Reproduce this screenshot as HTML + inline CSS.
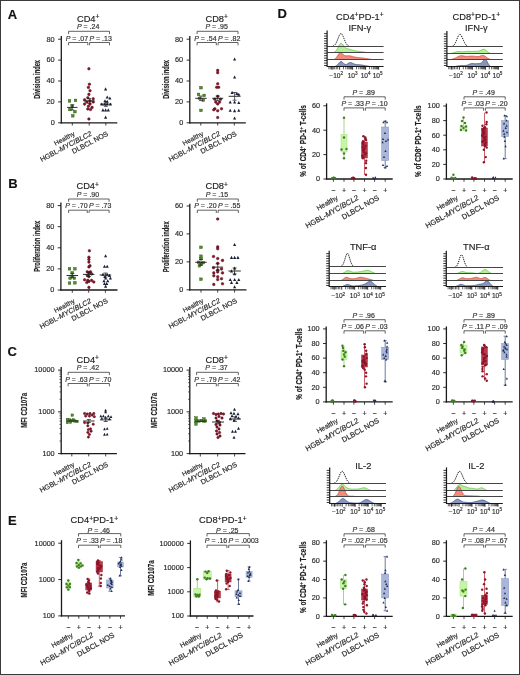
<!DOCTYPE html>
<html><head><meta charset="utf-8"><style>
html,body{margin:0;padding:0;background:#fff;}
svg{display:block;will-change:transform;}
text{font-family:"Liberation Sans", sans-serif;stroke:#333;stroke-width:0.18px;}
</style></head><body>
<svg width="520" height="675" viewBox="0 0 520 675">
<rect width="520" height="675" fill="#fff"/>
<rect x="0.5" y="0.5" width="519" height="674" fill="none" stroke="#3a3a3a" stroke-width="1"/>
<text x="7.8" y="18.5" font-size="13" font-weight="bold" fill="#111">A</text>
<text x="8.2" y="187.9" font-size="13" font-weight="bold" fill="#111">B</text>
<text x="7.6" y="356.4" font-size="13" font-weight="bold" fill="#111">C</text>
<text x="8" y="525.3" font-size="13" font-weight="bold" fill="#111">E</text>
<text x="277.5" y="18.3" font-size="13" font-weight="bold" fill="#111">D</text>
<line x1="61.3" y1="36" x2="61.3" y2="123.4" stroke="#1a1a1a" stroke-width="1.3"/>
<line x1="58.1" y1="122.8" x2="61.3" y2="122.8" stroke="#1a1a1a" stroke-width="0.9"/>
<text x="54.7" y="125.1" font-size="7.3" text-anchor="end" fill="#2a2a2a">0</text>
<line x1="58.1" y1="101.9" x2="61.3" y2="101.9" stroke="#1a1a1a" stroke-width="0.9"/>
<text x="54.7" y="104.2" font-size="7.3" text-anchor="end" fill="#2a2a2a">20</text>
<line x1="58.1" y1="81" x2="61.3" y2="81" stroke="#1a1a1a" stroke-width="0.9"/>
<text x="54.7" y="83.3" font-size="7.3" text-anchor="end" fill="#2a2a2a">40</text>
<line x1="58.1" y1="60.1" x2="61.3" y2="60.1" stroke="#1a1a1a" stroke-width="0.9"/>
<text x="54.7" y="62.4" font-size="7.3" text-anchor="end" fill="#2a2a2a">60</text>
<line x1="58.1" y1="39.2" x2="61.3" y2="39.2" stroke="#1a1a1a" stroke-width="0.9"/>
<text x="54.7" y="41.5" font-size="7.3" text-anchor="end" fill="#2a2a2a">80</text>
<line x1="60.65" y1="122.8" x2="117.3" y2="122.8" stroke="#1a1a1a" stroke-width="1.3"/>
<line x1="72.3" y1="122.8" x2="72.3" y2="125.6" stroke="#1a1a1a" stroke-width="0.8"/>
<line x1="89.2" y1="122.8" x2="89.2" y2="125.6" stroke="#1a1a1a" stroke-width="0.8"/>
<line x1="105.8" y1="122.8" x2="105.8" y2="125.6" stroke="#1a1a1a" stroke-width="0.8"/>
<text x="88.2" y="21.5" font-size="9.3" text-anchor="middle" fill="#1a1a1a">CD4<tspan font-size="6.7" dy="-2.3">+</tspan></text>
<text x="88.15" y="29" font-size="7" text-anchor="middle" fill="#333"><tspan font-style="italic">P</tspan> = .24</text>
<path d="M68.6,34.1V31.3H109.5V34.1" stroke="#3a3a3a" fill="none" stroke-width="0.8"/>
<text x="88.1" y="40.6" font-size="7" text-anchor="end" fill="#333"><tspan font-style="italic">P</tspan> = .07</text>
<text x="89.4" y="40.6" font-size="7" fill="#333"><tspan font-style="italic">P</tspan> = .13</text>
<path d="M68.6,45.3V42.5H87.8V45.3" stroke="#3a3a3a" fill="none" stroke-width="0.8"/>
<path d="M89.6,45.3V42.5H109.5V45.3" stroke="#3a3a3a" fill="none" stroke-width="0.8"/>
<text transform="translate(40.1,79.4) rotate(-90)" x="0" y="0" font-size="8.6" text-anchor="middle" textLength="38.9" lengthAdjust="spacingAndGlyphs" font-weight="bold" fill="#1a1a1a">Division index</text>
<rect x="68.2" y="99.6" width="2.6" height="2.6" fill="#4e8f2a" stroke="#2d5a16" stroke-width="0.45"/>
<rect x="74.2" y="99.1" width="2.6" height="2.6" fill="#4e8f2a" stroke="#2d5a16" stroke-width="0.45"/>
<rect x="70.9" y="105" width="2.6" height="2.6" fill="#4e8f2a" stroke="#2d5a16" stroke-width="0.45"/>
<rect x="68.7" y="108.2" width="2.6" height="2.6" fill="#4e8f2a" stroke="#2d5a16" stroke-width="0.45"/>
<rect x="73.6" y="110.4" width="2.6" height="2.6" fill="#4e8f2a" stroke="#2d5a16" stroke-width="0.45"/>
<rect x="71.5" y="114.5" width="2.6" height="2.6" fill="#4e8f2a" stroke="#2d5a16" stroke-width="0.45"/>
<circle cx="88.9" cy="68.8" r="1.3" fill="#8c1529" stroke="#4a0814" stroke-width="0.45"/>
<circle cx="89.4" cy="84.2" r="1.3" fill="#8c1529" stroke="#4a0814" stroke-width="0.45"/>
<circle cx="88.4" cy="87.4" r="1.3" fill="#8c1529" stroke="#4a0814" stroke-width="0.45"/>
<circle cx="90" cy="90.7" r="1.3" fill="#8c1529" stroke="#4a0814" stroke-width="0.45"/>
<circle cx="88.9" cy="94.4" r="1.3" fill="#8c1529" stroke="#4a0814" stroke-width="0.45"/>
<circle cx="87.8" cy="97.7" r="1.3" fill="#8c1529" stroke="#4a0814" stroke-width="0.45"/>
<circle cx="84.6" cy="99.8" r="1.3" fill="#8c1529" stroke="#4a0814" stroke-width="0.45"/>
<circle cx="93.2" cy="98.8" r="1.3" fill="#8c1529" stroke="#4a0814" stroke-width="0.45"/>
<circle cx="90" cy="100.9" r="1.3" fill="#8c1529" stroke="#4a0814" stroke-width="0.45"/>
<circle cx="86.8" cy="102" r="1.3" fill="#8c1529" stroke="#4a0814" stroke-width="0.45"/>
<circle cx="93.2" cy="102" r="1.3" fill="#8c1529" stroke="#4a0814" stroke-width="0.45"/>
<circle cx="84.6" cy="104.1" r="1.3" fill="#8c1529" stroke="#4a0814" stroke-width="0.45"/>
<circle cx="90" cy="104.1" r="1.3" fill="#8c1529" stroke="#4a0814" stroke-width="0.45"/>
<circle cx="88.4" cy="106.3" r="1.3" fill="#8c1529" stroke="#4a0814" stroke-width="0.45"/>
<circle cx="92.1" cy="107.4" r="1.3" fill="#8c1529" stroke="#4a0814" stroke-width="0.45"/>
<circle cx="87.8" cy="109" r="1.3" fill="#8c1529" stroke="#4a0814" stroke-width="0.45"/>
<circle cx="90.5" cy="109.5" r="1.3" fill="#8c1529" stroke="#4a0814" stroke-width="0.45"/>
<circle cx="88.9" cy="119" r="1.3" fill="#8c1529" stroke="#4a0814" stroke-width="0.45"/>
<path d="M105.6,87.31L107.15,90.39L104.05,90.39Z" fill="#161e36"/>
<path d="M107.2,95.41L108.75,98.49L105.65,98.49Z" fill="#161e36"/>
<path d="M109.9,96.51L111.45,99.59L108.35,99.59Z" fill="#161e36"/>
<path d="M105,99.21L106.55,102.3L103.45,102.3Z" fill="#161e36"/>
<path d="M107.2,99.71L108.75,102.8L105.65,102.8Z" fill="#161e36"/>
<path d="M101.8,102.41L103.35,105.49L100.25,105.49Z" fill="#161e36"/>
<path d="M104.5,102.41L106.05,105.49L102.95,105.49Z" fill="#161e36"/>
<path d="M107.2,102.41L108.75,105.49L105.65,105.49Z" fill="#161e36"/>
<path d="M110.4,102.41L111.95,105.49L108.85,105.49Z" fill="#161e36"/>
<path d="M102.9,108.31L104.45,111.39L101.35,111.39Z" fill="#161e36"/>
<path d="M105.6,108.31L107.15,111.39L104.05,111.39Z" fill="#161e36"/>
<path d="M108.3,108.31L109.85,111.39L106.75,111.39Z" fill="#161e36"/>
<path d="M105.6,115.61L107.15,118.69L104.05,118.69Z" fill="#161e36"/>
<line x1="67.05" y1="107.4" x2="77.55" y2="107.4" stroke="#1a1a1a" stroke-width="0.9"/>
<line x1="72.3" y1="104.7" x2="72.3" y2="110" stroke="#1a1a1a" stroke-width="0.7"/>
<line x1="70.3" y1="104.7" x2="74.3" y2="104.7" stroke="#1a1a1a" stroke-width="0.7"/>
<line x1="70.3" y1="110" x2="74.3" y2="110" stroke="#1a1a1a" stroke-width="0.7"/>
<line x1="83.7" y1="100.9" x2="94.7" y2="100.9" stroke="#1a1a1a" stroke-width="0.9"/>
<line x1="89.2" y1="98.5" x2="89.2" y2="103.3" stroke="#1a1a1a" stroke-width="0.7"/>
<line x1="87.2" y1="98.5" x2="91.2" y2="98.5" stroke="#1a1a1a" stroke-width="0.7"/>
<line x1="87.2" y1="103.3" x2="91.2" y2="103.3" stroke="#1a1a1a" stroke-width="0.7"/>
<line x1="100.05" y1="104.1" x2="111.55" y2="104.1" stroke="#1a1a1a" stroke-width="0.9"/>
<line x1="105.8" y1="101.8" x2="105.8" y2="106.4" stroke="#1a1a1a" stroke-width="0.7"/>
<line x1="103.8" y1="101.8" x2="107.8" y2="101.8" stroke="#1a1a1a" stroke-width="0.7"/>
<line x1="103.8" y1="106.4" x2="107.8" y2="106.4" stroke="#1a1a1a" stroke-width="0.7"/>
<text transform="translate(75.3,135.2) rotate(-28)" x="0" y="0" font-size="6.6" text-anchor="end" fill="#1a1a1a">Healthy</text>
<text transform="translate(92.2,135.2) rotate(-28)" x="0" y="0" font-size="7.1" text-anchor="end" fill="#1a1a1a">HGBL-<tspan font-style="italic">MYC</tspan>/<tspan font-style="italic">BLC2</tspan></text>
<text transform="translate(108.8,135.2) rotate(-28)" x="0" y="0" font-size="7.1" text-anchor="end" fill="#1a1a1a">DLBCL NOS</text>
<line x1="189.8" y1="36" x2="189.8" y2="123.4" stroke="#1a1a1a" stroke-width="1.3"/>
<line x1="186.6" y1="122.8" x2="189.8" y2="122.8" stroke="#1a1a1a" stroke-width="0.9"/>
<text x="183.2" y="125.1" font-size="7.3" text-anchor="end" fill="#2a2a2a">0</text>
<line x1="186.6" y1="101.9" x2="189.8" y2="101.9" stroke="#1a1a1a" stroke-width="0.9"/>
<text x="183.2" y="104.2" font-size="7.3" text-anchor="end" fill="#2a2a2a">20</text>
<line x1="186.6" y1="81" x2="189.8" y2="81" stroke="#1a1a1a" stroke-width="0.9"/>
<text x="183.2" y="83.3" font-size="7.3" text-anchor="end" fill="#2a2a2a">40</text>
<line x1="186.6" y1="60.1" x2="189.8" y2="60.1" stroke="#1a1a1a" stroke-width="0.9"/>
<text x="183.2" y="62.4" font-size="7.3" text-anchor="end" fill="#2a2a2a">60</text>
<line x1="186.6" y1="39.2" x2="189.8" y2="39.2" stroke="#1a1a1a" stroke-width="0.9"/>
<text x="183.2" y="41.5" font-size="7.3" text-anchor="end" fill="#2a2a2a">80</text>
<line x1="189.15" y1="122.8" x2="245.8" y2="122.8" stroke="#1a1a1a" stroke-width="1.3"/>
<line x1="200.8" y1="122.8" x2="200.8" y2="125.6" stroke="#1a1a1a" stroke-width="0.8"/>
<line x1="217.7" y1="122.8" x2="217.7" y2="125.6" stroke="#1a1a1a" stroke-width="0.8"/>
<line x1="234.3" y1="122.8" x2="234.3" y2="125.6" stroke="#1a1a1a" stroke-width="0.8"/>
<text x="216.7" y="21.5" font-size="9.3" text-anchor="middle" fill="#1a1a1a">CD8<tspan font-size="6.7" dy="-2.3">+</tspan></text>
<text x="216.65" y="29" font-size="7" text-anchor="middle" fill="#333"><tspan font-style="italic">P</tspan> = .95</text>
<path d="M197.1,34.1V31.3H238V34.1" stroke="#3a3a3a" fill="none" stroke-width="0.8"/>
<text x="216.6" y="40.6" font-size="7" text-anchor="end" fill="#333"><tspan font-style="italic">P</tspan> = .54</text>
<text x="217.9" y="40.6" font-size="7" fill="#333"><tspan font-style="italic">P</tspan> = .82</text>
<path d="M197.1,45.3V42.5H216.3V45.3" stroke="#3a3a3a" fill="none" stroke-width="0.8"/>
<path d="M218.1,45.3V42.5H238V45.3" stroke="#3a3a3a" fill="none" stroke-width="0.8"/>
<text transform="translate(168.6,79.4) rotate(-90)" x="0" y="0" font-size="8.6" text-anchor="middle" textLength="38.9" lengthAdjust="spacingAndGlyphs" font-weight="bold" fill="#1a1a1a">Division index</text>
<rect x="199.7" y="86.4" width="2.6" height="2.6" fill="#4e8f2a" stroke="#2d5a16" stroke-width="0.45"/>
<rect x="197.2" y="93.1" width="2.6" height="2.6" fill="#4e8f2a" stroke="#2d5a16" stroke-width="0.45"/>
<rect x="202.9" y="94.1" width="2.6" height="2.6" fill="#4e8f2a" stroke="#2d5a16" stroke-width="0.45"/>
<rect x="198.1" y="97" width="2.6" height="2.6" fill="#4e8f2a" stroke="#2d5a16" stroke-width="0.45"/>
<rect x="202" y="98.9" width="2.6" height="2.6" fill="#4e8f2a" stroke="#2d5a16" stroke-width="0.45"/>
<rect x="199.7" y="109.1" width="2.6" height="2.6" fill="#4e8f2a" stroke="#2d5a16" stroke-width="0.45"/>
<circle cx="217.7" cy="70.4" r="1.3" fill="#8c1529" stroke="#4a0814" stroke-width="0.45"/>
<circle cx="217.7" cy="72.7" r="1.3" fill="#8c1529" stroke="#4a0814" stroke-width="0.45"/>
<circle cx="217.7" cy="83.8" r="1.3" fill="#8c1529" stroke="#4a0814" stroke-width="0.45"/>
<circle cx="216.7" cy="87.3" r="1.3" fill="#8c1529" stroke="#4a0814" stroke-width="0.45"/>
<circle cx="218.7" cy="87.3" r="1.3" fill="#8c1529" stroke="#4a0814" stroke-width="0.45"/>
<circle cx="217.7" cy="96.3" r="1.3" fill="#8c1529" stroke="#4a0814" stroke-width="0.45"/>
<circle cx="214.8" cy="99.2" r="1.3" fill="#8c1529" stroke="#4a0814" stroke-width="0.45"/>
<circle cx="220.6" cy="99.2" r="1.3" fill="#8c1529" stroke="#4a0814" stroke-width="0.45"/>
<circle cx="215.8" cy="102.1" r="1.3" fill="#8c1529" stroke="#4a0814" stroke-width="0.45"/>
<circle cx="219.6" cy="102.1" r="1.3" fill="#8c1529" stroke="#4a0814" stroke-width="0.45"/>
<circle cx="217.7" cy="104" r="1.3" fill="#8c1529" stroke="#4a0814" stroke-width="0.45"/>
<circle cx="214.8" cy="108.8" r="1.3" fill="#8c1529" stroke="#4a0814" stroke-width="0.45"/>
<circle cx="221.5" cy="108.8" r="1.3" fill="#8c1529" stroke="#4a0814" stroke-width="0.45"/>
<circle cx="217.7" cy="110.8" r="1.3" fill="#8c1529" stroke="#4a0814" stroke-width="0.45"/>
<circle cx="213.8" cy="109.8" r="1.3" fill="#8c1529" stroke="#4a0814" stroke-width="0.45"/>
<circle cx="217.7" cy="117.5" r="1.3" fill="#8c1529" stroke="#4a0814" stroke-width="0.45"/>
<path d="M234.6,57.51L236.15,60.6L233.05,60.6Z" fill="#161e36"/>
<path d="M234.6,75.41L236.15,78.49L233.05,78.49Z" fill="#161e36"/>
<path d="M232.1,90.81L233.65,93.89L230.55,93.89Z" fill="#161e36"/>
<path d="M236.9,91.81L238.45,94.89L235.35,94.89Z" fill="#161e36"/>
<path d="M238.8,92.71L240.35,95.8L237.25,95.8Z" fill="#161e36"/>
<path d="M230.2,100.41L231.75,103.49L228.65,103.49Z" fill="#161e36"/>
<path d="M234.6,100.41L236.15,103.49L233.05,103.49Z" fill="#161e36"/>
<path d="M238.8,101.01L240.35,104.09L237.25,104.09Z" fill="#161e36"/>
<path d="M230.2,108.71L231.75,111.8L228.65,111.8Z" fill="#161e36"/>
<path d="M234.6,109.11L236.15,112.19L233.05,112.19Z" fill="#161e36"/>
<path d="M238.8,108.71L240.35,111.8L237.25,111.8Z" fill="#161e36"/>
<path d="M234.6,116.41L236.15,119.49L233.05,119.49Z" fill="#161e36"/>
<line x1="195.25" y1="98.3" x2="206.75" y2="98.3" stroke="#1a1a1a" stroke-width="0.9"/>
<line x1="201" y1="96" x2="201" y2="100.6" stroke="#1a1a1a" stroke-width="0.7"/>
<line x1="199" y1="96" x2="203" y2="96" stroke="#1a1a1a" stroke-width="0.7"/>
<line x1="199" y1="100.6" x2="203" y2="100.6" stroke="#1a1a1a" stroke-width="0.7"/>
<line x1="212.2" y1="98.3" x2="223.2" y2="98.3" stroke="#1a1a1a" stroke-width="0.9"/>
<line x1="217.7" y1="96" x2="217.7" y2="100.6" stroke="#1a1a1a" stroke-width="0.7"/>
<line x1="215.7" y1="96" x2="219.7" y2="96" stroke="#1a1a1a" stroke-width="0.7"/>
<line x1="215.7" y1="100.6" x2="219.7" y2="100.6" stroke="#1a1a1a" stroke-width="0.7"/>
<line x1="228.6" y1="96.3" x2="240.6" y2="96.3" stroke="#1a1a1a" stroke-width="0.9"/>
<line x1="234.6" y1="92.5" x2="234.6" y2="100.2" stroke="#1a1a1a" stroke-width="0.7"/>
<line x1="232.6" y1="92.5" x2="236.6" y2="92.5" stroke="#1a1a1a" stroke-width="0.7"/>
<line x1="232.6" y1="100.2" x2="236.6" y2="100.2" stroke="#1a1a1a" stroke-width="0.7"/>
<text transform="translate(203.8,135.2) rotate(-28)" x="0" y="0" font-size="6.6" text-anchor="end" fill="#1a1a1a">Healthy</text>
<text transform="translate(220.7,135.2) rotate(-28)" x="0" y="0" font-size="7.1" text-anchor="end" fill="#1a1a1a">HGBL-<tspan font-style="italic">MYC</tspan>/<tspan font-style="italic">BLC2</tspan></text>
<text transform="translate(237.3,135.2) rotate(-28)" x="0" y="0" font-size="7.1" text-anchor="end" fill="#1a1a1a">DLBCL NOS</text>
<line x1="60.9" y1="202.6" x2="60.9" y2="290.6" stroke="#1a1a1a" stroke-width="1.3"/>
<line x1="57.7" y1="290" x2="60.9" y2="290" stroke="#1a1a1a" stroke-width="0.9"/>
<text x="54.3" y="292.3" font-size="7.3" text-anchor="end" fill="#2a2a2a">0</text>
<line x1="57.7" y1="268.9" x2="60.9" y2="268.9" stroke="#1a1a1a" stroke-width="0.9"/>
<text x="54.3" y="271.2" font-size="7.3" text-anchor="end" fill="#2a2a2a">20</text>
<line x1="57.7" y1="247.8" x2="60.9" y2="247.8" stroke="#1a1a1a" stroke-width="0.9"/>
<text x="54.3" y="250.1" font-size="7.3" text-anchor="end" fill="#2a2a2a">40</text>
<line x1="57.7" y1="226.7" x2="60.9" y2="226.7" stroke="#1a1a1a" stroke-width="0.9"/>
<text x="54.3" y="229" font-size="7.3" text-anchor="end" fill="#2a2a2a">60</text>
<line x1="57.7" y1="205.6" x2="60.9" y2="205.6" stroke="#1a1a1a" stroke-width="0.9"/>
<text x="54.3" y="207.9" font-size="7.3" text-anchor="end" fill="#2a2a2a">80</text>
<line x1="60.25" y1="290" x2="117.5" y2="290" stroke="#1a1a1a" stroke-width="1.3"/>
<line x1="72.3" y1="290" x2="72.3" y2="292.8" stroke="#1a1a1a" stroke-width="0.8"/>
<line x1="88.7" y1="290" x2="88.7" y2="292.8" stroke="#1a1a1a" stroke-width="0.8"/>
<line x1="105.4" y1="290" x2="105.4" y2="292.8" stroke="#1a1a1a" stroke-width="0.8"/>
<text x="87.7" y="189.2" font-size="9.3" text-anchor="middle" fill="#1a1a1a">CD4<tspan font-size="6.7" dy="-2.3">+</tspan></text>
<text x="87.95" y="196.7" font-size="7" text-anchor="middle" fill="#333"><tspan font-style="italic">P</tspan> = .90</text>
<path d="M68.6,201.8V199H109.1V201.8" stroke="#3a3a3a" fill="none" stroke-width="0.8"/>
<text x="87.6" y="208.3" font-size="7" text-anchor="end" fill="#333"><tspan font-style="italic">P</tspan> = .70</text>
<text x="88.9" y="208.3" font-size="7" fill="#333"><tspan font-style="italic">P</tspan> = .73</text>
<path d="M68.6,213V210.2H87.3V213" stroke="#3a3a3a" fill="none" stroke-width="0.8"/>
<path d="M89.1,213V210.2H109.1V213" stroke="#3a3a3a" fill="none" stroke-width="0.8"/>
<text transform="translate(39.7,246.3) rotate(-90)" x="0" y="0" font-size="8.6" text-anchor="middle" textLength="51" lengthAdjust="spacingAndGlyphs" font-weight="bold" fill="#1a1a1a">Proliferation index</text>
<rect x="68.2" y="267.5" width="2.6" height="2.6" fill="#4e8f2a" stroke="#2d5a16" stroke-width="0.45"/>
<rect x="73.6" y="267.5" width="2.6" height="2.6" fill="#4e8f2a" stroke="#2d5a16" stroke-width="0.45"/>
<rect x="70.9" y="271.5" width="2.6" height="2.6" fill="#4e8f2a" stroke="#2d5a16" stroke-width="0.45"/>
<rect x="70.9" y="275.3" width="2.6" height="2.6" fill="#4e8f2a" stroke="#2d5a16" stroke-width="0.45"/>
<rect x="68.8" y="276.9" width="2.6" height="2.6" fill="#4e8f2a" stroke="#2d5a16" stroke-width="0.45"/>
<rect x="73.1" y="276.9" width="2.6" height="2.6" fill="#4e8f2a" stroke="#2d5a16" stroke-width="0.45"/>
<rect x="68.2" y="281.8" width="2.6" height="2.6" fill="#4e8f2a" stroke="#2d5a16" stroke-width="0.45"/>
<rect x="73.6" y="281.5" width="2.6" height="2.6" fill="#4e8f2a" stroke="#2d5a16" stroke-width="0.45"/>
<circle cx="89.4" cy="250.8" r="1.3" fill="#8c1529" stroke="#4a0814" stroke-width="0.45"/>
<circle cx="88.9" cy="257.2" r="1.3" fill="#8c1529" stroke="#4a0814" stroke-width="0.45"/>
<circle cx="88.9" cy="259.4" r="1.3" fill="#8c1529" stroke="#4a0814" stroke-width="0.45"/>
<circle cx="88.9" cy="262.1" r="1.3" fill="#8c1529" stroke="#4a0814" stroke-width="0.45"/>
<circle cx="88.9" cy="266.9" r="1.3" fill="#8c1529" stroke="#4a0814" stroke-width="0.45"/>
<circle cx="90" cy="265.8" r="1.3" fill="#8c1529" stroke="#4a0814" stroke-width="0.45"/>
<circle cx="87.3" cy="271.8" r="1.3" fill="#8c1529" stroke="#4a0814" stroke-width="0.45"/>
<circle cx="90.5" cy="271.8" r="1.3" fill="#8c1529" stroke="#4a0814" stroke-width="0.45"/>
<circle cx="88.9" cy="272.8" r="1.3" fill="#8c1529" stroke="#4a0814" stroke-width="0.45"/>
<circle cx="87.3" cy="275.5" r="1.3" fill="#8c1529" stroke="#4a0814" stroke-width="0.45"/>
<circle cx="91.6" cy="273.9" r="1.3" fill="#8c1529" stroke="#4a0814" stroke-width="0.45"/>
<circle cx="88.9" cy="276.6" r="1.3" fill="#8c1529" stroke="#4a0814" stroke-width="0.45"/>
<circle cx="84.6" cy="279.8" r="1.3" fill="#8c1529" stroke="#4a0814" stroke-width="0.45"/>
<circle cx="87.8" cy="280.4" r="1.3" fill="#8c1529" stroke="#4a0814" stroke-width="0.45"/>
<circle cx="91.6" cy="280.4" r="1.3" fill="#8c1529" stroke="#4a0814" stroke-width="0.45"/>
<circle cx="88.9" cy="281.4" r="1.3" fill="#8c1529" stroke="#4a0814" stroke-width="0.45"/>
<circle cx="86.8" cy="282.5" r="1.3" fill="#8c1529" stroke="#4a0814" stroke-width="0.45"/>
<circle cx="93.8" cy="282" r="1.3" fill="#8c1529" stroke="#4a0814" stroke-width="0.45"/>
<circle cx="88.9" cy="287.4" r="1.3" fill="#8c1529" stroke="#4a0814" stroke-width="0.45"/>
<path d="M105.6,254.2L107.15,257.3L104.05,257.3Z" fill="#161e36"/>
<path d="M104.5,264.7L106.05,267.79L102.95,267.79Z" fill="#161e36"/>
<path d="M107.2,264.7L108.75,267.79L105.65,267.79Z" fill="#161e36"/>
<path d="M102.9,272.7L104.45,275.79L101.35,275.79Z" fill="#161e36"/>
<path d="M107.2,272.7L108.75,275.79L105.65,275.79Z" fill="#161e36"/>
<path d="M109.4,273.81L110.95,276.89L107.85,276.89Z" fill="#161e36"/>
<path d="M105,274.91L106.55,278L103.45,278Z" fill="#161e36"/>
<path d="M110.4,276.5L111.95,279.59L108.85,279.59Z" fill="#161e36"/>
<path d="M105.6,276.5L107.15,279.59L104.05,279.59Z" fill="#161e36"/>
<path d="M104,279.2L105.55,282.29L102.45,282.29Z" fill="#161e36"/>
<path d="M107.7,279.2L109.25,282.29L106.15,282.29Z" fill="#161e36"/>
<path d="M104.5,281.91L106.05,285L102.95,285Z" fill="#161e36"/>
<path d="M106.7,281.91L108.25,285L105.15,285Z" fill="#161e36"/>
<path d="M105.6,284.61L107.15,287.69L104.05,287.69Z" fill="#161e36"/>
<line x1="66.55" y1="275.5" x2="78.05" y2="275.5" stroke="#1a1a1a" stroke-width="0.9"/>
<line x1="72.3" y1="273.4" x2="72.3" y2="277.7" stroke="#1a1a1a" stroke-width="0.7"/>
<line x1="70.3" y1="273.4" x2="74.3" y2="273.4" stroke="#1a1a1a" stroke-width="0.7"/>
<line x1="70.3" y1="277.7" x2="74.3" y2="277.7" stroke="#1a1a1a" stroke-width="0.7"/>
<line x1="82.95" y1="274.4" x2="94.45" y2="274.4" stroke="#1a1a1a" stroke-width="0.9"/>
<line x1="88.7" y1="272.3" x2="88.7" y2="276.5" stroke="#1a1a1a" stroke-width="0.7"/>
<line x1="86.7" y1="272.3" x2="90.7" y2="272.3" stroke="#1a1a1a" stroke-width="0.7"/>
<line x1="86.7" y1="276.5" x2="90.7" y2="276.5" stroke="#1a1a1a" stroke-width="0.7"/>
<line x1="99.65" y1="275" x2="111.15" y2="275" stroke="#1a1a1a" stroke-width="0.9"/>
<line x1="105.4" y1="273" x2="105.4" y2="277" stroke="#1a1a1a" stroke-width="0.7"/>
<line x1="103.4" y1="273" x2="107.4" y2="273" stroke="#1a1a1a" stroke-width="0.7"/>
<line x1="103.4" y1="277" x2="107.4" y2="277" stroke="#1a1a1a" stroke-width="0.7"/>
<text transform="translate(75.3,302.4) rotate(-28)" x="0" y="0" font-size="6.6" text-anchor="end" fill="#1a1a1a">Healthy</text>
<text transform="translate(91.7,302.4) rotate(-28)" x="0" y="0" font-size="7.1" text-anchor="end" fill="#1a1a1a">HGBL-<tspan font-style="italic">MYC</tspan>/<tspan font-style="italic">BLC2</tspan></text>
<text transform="translate(108.4,302.4) rotate(-28)" x="0" y="0" font-size="7.1" text-anchor="end" fill="#1a1a1a">DLBCL NOS</text>
<line x1="189.8" y1="203.7" x2="189.8" y2="290.4" stroke="#1a1a1a" stroke-width="1.3"/>
<line x1="186.6" y1="289.8" x2="189.8" y2="289.8" stroke="#1a1a1a" stroke-width="0.9"/>
<text x="183.2" y="292.1" font-size="7.3" text-anchor="end" fill="#2a2a2a">0</text>
<line x1="186.6" y1="261.87" x2="189.8" y2="261.87" stroke="#1a1a1a" stroke-width="0.9"/>
<text x="183.2" y="264.17" font-size="7.3" text-anchor="end" fill="#2a2a2a">20</text>
<line x1="186.6" y1="233.93" x2="189.8" y2="233.93" stroke="#1a1a1a" stroke-width="0.9"/>
<text x="183.2" y="236.23" font-size="7.3" text-anchor="end" fill="#2a2a2a">40</text>
<line x1="186.6" y1="206" x2="189.8" y2="206" stroke="#1a1a1a" stroke-width="0.9"/>
<text x="183.2" y="208.3" font-size="7.3" text-anchor="end" fill="#2a2a2a">60</text>
<line x1="189.15" y1="289.8" x2="246.5" y2="289.8" stroke="#1a1a1a" stroke-width="1.3"/>
<line x1="201" y1="289.8" x2="201" y2="292.6" stroke="#1a1a1a" stroke-width="0.8"/>
<line x1="217.7" y1="289.8" x2="217.7" y2="292.6" stroke="#1a1a1a" stroke-width="0.8"/>
<line x1="234.6" y1="289.8" x2="234.6" y2="292.6" stroke="#1a1a1a" stroke-width="0.8"/>
<text x="216.7" y="189.2" font-size="9.3" text-anchor="middle" fill="#1a1a1a">CD8<tspan font-size="6.7" dy="-2.3">+</tspan></text>
<text x="216.9" y="196.7" font-size="7" text-anchor="middle" fill="#333"><tspan font-style="italic">P</tspan> = .15</text>
<path d="M197.3,201.8V199H238.3V201.8" stroke="#3a3a3a" fill="none" stroke-width="0.8"/>
<text x="216.6" y="208.3" font-size="7" text-anchor="end" fill="#333"><tspan font-style="italic">P</tspan> = .20</text>
<text x="217.9" y="208.3" font-size="7" fill="#333"><tspan font-style="italic">P</tspan> = .55</text>
<path d="M197.3,213V210.2H216.3V213" stroke="#3a3a3a" fill="none" stroke-width="0.8"/>
<path d="M218.1,213V210.2H238.3V213" stroke="#3a3a3a" fill="none" stroke-width="0.8"/>
<text transform="translate(168.6,246.75) rotate(-90)" x="0" y="0" font-size="8.6" text-anchor="middle" textLength="51" lengthAdjust="spacingAndGlyphs" font-weight="bold" fill="#1a1a1a">Proliferation index</text>
<rect x="199.7" y="246" width="2.6" height="2.6" fill="#4e8f2a" stroke="#2d5a16" stroke-width="0.45"/>
<rect x="199.7" y="254.9" width="2.6" height="2.6" fill="#4e8f2a" stroke="#2d5a16" stroke-width="0.45"/>
<rect x="199.7" y="257.2" width="2.6" height="2.6" fill="#4e8f2a" stroke="#2d5a16" stroke-width="0.45"/>
<rect x="197.2" y="261" width="2.6" height="2.6" fill="#4e8f2a" stroke="#2d5a16" stroke-width="0.45"/>
<rect x="202" y="261.4" width="2.6" height="2.6" fill="#4e8f2a" stroke="#2d5a16" stroke-width="0.45"/>
<rect x="199.7" y="262.9" width="2.6" height="2.6" fill="#4e8f2a" stroke="#2d5a16" stroke-width="0.45"/>
<rect x="198.1" y="264.5" width="2.6" height="2.6" fill="#4e8f2a" stroke="#2d5a16" stroke-width="0.45"/>
<rect x="199.7" y="277.9" width="2.6" height="2.6" fill="#4e8f2a" stroke="#2d5a16" stroke-width="0.45"/>
<circle cx="217.7" cy="219" r="1.3" fill="#8c1529" stroke="#4a0814" stroke-width="0.45"/>
<circle cx="217.7" cy="246.9" r="1.3" fill="#8c1529" stroke="#4a0814" stroke-width="0.45"/>
<circle cx="217.7" cy="248.8" r="1.3" fill="#8c1529" stroke="#4a0814" stroke-width="0.45"/>
<circle cx="213.5" cy="256.5" r="1.3" fill="#8c1529" stroke="#4a0814" stroke-width="0.45"/>
<circle cx="217.7" cy="258.5" r="1.3" fill="#8c1529" stroke="#4a0814" stroke-width="0.45"/>
<circle cx="222.5" cy="260.4" r="1.3" fill="#8c1529" stroke="#4a0814" stroke-width="0.45"/>
<circle cx="217.7" cy="263.3" r="1.3" fill="#8c1529" stroke="#4a0814" stroke-width="0.45"/>
<circle cx="213.5" cy="267.7" r="1.3" fill="#8c1529" stroke="#4a0814" stroke-width="0.45"/>
<circle cx="221.5" cy="269" r="1.3" fill="#8c1529" stroke="#4a0814" stroke-width="0.45"/>
<circle cx="217.7" cy="270" r="1.3" fill="#8c1529" stroke="#4a0814" stroke-width="0.45"/>
<circle cx="217.7" cy="271.9" r="1.3" fill="#8c1529" stroke="#4a0814" stroke-width="0.45"/>
<circle cx="213.8" cy="272.9" r="1.3" fill="#8c1529" stroke="#4a0814" stroke-width="0.45"/>
<circle cx="222.5" cy="272.9" r="1.3" fill="#8c1529" stroke="#4a0814" stroke-width="0.45"/>
<circle cx="213.8" cy="275.8" r="1.3" fill="#8c1529" stroke="#4a0814" stroke-width="0.45"/>
<circle cx="217.7" cy="276.7" r="1.3" fill="#8c1529" stroke="#4a0814" stroke-width="0.45"/>
<circle cx="221.5" cy="278.7" r="1.3" fill="#8c1529" stroke="#4a0814" stroke-width="0.45"/>
<circle cx="217.7" cy="279.6" r="1.3" fill="#8c1529" stroke="#4a0814" stroke-width="0.45"/>
<circle cx="213.8" cy="284.4" r="1.3" fill="#8c1529" stroke="#4a0814" stroke-width="0.45"/>
<circle cx="222.5" cy="283.8" r="1.3" fill="#8c1529" stroke="#4a0814" stroke-width="0.45"/>
<path d="M234.6,242.9L236.15,246L233.05,246Z" fill="#161e36"/>
<path d="M231.5,255.81L233.05,258.89L229.95,258.89Z" fill="#161e36"/>
<path d="M234.6,255.81L236.15,258.89L233.05,258.89Z" fill="#161e36"/>
<path d="M237.9,255.81L239.45,258.89L236.35,258.89Z" fill="#161e36"/>
<path d="M234.6,266.41L236.15,269.5L233.05,269.5Z" fill="#161e36"/>
<path d="M231.5,269.31L233.05,272.39L229.95,272.39Z" fill="#161e36"/>
<path d="M234.6,272.11L236.15,275.19L233.05,275.19Z" fill="#161e36"/>
<path d="M230.2,277.91L231.75,281L228.65,281Z" fill="#161e36"/>
<path d="M234.6,277.91L236.15,281L233.05,281Z" fill="#161e36"/>
<path d="M238.8,277.91L240.35,281L237.25,281Z" fill="#161e36"/>
<path d="M231.5,280.81L233.05,283.89L229.95,283.89Z" fill="#161e36"/>
<path d="M236.9,280.81L238.45,283.89L235.35,283.89Z" fill="#161e36"/>
<path d="M234.6,285.2L236.15,288.29L233.05,288.29Z" fill="#161e36"/>
<line x1="195.25" y1="262.3" x2="206.75" y2="262.3" stroke="#1a1a1a" stroke-width="0.9"/>
<line x1="201" y1="259.4" x2="201" y2="265.2" stroke="#1a1a1a" stroke-width="0.7"/>
<line x1="199" y1="259.4" x2="203" y2="259.4" stroke="#1a1a1a" stroke-width="0.7"/>
<line x1="199" y1="265.2" x2="203" y2="265.2" stroke="#1a1a1a" stroke-width="0.7"/>
<line x1="212.2" y1="267.1" x2="223.2" y2="267.1" stroke="#1a1a1a" stroke-width="0.9"/>
<line x1="217.7" y1="263.8" x2="217.7" y2="270.4" stroke="#1a1a1a" stroke-width="0.7"/>
<line x1="215.7" y1="263.8" x2="219.7" y2="263.8" stroke="#1a1a1a" stroke-width="0.7"/>
<line x1="215.7" y1="270.4" x2="219.7" y2="270.4" stroke="#1a1a1a" stroke-width="0.7"/>
<line x1="228.35" y1="271" x2="240.85" y2="271" stroke="#1a1a1a" stroke-width="0.9"/>
<line x1="234.6" y1="268" x2="234.6" y2="274" stroke="#1a1a1a" stroke-width="0.7"/>
<line x1="232.6" y1="268" x2="236.6" y2="268" stroke="#1a1a1a" stroke-width="0.7"/>
<line x1="232.6" y1="274" x2="236.6" y2="274" stroke="#1a1a1a" stroke-width="0.7"/>
<text transform="translate(204,302.2) rotate(-28)" x="0" y="0" font-size="6.6" text-anchor="end" fill="#1a1a1a">Healthy</text>
<text transform="translate(220.7,302.2) rotate(-28)" x="0" y="0" font-size="7.1" text-anchor="end" fill="#1a1a1a">HGBL-<tspan font-style="italic">MYC</tspan>/<tspan font-style="italic">BLC2</tspan></text>
<text transform="translate(237.6,302.2) rotate(-28)" x="0" y="0" font-size="7.1" text-anchor="end" fill="#1a1a1a">DLBCL NOS</text>
<line x1="61.2" y1="367.1" x2="61.2" y2="454.2" stroke="#1a1a1a" stroke-width="1.3"/>
<line x1="58" y1="453.6" x2="61.2" y2="453.6" stroke="#1a1a1a" stroke-width="0.9"/>
<text x="54.6" y="455.9" font-size="7.3" text-anchor="end" fill="#2a2a2a">100</text>
<line x1="58" y1="411.85" x2="61.2" y2="411.85" stroke="#1a1a1a" stroke-width="0.9"/>
<text x="54.6" y="414.15" font-size="7.3" text-anchor="end" fill="#2a2a2a">1000</text>
<line x1="58" y1="370.1" x2="61.2" y2="370.1" stroke="#1a1a1a" stroke-width="0.9"/>
<text x="54.6" y="372.4" font-size="7.3" text-anchor="end" fill="#2a2a2a">10000</text>
<line x1="59.4" y1="441.03" x2="61.2" y2="441.03" stroke="#1a1a1a" stroke-width="0.6"/>
<line x1="59.4" y1="433.68" x2="61.2" y2="433.68" stroke="#1a1a1a" stroke-width="0.6"/>
<line x1="59.4" y1="428.46" x2="61.2" y2="428.46" stroke="#1a1a1a" stroke-width="0.6"/>
<line x1="59.4" y1="424.42" x2="61.2" y2="424.42" stroke="#1a1a1a" stroke-width="0.6"/>
<line x1="59.4" y1="421.11" x2="61.2" y2="421.11" stroke="#1a1a1a" stroke-width="0.6"/>
<line x1="59.4" y1="418.32" x2="61.2" y2="418.32" stroke="#1a1a1a" stroke-width="0.6"/>
<line x1="59.4" y1="415.9" x2="61.2" y2="415.9" stroke="#1a1a1a" stroke-width="0.6"/>
<line x1="59.4" y1="413.76" x2="61.2" y2="413.76" stroke="#1a1a1a" stroke-width="0.6"/>
<line x1="59.4" y1="399.28" x2="61.2" y2="399.28" stroke="#1a1a1a" stroke-width="0.6"/>
<line x1="59.4" y1="391.93" x2="61.2" y2="391.93" stroke="#1a1a1a" stroke-width="0.6"/>
<line x1="59.4" y1="386.71" x2="61.2" y2="386.71" stroke="#1a1a1a" stroke-width="0.6"/>
<line x1="59.4" y1="382.67" x2="61.2" y2="382.67" stroke="#1a1a1a" stroke-width="0.6"/>
<line x1="59.4" y1="379.36" x2="61.2" y2="379.36" stroke="#1a1a1a" stroke-width="0.6"/>
<line x1="59.4" y1="376.57" x2="61.2" y2="376.57" stroke="#1a1a1a" stroke-width="0.6"/>
<line x1="59.4" y1="374.15" x2="61.2" y2="374.15" stroke="#1a1a1a" stroke-width="0.6"/>
<line x1="59.4" y1="372.01" x2="61.2" y2="372.01" stroke="#1a1a1a" stroke-width="0.6"/>
<line x1="60.55" y1="453.6" x2="116.9" y2="453.6" stroke="#1a1a1a" stroke-width="1.3"/>
<line x1="71.8" y1="453.6" x2="71.8" y2="456.4" stroke="#1a1a1a" stroke-width="0.8"/>
<line x1="88.75" y1="453.6" x2="88.75" y2="456.4" stroke="#1a1a1a" stroke-width="0.8"/>
<line x1="105.7" y1="453.6" x2="105.7" y2="456.4" stroke="#1a1a1a" stroke-width="0.8"/>
<text x="87.75" y="362.5" font-size="9.3" text-anchor="middle" fill="#1a1a1a">CD4<tspan font-size="6.7" dy="-2.3">+</tspan></text>
<text x="87.85" y="370" font-size="7" text-anchor="middle" fill="#333"><tspan font-style="italic">P</tspan> = .42</text>
<path d="M68.1,375.1V372.3H109.4V375.1" stroke="#3a3a3a" fill="none" stroke-width="0.8"/>
<text x="87.65" y="381.6" font-size="7" text-anchor="end" fill="#333"><tspan font-style="italic">P</tspan> = .63</text>
<text x="88.95" y="381.6" font-size="7" fill="#333"><tspan font-style="italic">P</tspan> = .70</text>
<path d="M68.1,386.3V383.5H87.35V386.3" stroke="#3a3a3a" fill="none" stroke-width="0.8"/>
<path d="M89.15,386.3V383.5H109.4V386.3" stroke="#3a3a3a" fill="none" stroke-width="0.8"/>
<text transform="translate(27.4,410.35) rotate(-90)" x="0" y="0" font-size="8.6" text-anchor="middle" textLength="35" lengthAdjust="spacingAndGlyphs" font-weight="bold" fill="#1a1a1a">MFI CD107a</text>
<rect x="71.03" y="413.93" width="2.34" height="2.34" fill="#4e8f2a" stroke="#2d5a16" stroke-width="0.45"/>
<rect x="66.23" y="418.23" width="2.34" height="2.34" fill="#4e8f2a" stroke="#2d5a16" stroke-width="0.45"/>
<rect x="68.33" y="418.73" width="2.34" height="2.34" fill="#4e8f2a" stroke="#2d5a16" stroke-width="0.45"/>
<rect x="70.53" y="419.33" width="2.34" height="2.34" fill="#4e8f2a" stroke="#2d5a16" stroke-width="0.45"/>
<rect x="72.13" y="418.73" width="2.34" height="2.34" fill="#4e8f2a" stroke="#2d5a16" stroke-width="0.45"/>
<rect x="73.73" y="419.83" width="2.34" height="2.34" fill="#4e8f2a" stroke="#2d5a16" stroke-width="0.45"/>
<rect x="75.93" y="420.33" width="2.34" height="2.34" fill="#4e8f2a" stroke="#2d5a16" stroke-width="0.45"/>
<rect x="66.23" y="421.43" width="2.34" height="2.34" fill="#4e8f2a" stroke="#2d5a16" stroke-width="0.45"/>
<rect x="69.43" y="420.93" width="2.34" height="2.34" fill="#4e8f2a" stroke="#2d5a16" stroke-width="0.45"/>
<circle cx="84.6" cy="413.5" r="1.17" fill="#8c1529" stroke="#4a0814" stroke-width="0.45"/>
<circle cx="87.3" cy="414" r="1.17" fill="#8c1529" stroke="#4a0814" stroke-width="0.45"/>
<circle cx="90" cy="413.5" r="1.17" fill="#8c1529" stroke="#4a0814" stroke-width="0.45"/>
<circle cx="93.8" cy="413.5" r="1.17" fill="#8c1529" stroke="#4a0814" stroke-width="0.45"/>
<circle cx="92.1" cy="415.1" r="1.17" fill="#8c1529" stroke="#4a0814" stroke-width="0.45"/>
<circle cx="85.7" cy="416.1" r="1.17" fill="#8c1529" stroke="#4a0814" stroke-width="0.45"/>
<circle cx="89.4" cy="416.1" r="1.17" fill="#8c1529" stroke="#4a0814" stroke-width="0.45"/>
<circle cx="94.3" cy="416.7" r="1.17" fill="#8c1529" stroke="#4a0814" stroke-width="0.45"/>
<circle cx="84.6" cy="422.6" r="1.17" fill="#8c1529" stroke="#4a0814" stroke-width="0.45"/>
<circle cx="87.8" cy="423.1" r="1.17" fill="#8c1529" stroke="#4a0814" stroke-width="0.45"/>
<circle cx="93.2" cy="424.2" r="1.17" fill="#8c1529" stroke="#4a0814" stroke-width="0.45"/>
<circle cx="87.8" cy="425.8" r="1.17" fill="#8c1529" stroke="#4a0814" stroke-width="0.45"/>
<circle cx="90.5" cy="428.8" r="1.17" fill="#8c1529" stroke="#4a0814" stroke-width="0.45"/>
<circle cx="88.4" cy="429.6" r="1.17" fill="#8c1529" stroke="#4a0814" stroke-width="0.45"/>
<circle cx="91.1" cy="431.2" r="1.17" fill="#8c1529" stroke="#4a0814" stroke-width="0.45"/>
<circle cx="87.8" cy="432.3" r="1.17" fill="#8c1529" stroke="#4a0814" stroke-width="0.45"/>
<circle cx="89.4" cy="434.4" r="1.17" fill="#8c1529" stroke="#4a0814" stroke-width="0.45"/>
<circle cx="88.4" cy="437.1" r="1.17" fill="#8c1529" stroke="#4a0814" stroke-width="0.45"/>
<path d="M105.6,408.64L106.99,411.46L104.2,411.46Z" fill="#161e36"/>
<path d="M105.6,410.44L106.99,413.26L104.2,413.26Z" fill="#161e36"/>
<path d="M100.8,414.54L102.19,417.36L99.41,417.36Z" fill="#161e36"/>
<path d="M103.4,414.54L104.8,417.36L102.01,417.36Z" fill="#161e36"/>
<path d="M105.6,415.64L106.99,418.46L104.2,418.46Z" fill="#161e36"/>
<path d="M108.3,414.54L109.69,417.36L106.91,417.36Z" fill="#161e36"/>
<path d="M111,415.14L112.39,417.96L109.61,417.96Z" fill="#161e36"/>
<path d="M101.8,416.74L103.19,419.56L100.41,419.56Z" fill="#161e36"/>
<path d="M109.4,417.24L110.8,420.06L108.01,420.06Z" fill="#161e36"/>
<path d="M104.5,427.54L105.89,430.36L103.11,430.36Z" fill="#161e36"/>
<path d="M107.2,426.94L108.59,429.76L105.81,429.76Z" fill="#161e36"/>
<path d="M104.5,432.84L105.89,435.66L103.11,435.66Z" fill="#161e36"/>
<path d="M107.2,432.64L108.59,435.46L105.81,435.46Z" fill="#161e36"/>
<line x1="66.45" y1="421" x2="77.95" y2="421" stroke="#1a1a1a" stroke-width="0.9"/>
<line x1="83.05" y1="421" x2="94.55" y2="421" stroke="#1a1a1a" stroke-width="0.9"/>
<line x1="88.8" y1="419.5" x2="88.8" y2="422.5" stroke="#1a1a1a" stroke-width="0.7"/>
<line x1="86.8" y1="419.5" x2="90.8" y2="419.5" stroke="#1a1a1a" stroke-width="0.7"/>
<line x1="86.8" y1="422.5" x2="90.8" y2="422.5" stroke="#1a1a1a" stroke-width="0.7"/>
<line x1="99.95" y1="419.9" x2="111.45" y2="419.9" stroke="#1a1a1a" stroke-width="0.9"/>
<line x1="105.7" y1="418.3" x2="105.7" y2="421.5" stroke="#1a1a1a" stroke-width="0.7"/>
<line x1="103.7" y1="418.3" x2="107.7" y2="418.3" stroke="#1a1a1a" stroke-width="0.7"/>
<line x1="103.7" y1="421.5" x2="107.7" y2="421.5" stroke="#1a1a1a" stroke-width="0.7"/>
<text transform="translate(74.8,466) rotate(-28)" x="0" y="0" font-size="6.6" text-anchor="end" fill="#1a1a1a">Healthy</text>
<text transform="translate(91.75,466) rotate(-28)" x="0" y="0" font-size="7.1" text-anchor="end" fill="#1a1a1a">HGBL-<tspan font-style="italic">MYC</tspan>/<tspan font-style="italic">BLC2</tspan></text>
<text transform="translate(108.7,466) rotate(-28)" x="0" y="0" font-size="7.1" text-anchor="end" fill="#1a1a1a">DLBCL NOS</text>
<line x1="189.8" y1="367.1" x2="189.8" y2="454.3" stroke="#1a1a1a" stroke-width="1.3"/>
<line x1="186.6" y1="453.6" x2="189.8" y2="453.6" stroke="#1a1a1a" stroke-width="0.9"/>
<text x="183.2" y="455.9" font-size="7.3" text-anchor="end" fill="#2a2a2a">100</text>
<line x1="186.6" y1="411.85" x2="189.8" y2="411.85" stroke="#1a1a1a" stroke-width="0.9"/>
<text x="183.2" y="414.15" font-size="7.3" text-anchor="end" fill="#2a2a2a">1000</text>
<line x1="186.6" y1="370.1" x2="189.8" y2="370.1" stroke="#1a1a1a" stroke-width="0.9"/>
<text x="183.2" y="372.4" font-size="7.3" text-anchor="end" fill="#2a2a2a">10000</text>
<line x1="188" y1="441.03" x2="189.8" y2="441.03" stroke="#1a1a1a" stroke-width="0.6"/>
<line x1="188" y1="433.68" x2="189.8" y2="433.68" stroke="#1a1a1a" stroke-width="0.6"/>
<line x1="188" y1="428.46" x2="189.8" y2="428.46" stroke="#1a1a1a" stroke-width="0.6"/>
<line x1="188" y1="424.42" x2="189.8" y2="424.42" stroke="#1a1a1a" stroke-width="0.6"/>
<line x1="188" y1="421.11" x2="189.8" y2="421.11" stroke="#1a1a1a" stroke-width="0.6"/>
<line x1="188" y1="418.32" x2="189.8" y2="418.32" stroke="#1a1a1a" stroke-width="0.6"/>
<line x1="188" y1="415.9" x2="189.8" y2="415.9" stroke="#1a1a1a" stroke-width="0.6"/>
<line x1="188" y1="413.76" x2="189.8" y2="413.76" stroke="#1a1a1a" stroke-width="0.6"/>
<line x1="188" y1="399.28" x2="189.8" y2="399.28" stroke="#1a1a1a" stroke-width="0.6"/>
<line x1="188" y1="391.93" x2="189.8" y2="391.93" stroke="#1a1a1a" stroke-width="0.6"/>
<line x1="188" y1="386.71" x2="189.8" y2="386.71" stroke="#1a1a1a" stroke-width="0.6"/>
<line x1="188" y1="382.67" x2="189.8" y2="382.67" stroke="#1a1a1a" stroke-width="0.6"/>
<line x1="188" y1="379.36" x2="189.8" y2="379.36" stroke="#1a1a1a" stroke-width="0.6"/>
<line x1="188" y1="376.57" x2="189.8" y2="376.57" stroke="#1a1a1a" stroke-width="0.6"/>
<line x1="188" y1="374.15" x2="189.8" y2="374.15" stroke="#1a1a1a" stroke-width="0.6"/>
<line x1="188" y1="372.01" x2="189.8" y2="372.01" stroke="#1a1a1a" stroke-width="0.6"/>
<line x1="189.15" y1="453.7" x2="245.5" y2="453.7" stroke="#1a1a1a" stroke-width="1.3"/>
<line x1="200.3" y1="453.7" x2="200.3" y2="456.5" stroke="#1a1a1a" stroke-width="0.8"/>
<line x1="217.7" y1="453.7" x2="217.7" y2="456.5" stroke="#1a1a1a" stroke-width="0.8"/>
<line x1="234.6" y1="453.7" x2="234.6" y2="456.5" stroke="#1a1a1a" stroke-width="0.8"/>
<text x="216.7" y="362.5" font-size="9.3" text-anchor="middle" fill="#1a1a1a">CD8<tspan font-size="6.7" dy="-2.3">+</tspan></text>
<text x="216.55" y="370" font-size="7" text-anchor="middle" fill="#333"><tspan font-style="italic">P</tspan> = .37</text>
<path d="M196.6,375.1V372.3H238.3V375.1" stroke="#3a3a3a" fill="none" stroke-width="0.8"/>
<text x="216.6" y="381.6" font-size="7" text-anchor="end" fill="#333"><tspan font-style="italic">P</tspan> = .79</text>
<text x="217.9" y="381.6" font-size="7" fill="#333"><tspan font-style="italic">P</tspan> = .42</text>
<path d="M196.6,386.3V383.5H216.3V386.3" stroke="#3a3a3a" fill="none" stroke-width="0.8"/>
<path d="M218.1,386.3V383.5H238.3V386.3" stroke="#3a3a3a" fill="none" stroke-width="0.8"/>
<text transform="translate(157,410.4) rotate(-90)" x="0" y="0" font-size="8.6" text-anchor="middle" textLength="35" lengthAdjust="spacingAndGlyphs" font-weight="bold" fill="#1a1a1a">MFI CD107a</text>
<rect x="194.76" y="416.76" width="2.47" height="2.47" fill="#4e8f2a" stroke="#2d5a16" stroke-width="0.45"/>
<rect x="194.76" y="419.76" width="2.47" height="2.47" fill="#4e8f2a" stroke="#2d5a16" stroke-width="0.45"/>
<rect x="194.76" y="422.76" width="2.47" height="2.47" fill="#4e8f2a" stroke="#2d5a16" stroke-width="0.45"/>
<rect x="197.76" y="419.76" width="2.47" height="2.47" fill="#4e8f2a" stroke="#2d5a16" stroke-width="0.45"/>
<rect x="200.26" y="419.26" width="2.47" height="2.47" fill="#4e8f2a" stroke="#2d5a16" stroke-width="0.45"/>
<rect x="202.26" y="419.76" width="2.47" height="2.47" fill="#4e8f2a" stroke="#2d5a16" stroke-width="0.45"/>
<rect x="204.26" y="419.76" width="2.47" height="2.47" fill="#4e8f2a" stroke="#2d5a16" stroke-width="0.45"/>
<rect x="202.76" y="417.76" width="2.47" height="2.47" fill="#4e8f2a" stroke="#2d5a16" stroke-width="0.45"/>
<circle cx="213.5" cy="413.5" r="1.23" fill="#8c1529" stroke="#4a0814" stroke-width="0.45"/>
<circle cx="216" cy="414.5" r="1.23" fill="#8c1529" stroke="#4a0814" stroke-width="0.45"/>
<circle cx="218.3" cy="414" r="1.23" fill="#8c1529" stroke="#4a0814" stroke-width="0.45"/>
<circle cx="221" cy="413.5" r="1.23" fill="#8c1529" stroke="#4a0814" stroke-width="0.45"/>
<circle cx="223.5" cy="414" r="1.23" fill="#8c1529" stroke="#4a0814" stroke-width="0.45"/>
<circle cx="219" cy="416.5" r="1.23" fill="#8c1529" stroke="#4a0814" stroke-width="0.45"/>
<circle cx="216" cy="418" r="1.23" fill="#8c1529" stroke="#4a0814" stroke-width="0.45"/>
<circle cx="222" cy="418" r="1.23" fill="#8c1529" stroke="#4a0814" stroke-width="0.45"/>
<circle cx="217" cy="421" r="1.23" fill="#8c1529" stroke="#4a0814" stroke-width="0.45"/>
<circle cx="219.5" cy="422.5" r="1.23" fill="#8c1529" stroke="#4a0814" stroke-width="0.45"/>
<circle cx="216" cy="424.5" r="1.23" fill="#8c1529" stroke="#4a0814" stroke-width="0.45"/>
<circle cx="220" cy="425" r="1.23" fill="#8c1529" stroke="#4a0814" stroke-width="0.45"/>
<circle cx="217" cy="427" r="1.23" fill="#8c1529" stroke="#4a0814" stroke-width="0.45"/>
<circle cx="219" cy="429" r="1.23" fill="#8c1529" stroke="#4a0814" stroke-width="0.45"/>
<circle cx="216.5" cy="431" r="1.23" fill="#8c1529" stroke="#4a0814" stroke-width="0.45"/>
<circle cx="219.5" cy="432.5" r="1.23" fill="#8c1529" stroke="#4a0814" stroke-width="0.45"/>
<circle cx="217" cy="434" r="1.23" fill="#8c1529" stroke="#4a0814" stroke-width="0.45"/>
<circle cx="220" cy="436" r="1.23" fill="#8c1529" stroke="#4a0814" stroke-width="0.45"/>
<circle cx="218" cy="437.5" r="1.23" fill="#8c1529" stroke="#4a0814" stroke-width="0.45"/>
<path d="M234.5,407.87L235.97,410.83L233.03,410.83Z" fill="#161e36"/>
<path d="M231,411.37L232.47,414.33L229.53,414.33Z" fill="#161e36"/>
<path d="M234,411.87L235.47,414.83L232.53,414.83Z" fill="#161e36"/>
<path d="M238,412.37L239.47,415.33L236.53,415.33Z" fill="#161e36"/>
<path d="M232,414.37L233.47,417.33L230.53,417.33Z" fill="#161e36"/>
<path d="M236,414.87L237.47,417.83L234.53,417.83Z" fill="#161e36"/>
<path d="M238.5,416.37L239.97,419.33L237.03,419.33Z" fill="#161e36"/>
<path d="M230.5,417.37L231.97,420.33L229.03,420.33Z" fill="#161e36"/>
<path d="M234,418.87L235.47,421.83L232.53,421.83Z" fill="#161e36"/>
<path d="M232.5,429.87L233.97,432.83L231.03,432.83Z" fill="#161e36"/>
<path d="M235.5,429.87L236.97,432.83L234.03,432.83Z" fill="#161e36"/>
<path d="M238.5,426.87L239.97,429.83L237.03,429.83Z" fill="#161e36"/>
<path d="M234,435.87L235.47,438.83L232.53,438.83Z" fill="#161e36"/>
<line x1="194.75" y1="421.2" x2="206.25" y2="421.2" stroke="#1a1a1a" stroke-width="0.9"/>
<line x1="212" y1="422" x2="224" y2="422" stroke="#1a1a1a" stroke-width="0.9"/>
<line x1="218" y1="420.3" x2="218" y2="423.8" stroke="#1a1a1a" stroke-width="0.7"/>
<line x1="216" y1="420.3" x2="220" y2="420.3" stroke="#1a1a1a" stroke-width="0.7"/>
<line x1="216" y1="423.8" x2="220" y2="423.8" stroke="#1a1a1a" stroke-width="0.7"/>
<line x1="229" y1="419" x2="241" y2="419" stroke="#1a1a1a" stroke-width="0.9"/>
<line x1="235" y1="416.8" x2="235" y2="421.3" stroke="#1a1a1a" stroke-width="0.7"/>
<line x1="233" y1="416.8" x2="237" y2="416.8" stroke="#1a1a1a" stroke-width="0.7"/>
<line x1="233" y1="421.3" x2="237" y2="421.3" stroke="#1a1a1a" stroke-width="0.7"/>
<text transform="translate(203.3,466.1) rotate(-28)" x="0" y="0" font-size="6.6" text-anchor="end" fill="#1a1a1a">Healthy</text>
<text transform="translate(220.7,466.1) rotate(-28)" x="0" y="0" font-size="7.1" text-anchor="end" fill="#1a1a1a">HGBL-<tspan font-style="italic">MYC</tspan>/<tspan font-style="italic">BLC2</tspan></text>
<text transform="translate(237.6,466.1) rotate(-28)" x="0" y="0" font-size="7.1" text-anchor="end" fill="#1a1a1a">DLBCL NOS</text>
<line x1="61.5" y1="540.2" x2="61.5" y2="616.5" stroke="#1a1a1a" stroke-width="1.3"/>
<line x1="58.3" y1="615.9" x2="61.5" y2="615.9" stroke="#1a1a1a" stroke-width="0.9"/>
<text x="54.9" y="618.2" font-size="7.3" text-anchor="end" fill="#2a2a2a">100</text>
<line x1="58.3" y1="579.55" x2="61.5" y2="579.55" stroke="#1a1a1a" stroke-width="0.9"/>
<text x="54.9" y="581.85" font-size="7.3" text-anchor="end" fill="#2a2a2a">1000</text>
<line x1="58.3" y1="543.2" x2="61.5" y2="543.2" stroke="#1a1a1a" stroke-width="0.9"/>
<text x="54.9" y="545.5" font-size="7.3" text-anchor="end" fill="#2a2a2a">10000</text>
<line x1="60.85" y1="615.9" x2="125" y2="615.9" stroke="#1a1a1a" stroke-width="1.3"/>
<line x1="68.3" y1="615.9" x2="68.3" y2="618.7" stroke="#1a1a1a" stroke-width="0.8"/>
<line x1="78.8" y1="615.9" x2="78.8" y2="618.7" stroke="#1a1a1a" stroke-width="0.8"/>
<line x1="88.75" y1="615.9" x2="88.75" y2="618.7" stroke="#1a1a1a" stroke-width="0.8"/>
<line x1="99.3" y1="615.9" x2="99.3" y2="618.7" stroke="#1a1a1a" stroke-width="0.8"/>
<line x1="109.9" y1="615.9" x2="109.9" y2="618.7" stroke="#1a1a1a" stroke-width="0.8"/>
<line x1="120.5" y1="615.9" x2="120.5" y2="618.7" stroke="#1a1a1a" stroke-width="0.8"/>
<text x="94.4" y="522.9" font-size="9.3" text-anchor="middle" fill="#1a1a1a">CD4<tspan font-size="6.7" dy="-2.3">+</tspan><tspan dy="2.3">PD-1</tspan><tspan font-size="6.7" dy="-2.3">+</tspan></text>
<text x="98.75" y="532.5" font-size="7" text-anchor="middle" fill="#333"><tspan font-style="italic">P</tspan> = .46</text>
<path d="M78.5,536.4V533.6H120.8V536.4" stroke="#3a3a3a" fill="none" stroke-width="0.8"/>
<text x="98.7" y="543.4" font-size="7" text-anchor="end" fill="#333"><tspan font-style="italic">P</tspan> = .33</text>
<text x="100" y="543.4" font-size="7" fill="#333"><tspan font-style="italic">P</tspan> = .18</text>
<path d="M78.5,548V545.2H98.4V548" stroke="#3a3a3a" fill="none" stroke-width="0.8"/>
<path d="M100.2,548V545.2H120.8V548" stroke="#3a3a3a" fill="none" stroke-width="0.8"/>
<text x="68.3" y="629.5" font-size="7" text-anchor="middle" fill="#333">−</text>
<text x="78.8" y="629.5" font-size="7" text-anchor="middle" fill="#333">+</text>
<text x="88.75" y="629.5" font-size="7" text-anchor="middle" fill="#333">−</text>
<text x="99.3" y="629.5" font-size="7" text-anchor="middle" fill="#333">+</text>
<text x="109.9" y="629.5" font-size="7" text-anchor="middle" fill="#333">−</text>
<text x="120.5" y="629.5" font-size="7" text-anchor="middle" fill="#333">+</text>
<line x1="68.3" y1="590" x2="68.3" y2="580.2" stroke="#8fc776" stroke-width="0.8"/>
<line x1="66.7" y1="590" x2="69.9" y2="590" stroke="#8fc776" stroke-width="0.7"/>
<line x1="66.7" y1="580.2" x2="69.9" y2="580.2" stroke="#8fc776" stroke-width="0.7"/>
<rect x="65.8" y="582.5" width="5" height="5" fill="#c6f5a6" stroke="#a6e07e" stroke-width="0.5"/>
<circle cx="68.3" cy="580.5" r="1.2" fill="#3f7f22"/>
<circle cx="66.6" cy="584" r="1.2" fill="#3f7f22"/>
<circle cx="70" cy="584" r="1.2" fill="#3f7f22"/>
<circle cx="68.3" cy="585.6" r="1.2" fill="#3f7f22"/>
<circle cx="66.8" cy="587.4" r="1.2" fill="#3f7f22"/>
<circle cx="69.8" cy="587.2" r="1.2" fill="#3f7f22"/>
<circle cx="68.3" cy="589.6" r="1.2" fill="#3f7f22"/>
<line x1="78.8" y1="568.5" x2="78.8" y2="559.8" stroke="#8fc776" stroke-width="0.8"/>
<line x1="77.2" y1="568.5" x2="80.4" y2="568.5" stroke="#8fc776" stroke-width="0.7"/>
<line x1="77.2" y1="559.8" x2="80.4" y2="559.8" stroke="#8fc776" stroke-width="0.7"/>
<rect x="75.8" y="562" width="6" height="4.5" fill="#c6f5a6" stroke="#a6e07e" stroke-width="0.5"/>
<circle cx="78.3" cy="560" r="1.2" fill="#3f7f22"/>
<circle cx="76.6" cy="563" r="1.2" fill="#3f7f22"/>
<circle cx="80.6" cy="563.4" r="1.2" fill="#3f7f22"/>
<circle cx="78.8" cy="565" r="1.2" fill="#3f7f22"/>
<circle cx="77" cy="566.5" r="1.2" fill="#3f7f22"/>
<circle cx="81" cy="566.4" r="1.2" fill="#3f7f22"/>
<circle cx="79" cy="567.6" r="1.2" fill="#3f7f22"/>
<circle cx="82.6" cy="565.4" r="1.2" fill="#3f7f22"/>
<line x1="88.75" y1="593.7" x2="88.75" y2="578.9" stroke="#c23a44" stroke-width="0.8"/>
<line x1="87.15" y1="593.7" x2="90.35" y2="593.7" stroke="#c23a44" stroke-width="0.7"/>
<line x1="87.15" y1="578.9" x2="90.35" y2="578.9" stroke="#c23a44" stroke-width="0.7"/>
<rect x="85.75" y="583" width="6" height="7" fill="#b83a4c" stroke="#a83040" stroke-width="0.5"/>
<circle cx="87.6" cy="579" r="1.2" fill="#8c1529"/>
<circle cx="88.94" cy="580.5" r="1.2" fill="#8c1529"/>
<circle cx="88.18" cy="582" r="1.2" fill="#8c1529"/>
<circle cx="89.21" cy="583" r="1.2" fill="#8c1529"/>
<circle cx="89.3" cy="584" r="1.2" fill="#8c1529"/>
<circle cx="86.84" cy="584.5" r="1.2" fill="#8c1529"/>
<circle cx="86.61" cy="585" r="1.2" fill="#8c1529"/>
<circle cx="90.23" cy="586" r="1.2" fill="#8c1529"/>
<circle cx="87.69" cy="586.5" r="1.2" fill="#8c1529"/>
<circle cx="87.58" cy="587" r="1.2" fill="#8c1529"/>
<circle cx="90.93" cy="588" r="1.2" fill="#8c1529"/>
<circle cx="88.62" cy="588.5" r="1.2" fill="#8c1529"/>
<circle cx="90.23" cy="589" r="1.2" fill="#8c1529"/>
<circle cx="88.65" cy="590" r="1.2" fill="#8c1529"/>
<circle cx="89.36" cy="591" r="1.2" fill="#8c1529"/>
<circle cx="87.21" cy="592.5" r="1.2" fill="#8c1529"/>
<circle cx="89.34" cy="593.5" r="1.2" fill="#8c1529"/>
<line x1="99.3" y1="586.3" x2="99.3" y2="560.5" stroke="#c23a44" stroke-width="0.8"/>
<line x1="97.7" y1="586.3" x2="100.9" y2="586.3" stroke="#c23a44" stroke-width="0.7"/>
<line x1="97.7" y1="560.5" x2="100.9" y2="560.5" stroke="#c23a44" stroke-width="0.7"/>
<rect x="96.05" y="561.5" width="6.5" height="10.5" fill="#b83a4c" stroke="#a83040" stroke-width="0.5"/>
<circle cx="98.03" cy="560.5" r="1.2" fill="#8c1529"/>
<circle cx="97.4" cy="561.5" r="1.2" fill="#8c1529"/>
<circle cx="98.8" cy="562.5" r="1.2" fill="#8c1529"/>
<circle cx="97.64" cy="563" r="1.2" fill="#8c1529"/>
<circle cx="97.22" cy="564" r="1.2" fill="#8c1529"/>
<circle cx="98.83" cy="565" r="1.2" fill="#8c1529"/>
<circle cx="101.31" cy="566" r="1.2" fill="#8c1529"/>
<circle cx="100.74" cy="566.5" r="1.2" fill="#8c1529"/>
<circle cx="100.57" cy="567.5" r="1.2" fill="#8c1529"/>
<circle cx="97.97" cy="568" r="1.2" fill="#8c1529"/>
<circle cx="99.48" cy="569" r="1.2" fill="#8c1529"/>
<circle cx="98.23" cy="570" r="1.2" fill="#8c1529"/>
<circle cx="97.73" cy="571" r="1.2" fill="#8c1529"/>
<circle cx="97.41" cy="572" r="1.2" fill="#8c1529"/>
<circle cx="97.93" cy="573.5" r="1.2" fill="#8c1529"/>
<circle cx="101.35" cy="575" r="1.2" fill="#8c1529"/>
<circle cx="100.88" cy="578.5" r="1.2" fill="#8c1529"/>
<circle cx="100.77" cy="583" r="1.2" fill="#8c1529"/>
<circle cx="100.74" cy="586" r="1.2" fill="#8c1529"/>
<line x1="109.9" y1="591.2" x2="109.9" y2="578.3" stroke="#4a5a8a" stroke-width="0.8"/>
<line x1="108.3" y1="591.2" x2="111.5" y2="591.2" stroke="#4a5a8a" stroke-width="0.7"/>
<line x1="108.3" y1="578.3" x2="111.5" y2="578.3" stroke="#4a5a8a" stroke-width="0.7"/>
<rect x="106.65" y="580" width="6.5" height="8" fill="#a9b6da" stroke="#8594c2" stroke-width="0.5"/>
<path d="M110.44,577.21L111.54,579.49L109.34,579.49Z" fill="#1f2d4f"/>
<path d="M110.96,578.71L112.06,580.99L109.86,580.99Z" fill="#1f2d4f"/>
<path d="M111.2,579.71L112.3,581.99L110.1,581.99Z" fill="#1f2d4f"/>
<path d="M111.85,580.71L112.95,582.99L110.75,582.99Z" fill="#1f2d4f"/>
<path d="M110.96,581.71L112.06,583.99L109.86,583.99Z" fill="#1f2d4f"/>
<path d="M111.76,582.71L112.86,584.99L110.66,584.99Z" fill="#1f2d4f"/>
<path d="M107.83,583.71L108.93,585.99L106.73,585.99Z" fill="#1f2d4f"/>
<path d="M109.75,584.71L110.85,586.99L108.65,586.99Z" fill="#1f2d4f"/>
<path d="M111.85,585.71L112.95,587.99L110.75,587.99Z" fill="#1f2d4f"/>
<path d="M110.56,587.21L111.66,589.49L109.46,589.49Z" fill="#1f2d4f"/>
<path d="M111.66,589.71L112.76,591.99L110.56,591.99Z" fill="#1f2d4f"/>
<line x1="120.5" y1="575.8" x2="120.5" y2="557.4" stroke="#4a5a8a" stroke-width="0.8"/>
<line x1="118.9" y1="575.8" x2="122.1" y2="575.8" stroke="#4a5a8a" stroke-width="0.7"/>
<line x1="118.9" y1="557.4" x2="122.1" y2="557.4" stroke="#4a5a8a" stroke-width="0.7"/>
<rect x="117.75" y="562" width="5.5" height="5" fill="#a9b6da" stroke="#8594c2" stroke-width="0.5"/>
<path d="M121.56,556.21L122.66,558.49L120.46,558.49Z" fill="#1f2d4f"/>
<path d="M121.66,558.21L122.76,560.49L120.56,560.49Z" fill="#1f2d4f"/>
<path d="M120.45,560.21L121.55,562.49L119.35,562.49Z" fill="#1f2d4f"/>
<path d="M119.64,561.21L120.74,563.49L118.54,563.49Z" fill="#1f2d4f"/>
<path d="M118.7,562.21L119.8,564.49L117.6,564.49Z" fill="#1f2d4f"/>
<path d="M121.09,562.71L122.19,564.99L119.99,564.99Z" fill="#1f2d4f"/>
<path d="M120.39,563.71L121.49,565.99L119.29,565.99Z" fill="#1f2d4f"/>
<path d="M121.44,564.71L122.54,566.99L120.34,566.99Z" fill="#1f2d4f"/>
<path d="M120.04,565.71L121.14,567.99L118.94,567.99Z" fill="#1f2d4f"/>
<path d="M121.47,568.71L122.57,570.99L120.37,570.99Z" fill="#1f2d4f"/>
<path d="M119.68,574.21L120.78,576.49L118.58,576.49Z" fill="#1f2d4f"/>
<text transform="translate(73.4,636.5) rotate(-29.5)" x="0" y="0" font-size="6.9" text-anchor="end" fill="#1a1a1a">Healthy</text>
<text transform="translate(93.9,636.5) rotate(-29.5)" x="0" y="0" font-size="7.4" text-anchor="end" fill="#1a1a1a">HGBL-<tspan font-style="italic">MYC</tspan>/<tspan font-style="italic">BCL2</tspan></text>
<text transform="translate(115.1,636.5) rotate(-29.5)" x="0" y="0" font-size="7.4" text-anchor="end" fill="#1a1a1a">DLBCL NOS</text>
<text transform="translate(27.4,580) rotate(-90)" x="0" y="0" font-size="8.6" text-anchor="middle" textLength="35" lengthAdjust="spacingAndGlyphs" font-weight="bold" fill="#1a1a1a">MFI CD107a</text>
<line x1="190.4" y1="540.4" x2="190.4" y2="616.6" stroke="#1a1a1a" stroke-width="1.3"/>
<line x1="187.2" y1="616" x2="190.4" y2="616" stroke="#1a1a1a" stroke-width="0.9"/>
<text x="183.8" y="618.3" font-size="7.3" text-anchor="end" fill="#2a2a2a">100</text>
<line x1="187.2" y1="591.8" x2="190.4" y2="591.8" stroke="#1a1a1a" stroke-width="0.9"/>
<text x="183.8" y="594.1" font-size="7.3" text-anchor="end" fill="#2a2a2a">1000</text>
<line x1="187.2" y1="567.6" x2="190.4" y2="567.6" stroke="#1a1a1a" stroke-width="0.9"/>
<text x="183.8" y="569.9" font-size="7.3" text-anchor="end" fill="#2a2a2a">10000</text>
<line x1="187.2" y1="543.4" x2="190.4" y2="543.4" stroke="#1a1a1a" stroke-width="0.9"/>
<text x="183.8" y="545.7" font-size="7.3" text-anchor="end" fill="#2a2a2a">100000</text>
<line x1="189.75" y1="616" x2="253.5" y2="616" stroke="#1a1a1a" stroke-width="1.3"/>
<line x1="196.8" y1="616" x2="196.8" y2="618.8" stroke="#1a1a1a" stroke-width="0.8"/>
<line x1="207.3" y1="616" x2="207.3" y2="618.8" stroke="#1a1a1a" stroke-width="0.8"/>
<line x1="217.25" y1="616" x2="217.25" y2="618.8" stroke="#1a1a1a" stroke-width="0.8"/>
<line x1="227.8" y1="616" x2="227.8" y2="618.8" stroke="#1a1a1a" stroke-width="0.8"/>
<line x1="238.4" y1="616" x2="238.4" y2="618.8" stroke="#1a1a1a" stroke-width="0.8"/>
<line x1="249" y1="616" x2="249" y2="618.8" stroke="#1a1a1a" stroke-width="0.8"/>
<text x="222.9" y="522.9" font-size="9.3" text-anchor="middle" fill="#1a1a1a">CD8<tspan font-size="6.7" dy="-2.3">+</tspan><tspan dy="2.3">PD-1</tspan><tspan font-size="6.7" dy="-2.3">+</tspan></text>
<text x="227.25" y="532.5" font-size="7" text-anchor="middle" fill="#333"><tspan font-style="italic">P</tspan> = .25</text>
<path d="M207,536.4V533.6H249.3V536.4" stroke="#3a3a3a" fill="none" stroke-width="0.8"/>
<text x="227.2" y="543.4" font-size="7" text-anchor="end" fill="#333"><tspan font-style="italic">P</tspan> = .16</text>
<text x="228.5" y="543.4" font-size="7" fill="#333"><tspan font-style="italic">P</tspan> = .0003</text>
<path d="M207,548V545.2H226.9V548" stroke="#3a3a3a" fill="none" stroke-width="0.8"/>
<path d="M228.7,548V545.2H249.3V548" stroke="#3a3a3a" fill="none" stroke-width="0.8"/>
<text x="196.8" y="629.6" font-size="7" text-anchor="middle" fill="#333">−</text>
<text x="207.3" y="629.6" font-size="7" text-anchor="middle" fill="#333">+</text>
<text x="217.25" y="629.6" font-size="7" text-anchor="middle" fill="#333">−</text>
<text x="227.8" y="629.6" font-size="7" text-anchor="middle" fill="#333">+</text>
<text x="238.4" y="629.6" font-size="7" text-anchor="middle" fill="#333">−</text>
<text x="249" y="629.6" font-size="7" text-anchor="middle" fill="#333">+</text>
<line x1="197.3" y1="597" x2="197.3" y2="579.1" stroke="#8fc776" stroke-width="0.8"/>
<line x1="195.7" y1="597" x2="198.9" y2="597" stroke="#8fc776" stroke-width="0.7"/>
<line x1="195.7" y1="579.1" x2="198.9" y2="579.1" stroke="#8fc776" stroke-width="0.7"/>
<rect x="193.8" y="588.3" width="7" height="8.6" fill="#c6f5a6" stroke="#a6e07e" stroke-width="0.5"/>
<circle cx="197.3" cy="579.3" r="1.2" fill="#3f7f22"/>
<circle cx="195.5" cy="594.5" r="1.2" fill="#3f7f22"/>
<circle cx="197.5" cy="595" r="1.2" fill="#3f7f22"/>
<circle cx="199.5" cy="594.8" r="1.2" fill="#3f7f22"/>
<circle cx="196.3" cy="596.4" r="1.2" fill="#3f7f22"/>
<circle cx="198.8" cy="596.5" r="1.2" fill="#3f7f22"/>
<line x1="207.2" y1="579.7" x2="207.2" y2="571" stroke="#8fc776" stroke-width="0.8"/>
<rect x="203.2" y="571" width="8" height="8.7" fill="#c6f5a6" stroke="#a6e07e" stroke-width="0.5"/>
<circle cx="205.5" cy="571.6" r="1.2" fill="#3f7f22"/>
<circle cx="208.6" cy="571.2" r="1.2" fill="#3f7f22"/>
<circle cx="207.2" cy="573" r="1.2" fill="#3f7f22"/>
<circle cx="204.8" cy="577.6" r="1.2" fill="#3f7f22"/>
<circle cx="207.6" cy="578.2" r="1.2" fill="#3f7f22"/>
<circle cx="210" cy="578.5" r="1.2" fill="#3f7f22"/>
<circle cx="206.5" cy="579.3" r="1.2" fill="#3f7f22"/>
<line x1="217.6" y1="601.8" x2="217.6" y2="580.3" stroke="#c23a44" stroke-width="0.8"/>
<line x1="216" y1="601.8" x2="219.2" y2="601.8" stroke="#c23a44" stroke-width="0.7"/>
<line x1="216" y1="580.3" x2="219.2" y2="580.3" stroke="#c23a44" stroke-width="0.7"/>
<rect x="214.6" y="591" width="6" height="7" fill="#b83a4c" stroke="#a83040" stroke-width="0.5"/>
<circle cx="216.79" cy="580.5" r="1.2" fill="#8c1529"/>
<circle cx="215.99" cy="590.5" r="1.2" fill="#8c1529"/>
<circle cx="218.29" cy="591.5" r="1.2" fill="#8c1529"/>
<circle cx="215.63" cy="592.5" r="1.2" fill="#8c1529"/>
<circle cx="217.77" cy="593" r="1.2" fill="#8c1529"/>
<circle cx="216.98" cy="594" r="1.2" fill="#8c1529"/>
<circle cx="215.57" cy="595" r="1.2" fill="#8c1529"/>
<circle cx="217.63" cy="595.5" r="1.2" fill="#8c1529"/>
<circle cx="215.47" cy="596" r="1.2" fill="#8c1529"/>
<circle cx="217.29" cy="597" r="1.2" fill="#8c1529"/>
<circle cx="215.62" cy="598" r="1.2" fill="#8c1529"/>
<circle cx="215.72" cy="599" r="1.2" fill="#8c1529"/>
<circle cx="217.25" cy="600" r="1.2" fill="#8c1529"/>
<circle cx="219.1" cy="601.5" r="1.2" fill="#8c1529"/>
<line x1="228.1" y1="589.5" x2="228.1" y2="570.5" stroke="#c23a44" stroke-width="0.8"/>
<line x1="226.5" y1="589.5" x2="229.7" y2="589.5" stroke="#c23a44" stroke-width="0.7"/>
<line x1="226.5" y1="570.5" x2="229.7" y2="570.5" stroke="#c23a44" stroke-width="0.7"/>
<rect x="225.1" y="574" width="6" height="8" fill="#b83a4c" stroke="#a83040" stroke-width="0.5"/>
<circle cx="226.79" cy="570.7" r="1.2" fill="#8c1529"/>
<circle cx="230.32" cy="572.5" r="1.2" fill="#8c1529"/>
<circle cx="226.31" cy="574" r="1.2" fill="#8c1529"/>
<circle cx="229.08" cy="575" r="1.2" fill="#8c1529"/>
<circle cx="226.11" cy="576" r="1.2" fill="#8c1529"/>
<circle cx="226.89" cy="577" r="1.2" fill="#8c1529"/>
<circle cx="230.5" cy="578" r="1.2" fill="#8c1529"/>
<circle cx="226.71" cy="578.5" r="1.2" fill="#8c1529"/>
<circle cx="228.78" cy="579" r="1.2" fill="#8c1529"/>
<circle cx="227.9" cy="580" r="1.2" fill="#8c1529"/>
<circle cx="227.88" cy="581" r="1.2" fill="#8c1529"/>
<circle cx="228.08" cy="582" r="1.2" fill="#8c1529"/>
<circle cx="226.62" cy="583.5" r="1.2" fill="#8c1529"/>
<circle cx="229.69" cy="586" r="1.2" fill="#8c1529"/>
<circle cx="226.13" cy="589.3" r="1.2" fill="#8c1529"/>
<line x1="238.5" y1="604.3" x2="238.5" y2="579.1" stroke="#4a5a8a" stroke-width="0.8"/>
<line x1="236.9" y1="604.3" x2="240.1" y2="604.3" stroke="#4a5a8a" stroke-width="0.7"/>
<line x1="236.9" y1="579.1" x2="240.1" y2="579.1" stroke="#4a5a8a" stroke-width="0.7"/>
<rect x="235" y="590.8" width="7" height="6.1" fill="#a9b6da" stroke="#8594c2" stroke-width="0.5"/>
<path d="M238.35,578.01L239.45,580.29L237.25,580.29Z" fill="#1f2d4f"/>
<path d="M237.99,588.71L239.09,590.99L236.89,590.99Z" fill="#1f2d4f"/>
<path d="M237.05,590.21L238.15,592.49L235.95,592.49Z" fill="#1f2d4f"/>
<path d="M239.97,591.71L241.07,593.99L238.87,593.99Z" fill="#1f2d4f"/>
<path d="M236.53,592.71L237.63,594.99L235.43,594.99Z" fill="#1f2d4f"/>
<path d="M238.51,593.71L239.61,595.99L237.41,595.99Z" fill="#1f2d4f"/>
<path d="M240.09,594.71L241.19,596.99L238.99,596.99Z" fill="#1f2d4f"/>
<path d="M236.82,596.21L237.92,598.49L235.72,598.49Z" fill="#1f2d4f"/>
<path d="M238.72,598.71L239.82,600.99L237.62,600.99Z" fill="#1f2d4f"/>
<path d="M238.97,602.71L240.07,604.99L237.87,604.99Z" fill="#1f2d4f"/>
<line x1="249.1" y1="581" x2="249.1" y2="566.8" stroke="#4a5a8a" stroke-width="0.8"/>
<line x1="247.5" y1="581" x2="250.7" y2="581" stroke="#4a5a8a" stroke-width="0.7"/>
<line x1="247.5" y1="566.8" x2="250.7" y2="566.8" stroke="#4a5a8a" stroke-width="0.7"/>
<rect x="246.1" y="571.7" width="6" height="5.5" fill="#a9b6da" stroke="#8594c2" stroke-width="0.5"/>
<path d="M249.39,565.71L250.49,567.99L248.29,567.99Z" fill="#1f2d4f"/>
<path d="M248.82,567.71L249.92,569.99L247.72,569.99Z" fill="#1f2d4f"/>
<path d="M249.41,570.21L250.51,572.49L248.31,572.49Z" fill="#1f2d4f"/>
<path d="M247.92,571.21L249.02,573.49L246.82,573.49Z" fill="#1f2d4f"/>
<path d="M250.35,572.21L251.45,574.49L249.25,574.49Z" fill="#1f2d4f"/>
<path d="M250.39,573.21L251.49,575.49L249.29,575.49Z" fill="#1f2d4f"/>
<path d="M249.71,573.71L250.81,575.99L248.61,575.99Z" fill="#1f2d4f"/>
<path d="M247.74,574.71L248.84,576.99L246.64,576.99Z" fill="#1f2d4f"/>
<path d="M249.18,575.71L250.28,577.99L248.08,577.99Z" fill="#1f2d4f"/>
<path d="M248.41,579.71L249.51,581.99L247.31,581.99Z" fill="#1f2d4f"/>
<text transform="translate(201.9,636.6) rotate(-29.5)" x="0" y="0" font-size="6.9" text-anchor="end" fill="#1a1a1a">Healthy</text>
<text transform="translate(222.4,636.6) rotate(-29.5)" x="0" y="0" font-size="7.4" text-anchor="end" fill="#1a1a1a">HGBL-<tspan font-style="italic">MYC</tspan>/<tspan font-style="italic">BCL2</tspan></text>
<text transform="translate(243.6,636.6) rotate(-29.5)" x="0" y="0" font-size="7.4" text-anchor="end" fill="#1a1a1a">DLBCL NOS</text>
<text transform="translate(154.2,578) rotate(-90)" x="0" y="0" font-size="8.6" text-anchor="middle" textLength="35.7" lengthAdjust="spacingAndGlyphs" font-weight="bold" fill="#1a1a1a">MFI CD107a</text>
<text x="359.8" y="19.7" font-size="9.3" text-anchor="middle" fill="#1a1a1a">CD4<tspan font-size="6.7" dy="-2.3">+</tspan><tspan dy="2.3">PD-1</tspan><tspan font-size="6.7" dy="-2.3">+</tspan></text>
<text x="359.8" y="30.9" font-size="9.3" text-anchor="middle" fill="#1a1a1a">IFN-γ</text>
<text x="476.3" y="19.7" font-size="9.3" text-anchor="middle" fill="#1a1a1a">CD8<tspan font-size="6.7" dy="-2.3">+</tspan><tspan dy="2.3">PD-1</tspan><tspan font-size="6.7" dy="-2.3">+</tspan></text>
<text x="476.3" y="30.9" font-size="9.3" text-anchor="middle" fill="#1a1a1a">IFN-γ</text>
<line x1="324.1" y1="33.6" x2="327.1" y2="33.6" stroke="#111" stroke-width="0.85"/>
<line x1="324.1" y1="36.05" x2="327.1" y2="36.05" stroke="#111" stroke-width="0.85"/>
<line x1="324.1" y1="38.51" x2="327.1" y2="38.51" stroke="#111" stroke-width="0.85"/>
<line x1="324.1" y1="40.96" x2="327.1" y2="40.96" stroke="#111" stroke-width="0.85"/>
<line x1="324.1" y1="43.42" x2="327.1" y2="43.42" stroke="#111" stroke-width="0.85"/>
<line x1="324.1" y1="45.87" x2="327.1" y2="45.87" stroke="#111" stroke-width="0.85"/>
<line x1="324.1" y1="48.32" x2="327.1" y2="48.32" stroke="#111" stroke-width="0.85"/>
<line x1="324.1" y1="50.78" x2="327.1" y2="50.78" stroke="#111" stroke-width="0.85"/>
<line x1="324.1" y1="53.23" x2="327.1" y2="53.23" stroke="#111" stroke-width="0.85"/>
<line x1="324.1" y1="55.68" x2="327.1" y2="55.68" stroke="#111" stroke-width="0.85"/>
<line x1="324.1" y1="58.14" x2="327.1" y2="58.14" stroke="#111" stroke-width="0.85"/>
<line x1="324.1" y1="60.59" x2="327.1" y2="60.59" stroke="#111" stroke-width="0.85"/>
<line x1="324.1" y1="63.05" x2="327.1" y2="63.05" stroke="#111" stroke-width="0.85"/>
<line x1="324.1" y1="65.5" x2="327.1" y2="65.5" stroke="#111" stroke-width="0.85"/>
<path d="M332.86,46.17L333.65,45.85L334.44,45.31L335.24,44.45L336.03,43.21L336.82,41.57L337.61,39.62L338.41,37.55L339.2,35.64L339.99,34.21L340.79,33.53L341.58,33.74L342.37,34.79L343.16,36.48L343.96,38.5L344.75,40.55L345.54,42.37L346.34,43.83L347.13,44.89L347.92,45.59L348.71,46.02" stroke="#000" fill="none" stroke-width="0.95" stroke-dasharray="1.2,0.9"/>
<path d="M328.1,52.5L328.1,52.5L328.89,52.5L329.69,52.5L330.48,52.49L331.27,52.48L332.06,52.46L332.86,52.4L333.65,52.28L334.44,52.03L335.24,51.59L336.03,50.86L336.82,49.78L337.61,48.37L338.41,46.76L339.2,45.19L339.99,43.95L340.79,43.3L341.58,43.33L342.37,43.98L343.16,45L343.96,46.13L344.75,47.12L345.54,47.88L346.34,48.38L347.13,48.69L347.92,48.89L348.71,49.06L349.51,49.23L350.3,49.43L351.09,49.65L351.89,49.89L352.68,50.12L353.47,50.34L354.26,50.53L355.06,50.71L355.85,50.87L356.64,51L357.44,51.13L358.23,51.25L359.02,51.36L359.81,51.47L360.61,51.58L361.4,51.68L362.19,51.79L362.99,51.89L363.78,51.98L364.57,52.07L365.36,52.14L366.16,52.21L366.95,52.27L367.74,52.32L368.54,52.36L369.33,52.4L370.12,52.42L370.91,52.45L371.71,52.46L372.5,52.47L373.29,52.48L374.09,52.49L374.88,52.49L375.67,52.49L376.46,52.5L377.26,52.5L378.05,52.5L378.84,52.5L379.64,52.5L380.43,52.5L381.22,52.5L382.01,52.5L382.81,52.5L383.6,52.5L383.6,52.5Z" stroke="none" fill="#b3f09a" stroke-width="0.9"/>
<path d="M334.44,52.03L335.24,51.59L336.03,50.86L336.82,49.78L337.61,48.37L338.41,46.76L339.2,45.19L339.99,43.95L340.79,43.3L341.58,43.33L342.37,43.98L343.16,45L343.96,46.13L344.75,47.12L345.54,47.88L346.34,48.38L347.13,48.69L347.92,48.89L348.71,49.06L349.51,49.23L350.3,49.43L351.09,49.65L351.89,49.89L352.68,50.12L353.47,50.34L354.26,50.53L355.06,50.71L355.85,50.87L356.64,51L357.44,51.13L358.23,51.25L359.02,51.36L359.81,51.47L360.61,51.58L361.4,51.68L362.19,51.79L362.99,51.89L363.78,51.98L364.57,52.07L365.36,52.14L366.16,52.21" stroke="#5fbf45" fill="none" stroke-width="0.7"/>
<path d="M328.1,59.5L328.1,59.5L328.89,59.5L329.69,59.5L330.48,59.49L331.27,59.48L332.06,59.46L332.86,59.41L333.65,59.3L334.44,59.07L335.24,58.66L336.03,57.98L336.82,56.98L337.61,55.74L338.41,54.4L339.2,53.25L339.99,52.55L340.79,52.43L341.58,52.86L342.37,53.64L343.16,54.48L343.96,55.17L344.75,55.61L345.54,55.81L346.34,55.84L347.13,55.8L347.92,55.76L348.71,55.75L349.51,55.81L350.3,55.92L351.09,56.08L351.89,56.27L352.68,56.48L353.47,56.69L354.26,56.89L355.06,57.07L355.85,57.22L356.64,57.35L357.44,57.45L358.23,57.54L359.02,57.61L359.81,57.69L360.61,57.76L361.4,57.85L362.19,57.94L362.99,58.05L363.78,58.16L364.57,58.29L365.36,58.42L366.16,58.55L366.95,58.68L367.74,58.8L368.54,58.92L369.33,59.02L370.12,59.11L370.91,59.19L371.71,59.26L372.5,59.32L373.29,59.36L374.09,59.4L374.88,59.43L375.67,59.45L376.46,59.46L377.26,59.47L378.05,59.48L378.84,59.49L379.64,59.49L380.43,59.5L381.22,59.5L382.01,59.5L382.81,59.5L383.6,59.5L383.6,59.5Z" stroke="none" fill="#f08c7c" stroke-width="0.9"/>
<path d="M334.44,59.07L335.24,58.66L336.03,57.98L336.82,56.98L337.61,55.74L338.41,54.4L339.2,53.25L339.99,52.55L340.79,52.43L341.58,52.86L342.37,53.64L343.16,54.48L343.96,55.17L344.75,55.61L345.54,55.81L346.34,55.84L347.13,55.8L347.92,55.76L348.71,55.75L349.51,55.81L350.3,55.92L351.09,56.08L351.89,56.27L352.68,56.48L353.47,56.69L354.26,56.89L355.06,57.07L355.85,57.22L356.64,57.35L357.44,57.45L358.23,57.54L359.02,57.61L359.81,57.69L360.61,57.76L361.4,57.85L362.19,57.94L362.99,58.05L363.78,58.16L364.57,58.29L365.36,58.42L366.16,58.55L366.95,58.68L367.74,58.8L368.54,58.92L369.33,59.02L370.12,59.11L370.91,59.19" stroke="#c8463e" fill="none" stroke-width="0.7"/>
<path d="M328.1,66.5L328.1,66.5L328.89,66.5L329.69,66.5L330.48,66.5L331.27,66.5L332.06,66.49L332.86,66.48L333.65,66.45L334.44,66.38L335.24,66.22L336.03,65.91L336.82,65.4L337.61,64.65L338.41,63.7L339.2,62.71L339.99,61.9L340.79,61.48L341.58,61.57L342.37,62.11L343.16,62.92L343.96,63.73L344.75,64.32L345.54,64.56L346.34,64.45L347.13,64.07L347.92,63.55L348.71,63.05L349.51,62.68L350.3,62.53L351.09,62.61L351.89,62.88L352.68,63.26L353.47,63.66L354.26,64.01L355.06,64.28L355.85,64.45L356.64,64.55L357.44,64.61L358.23,64.66L359.02,64.71L359.81,64.77L360.61,64.86L361.4,64.97L362.19,65.09L362.99,65.23L363.78,65.37L364.57,65.51L365.36,65.65L366.16,65.79L366.95,65.91L367.74,66.02L368.54,66.11L369.33,66.2L370.12,66.27L370.91,66.32L371.71,66.37L372.5,66.4L373.29,66.43L374.09,66.45L374.88,66.47L375.67,66.48L376.46,66.48L377.26,66.49L378.05,66.49L378.84,66.5L379.64,66.5L380.43,66.5L381.22,66.5L382.01,66.5L382.81,66.5L383.6,66.5L383.6,66.5Z" stroke="none" fill="#8896be" stroke-width="0.9"/>
<path d="M335.24,66.22L336.03,65.91L336.82,65.4L337.61,64.65L338.41,63.7L339.2,62.71L339.99,61.9L340.79,61.48L341.58,61.57L342.37,62.11L343.16,62.92L343.96,63.73L344.75,64.32L345.54,64.56L346.34,64.45L347.13,64.07L347.92,63.55L348.71,63.05L349.51,62.68L350.3,62.53L351.09,62.61L351.89,62.88L352.68,63.26L353.47,63.66L354.26,64.01L355.06,64.28L355.85,64.45L356.64,64.55L357.44,64.61L358.23,64.66L359.02,64.71L359.81,64.77L360.61,64.86L361.4,64.97L362.19,65.09L362.99,65.23L363.78,65.37L364.57,65.51L365.36,65.65L366.16,65.79L366.95,65.91L367.74,66.02L368.54,66.11L369.33,66.2" stroke="#3c4e82" fill="none" stroke-width="0.7"/>
<line x1="327.1" y1="46.5" x2="383.6" y2="46.5" stroke="#454545" stroke-width="1.0"/>
<line x1="327.1" y1="52.5" x2="383.6" y2="52.5" stroke="#454545" stroke-width="1.0"/>
<line x1="327.1" y1="59.5" x2="383.6" y2="59.5" stroke="#454545" stroke-width="1.0"/>
<line x1="327.1" y1="66.5" x2="383.6" y2="66.5" stroke="#1a1a1a" stroke-width="1.1"/>
<line x1="327.1" y1="30.6" x2="327.1" y2="67" stroke="#1a1a1a" stroke-width="1.2"/>
<line x1="328.9" y1="66.5" x2="328.9" y2="69.3" stroke="#111" stroke-width="0.65"/>
<line x1="330.3" y1="66.5" x2="330.3" y2="69.3" stroke="#111" stroke-width="0.65"/>
<line x1="331.7" y1="66.5" x2="331.7" y2="69.3" stroke="#111" stroke-width="0.65"/>
<line x1="333.3" y1="66.5" x2="333.3" y2="69.3" stroke="#111" stroke-width="0.65"/>
<line x1="334.7" y1="66.5" x2="334.7" y2="69.3" stroke="#111" stroke-width="0.65"/>
<line x1="336.3" y1="66.5" x2="336.3" y2="69.3" stroke="#111" stroke-width="0.65"/>
<line x1="337.7" y1="66.5" x2="337.7" y2="69.3" stroke="#111" stroke-width="0.65"/>
<line x1="343.51" y1="66.5" x2="343.51" y2="69.3" stroke="#111" stroke-width="0.65"/>
<line x1="345.8" y1="66.5" x2="345.8" y2="69.3" stroke="#111" stroke-width="0.65"/>
<line x1="347.43" y1="66.5" x2="347.43" y2="69.3" stroke="#111" stroke-width="0.65"/>
<line x1="348.69" y1="66.5" x2="348.69" y2="69.3" stroke="#111" stroke-width="0.65"/>
<line x1="349.72" y1="66.5" x2="349.72" y2="69.3" stroke="#111" stroke-width="0.65"/>
<line x1="350.59" y1="66.5" x2="350.59" y2="69.3" stroke="#111" stroke-width="0.65"/>
<line x1="351.34" y1="66.5" x2="351.34" y2="69.3" stroke="#111" stroke-width="0.65"/>
<line x1="352.01" y1="66.5" x2="352.01" y2="69.3" stroke="#111" stroke-width="0.65"/>
<line x1="356.51" y1="66.5" x2="356.51" y2="69.3" stroke="#111" stroke-width="0.65"/>
<line x1="358.8" y1="66.5" x2="358.8" y2="69.3" stroke="#111" stroke-width="0.65"/>
<line x1="360.43" y1="66.5" x2="360.43" y2="69.3" stroke="#111" stroke-width="0.65"/>
<line x1="361.69" y1="66.5" x2="361.69" y2="69.3" stroke="#111" stroke-width="0.65"/>
<line x1="362.72" y1="66.5" x2="362.72" y2="69.3" stroke="#111" stroke-width="0.65"/>
<line x1="363.59" y1="66.5" x2="363.59" y2="69.3" stroke="#111" stroke-width="0.65"/>
<line x1="364.34" y1="66.5" x2="364.34" y2="69.3" stroke="#111" stroke-width="0.65"/>
<line x1="365.01" y1="66.5" x2="365.01" y2="69.3" stroke="#111" stroke-width="0.65"/>
<line x1="369.51" y1="66.5" x2="369.51" y2="69.3" stroke="#111" stroke-width="0.65"/>
<line x1="371.8" y1="66.5" x2="371.8" y2="69.3" stroke="#111" stroke-width="0.65"/>
<line x1="373.43" y1="66.5" x2="373.43" y2="69.3" stroke="#111" stroke-width="0.65"/>
<line x1="374.69" y1="66.5" x2="374.69" y2="69.3" stroke="#111" stroke-width="0.65"/>
<line x1="375.72" y1="66.5" x2="375.72" y2="69.3" stroke="#111" stroke-width="0.65"/>
<line x1="376.59" y1="66.5" x2="376.59" y2="69.3" stroke="#111" stroke-width="0.65"/>
<line x1="377.34" y1="66.5" x2="377.34" y2="69.3" stroke="#111" stroke-width="0.65"/>
<line x1="378.01" y1="66.5" x2="378.01" y2="69.3" stroke="#111" stroke-width="0.65"/>
<line x1="332.1" y1="66.5" x2="332.1" y2="69.7" stroke="#1a1a1a" stroke-width="0.85"/>
<line x1="339.6" y1="66.5" x2="339.6" y2="69.7" stroke="#1a1a1a" stroke-width="0.85"/>
<line x1="352.6" y1="66.5" x2="352.6" y2="69.7" stroke="#1a1a1a" stroke-width="0.85"/>
<line x1="365.6" y1="66.5" x2="365.6" y2="69.7" stroke="#1a1a1a" stroke-width="0.85"/>
<line x1="378.6" y1="66.5" x2="378.6" y2="69.7" stroke="#1a1a1a" stroke-width="0.85"/>
<text x="329.3" y="77.6" font-size="6.6" fill="#333">−10<tspan font-size="4.6" dy="-2.6">2</tspan></text>
<text x="347.7" y="77.6" font-size="6.6" fill="#333">10<tspan font-size="4.6" dy="-2.6">3</tspan></text>
<text x="360.7" y="77.6" font-size="6.6" fill="#333">10<tspan font-size="4.6" dy="-2.6">4</tspan></text>
<text x="372.7" y="77.6" font-size="6.6" fill="#333">10<tspan font-size="4.6" dy="-2.6">5</tspan></text>
<line x1="443.9" y1="34" x2="446.9" y2="34" stroke="#111" stroke-width="0.85"/>
<line x1="443.9" y1="36.42" x2="446.9" y2="36.42" stroke="#111" stroke-width="0.85"/>
<line x1="443.9" y1="38.85" x2="446.9" y2="38.85" stroke="#111" stroke-width="0.85"/>
<line x1="443.9" y1="41.27" x2="446.9" y2="41.27" stroke="#111" stroke-width="0.85"/>
<line x1="443.9" y1="43.69" x2="446.9" y2="43.69" stroke="#111" stroke-width="0.85"/>
<line x1="443.9" y1="46.12" x2="446.9" y2="46.12" stroke="#111" stroke-width="0.85"/>
<line x1="443.9" y1="48.54" x2="446.9" y2="48.54" stroke="#111" stroke-width="0.85"/>
<line x1="443.9" y1="50.96" x2="446.9" y2="50.96" stroke="#111" stroke-width="0.85"/>
<line x1="443.9" y1="53.38" x2="446.9" y2="53.38" stroke="#111" stroke-width="0.85"/>
<line x1="443.9" y1="55.81" x2="446.9" y2="55.81" stroke="#111" stroke-width="0.85"/>
<line x1="443.9" y1="58.23" x2="446.9" y2="58.23" stroke="#111" stroke-width="0.85"/>
<line x1="443.9" y1="60.65" x2="446.9" y2="60.65" stroke="#111" stroke-width="0.85"/>
<line x1="443.9" y1="63.08" x2="446.9" y2="63.08" stroke="#111" stroke-width="0.85"/>
<line x1="443.9" y1="65.5" x2="446.9" y2="65.5" stroke="#111" stroke-width="0.85"/>
<path d="M452.61,46.05L453.39,45.6L454.17,44.87L454.96,43.74L455.74,42.19L456.53,40.29L457.31,38.21L458.1,36.28L458.88,34.84L459.66,34.2L460.45,34.46L461.23,35.53L462.02,37.09L462.8,38.85L463.59,40.61L464.37,42.28L465.15,43.78L465.94,44.95L466.72,45.73L467.51,46.16" stroke="#000" fill="none" stroke-width="0.95" stroke-dasharray="1.2,0.9"/>
<path d="M447.9,53.5L447.9,53.47L448.68,53.45L449.47,53.41L450.25,53.34L451.04,53.25L451.82,53.12L452.61,52.95L453.39,52.73L454.17,52.49L454.96,52.23L455.74,51.99L456.53,51.77L457.31,51.61L458.1,51.51L458.88,51.49L459.66,51.51L460.45,51.58L461.23,51.65L462.02,51.7L462.8,51.72L463.59,51.7L464.37,51.64L465.15,51.55L465.94,51.46L466.72,51.38L467.51,51.32L468.29,51.3L469.08,51.31L469.86,51.34L470.64,51.38L471.43,51.42L472.21,51.44L473,51.43L473.78,51.4L474.57,51.35L475.35,51.3L476.13,51.27L476.92,51.24L477.7,51.21L478.49,51.14L479.27,50.99L480.06,50.73L480.84,50.36L481.62,49.94L482.41,49.54L483.19,49.28L483.98,49.25L484.76,49.49L485.55,49.97L486.33,50.62L487.11,51.32L487.9,51.97L488.68,52.51L489.47,52.9L490.25,53.17L491.04,53.33L491.82,53.42L492.6,53.46L493.39,53.49L494.17,53.49L494.96,53.5L495.74,53.5L496.53,53.5L497.31,53.5L498.09,53.5L498.88,53.5L499.66,53.5L500.45,53.5L501.23,53.5L502.02,53.5L502.8,53.5L502.8,53.5Z" stroke="none" fill="#b3f09a" stroke-width="0.9"/>
<path d="M451.04,53.25L451.82,53.12L452.61,52.95L453.39,52.73L454.17,52.49L454.96,52.23L455.74,51.99L456.53,51.77L457.31,51.61L458.1,51.51L458.88,51.49L459.66,51.51L460.45,51.58L461.23,51.65L462.02,51.7L462.8,51.72L463.59,51.7L464.37,51.64L465.15,51.55L465.94,51.46L466.72,51.38L467.51,51.32L468.29,51.3L469.08,51.31L469.86,51.34L470.64,51.38L471.43,51.42L472.21,51.44L473,51.43L473.78,51.4L474.57,51.35L475.35,51.3L476.13,51.27L476.92,51.24L477.7,51.21L478.49,51.14L479.27,50.99L480.06,50.73L480.84,50.36L481.62,49.94L482.41,49.54L483.19,49.28L483.98,49.25L484.76,49.49L485.55,49.97L486.33,50.62L487.11,51.32L487.9,51.97L488.68,52.51L489.47,52.9L490.25,53.17" stroke="#5fbf45" fill="none" stroke-width="0.7"/>
<path d="M447.9,59.5L447.9,59.48L448.68,59.46L449.47,59.42L450.25,59.37L451.04,59.29L451.82,59.18L452.61,59.01L453.39,58.79L454.17,58.52L454.96,58.18L455.74,57.8L456.53,57.38L457.31,56.95L458.1,56.55L458.88,56.21L459.66,55.94L460.45,55.78L461.23,55.71L462.02,55.74L462.8,55.84L463.59,55.97L464.37,56.12L465.15,56.25L465.94,56.34L466.72,56.38L467.51,56.38L468.29,56.34L469.08,56.27L469.86,56.21L470.64,56.15L471.43,56.12L472.21,56.12L473,56.15L473.78,56.21L474.57,56.3L475.35,56.39L476.13,56.48L476.92,56.55L477.7,56.56L478.49,56.49L479.27,56.34L480.06,56.11L480.84,55.84L481.62,55.59L482.41,55.44L483.19,55.45L483.98,55.65L484.76,56.03L485.55,56.56L486.33,57.16L487.11,57.75L487.9,58.27L488.68,58.7L489.47,59.01L490.25,59.22L491.04,59.35L491.82,59.42L492.6,59.46L493.39,59.48L494.17,59.49L494.96,59.5L495.74,59.5L496.53,59.5L497.31,59.5L498.09,59.5L498.88,59.5L499.66,59.5L500.45,59.5L501.23,59.5L502.02,59.5L502.8,59.5L502.8,59.5Z" stroke="none" fill="#f08c7c" stroke-width="0.9"/>
<path d="M451.82,59.18L452.61,59.01L453.39,58.79L454.17,58.52L454.96,58.18L455.74,57.8L456.53,57.38L457.31,56.95L458.1,56.55L458.88,56.21L459.66,55.94L460.45,55.78L461.23,55.71L462.02,55.74L462.8,55.84L463.59,55.97L464.37,56.12L465.15,56.25L465.94,56.34L466.72,56.38L467.51,56.38L468.29,56.34L469.08,56.27L469.86,56.21L470.64,56.15L471.43,56.12L472.21,56.12L473,56.15L473.78,56.21L474.57,56.3L475.35,56.39L476.13,56.48L476.92,56.55L477.7,56.56L478.49,56.49L479.27,56.34L480.06,56.11L480.84,55.84L481.62,55.59L482.41,55.44L483.19,55.45L483.98,55.65L484.76,56.03L485.55,56.56L486.33,57.16L487.11,57.75L487.9,58.27L488.68,58.7L489.47,59.01L490.25,59.22" stroke="#c8463e" fill="none" stroke-width="0.7"/>
<path d="M447.9,66.5L447.9,66.5L448.68,66.5L449.47,66.49L450.25,66.49L451.04,66.48L451.82,66.46L452.61,66.44L453.39,66.4L454.17,66.35L454.96,66.29L455.74,66.21L456.53,66.11L457.31,66L458.1,65.88L458.88,65.76L459.66,65.66L460.45,65.57L461.23,65.51L462.02,65.48L462.8,65.48L463.59,65.5L464.37,65.51L465.15,65.49L465.94,65.42L466.72,65.26L467.51,65.03L468.29,64.72L469.08,64.36L469.86,64.02L470.64,63.74L471.43,63.57L472.21,63.51L473,63.54L473.78,63.62L474.57,63.7L475.35,63.73L476.13,63.71L476.92,63.64L477.7,63.56L478.49,63.5L479.27,63.46L480.06,63.39L480.84,63.2L481.62,62.74L482.41,61.97L483.19,60.96L483.98,59.97L484.76,59.37L485.55,59.45L486.33,60.27L487.11,61.61L487.9,63.1L488.68,64.42L489.47,65.37L490.25,65.96L491.04,66.27L491.82,66.41L492.6,66.47L493.39,66.49L494.17,66.5L494.96,66.5L495.74,66.5L496.53,66.5L497.31,66.5L498.09,66.5L498.88,66.5L499.66,66.5L500.45,66.5L501.23,66.5L502.02,66.5L502.8,66.5L502.8,66.5Z" stroke="none" fill="#8896be" stroke-width="0.9"/>
<path d="M455.74,66.21L456.53,66.11L457.31,66L458.1,65.88L458.88,65.76L459.66,65.66L460.45,65.57L461.23,65.51L462.02,65.48L462.8,65.48L463.59,65.5L464.37,65.51L465.15,65.49L465.94,65.42L466.72,65.26L467.51,65.03L468.29,64.72L469.08,64.36L469.86,64.02L470.64,63.74L471.43,63.57L472.21,63.51L473,63.54L473.78,63.62L474.57,63.7L475.35,63.73L476.13,63.71L476.92,63.64L477.7,63.56L478.49,63.5L479.27,63.46L480.06,63.39L480.84,63.2L481.62,62.74L482.41,61.97L483.19,60.96L483.98,59.97L484.76,59.37L485.55,59.45L486.33,60.27L487.11,61.61L487.9,63.1L488.68,64.42L489.47,65.37L490.25,65.96" stroke="#3c4e82" fill="none" stroke-width="0.7"/>
<line x1="446.9" y1="46.5" x2="502.8" y2="46.5" stroke="#454545" stroke-width="1.0"/>
<line x1="446.9" y1="53.5" x2="502.8" y2="53.5" stroke="#454545" stroke-width="1.0"/>
<line x1="446.9" y1="59.5" x2="502.8" y2="59.5" stroke="#454545" stroke-width="1.0"/>
<line x1="446.9" y1="66.5" x2="502.8" y2="66.5" stroke="#1a1a1a" stroke-width="1.1"/>
<line x1="446.9" y1="31" x2="446.9" y2="67" stroke="#1a1a1a" stroke-width="1.2"/>
<line x1="448.7" y1="66.5" x2="448.7" y2="69.3" stroke="#111" stroke-width="0.65"/>
<line x1="450.1" y1="66.5" x2="450.1" y2="69.3" stroke="#111" stroke-width="0.65"/>
<line x1="451.5" y1="66.5" x2="451.5" y2="69.3" stroke="#111" stroke-width="0.65"/>
<line x1="453.1" y1="66.5" x2="453.1" y2="69.3" stroke="#111" stroke-width="0.65"/>
<line x1="454.5" y1="66.5" x2="454.5" y2="69.3" stroke="#111" stroke-width="0.65"/>
<line x1="456.1" y1="66.5" x2="456.1" y2="69.3" stroke="#111" stroke-width="0.65"/>
<line x1="457.5" y1="66.5" x2="457.5" y2="69.3" stroke="#111" stroke-width="0.65"/>
<line x1="463.31" y1="66.5" x2="463.31" y2="69.3" stroke="#111" stroke-width="0.65"/>
<line x1="465.6" y1="66.5" x2="465.6" y2="69.3" stroke="#111" stroke-width="0.65"/>
<line x1="467.23" y1="66.5" x2="467.23" y2="69.3" stroke="#111" stroke-width="0.65"/>
<line x1="468.49" y1="66.5" x2="468.49" y2="69.3" stroke="#111" stroke-width="0.65"/>
<line x1="469.52" y1="66.5" x2="469.52" y2="69.3" stroke="#111" stroke-width="0.65"/>
<line x1="470.39" y1="66.5" x2="470.39" y2="69.3" stroke="#111" stroke-width="0.65"/>
<line x1="471.14" y1="66.5" x2="471.14" y2="69.3" stroke="#111" stroke-width="0.65"/>
<line x1="471.81" y1="66.5" x2="471.81" y2="69.3" stroke="#111" stroke-width="0.65"/>
<line x1="476.31" y1="66.5" x2="476.31" y2="69.3" stroke="#111" stroke-width="0.65"/>
<line x1="478.6" y1="66.5" x2="478.6" y2="69.3" stroke="#111" stroke-width="0.65"/>
<line x1="480.23" y1="66.5" x2="480.23" y2="69.3" stroke="#111" stroke-width="0.65"/>
<line x1="481.49" y1="66.5" x2="481.49" y2="69.3" stroke="#111" stroke-width="0.65"/>
<line x1="482.52" y1="66.5" x2="482.52" y2="69.3" stroke="#111" stroke-width="0.65"/>
<line x1="483.39" y1="66.5" x2="483.39" y2="69.3" stroke="#111" stroke-width="0.65"/>
<line x1="484.14" y1="66.5" x2="484.14" y2="69.3" stroke="#111" stroke-width="0.65"/>
<line x1="484.81" y1="66.5" x2="484.81" y2="69.3" stroke="#111" stroke-width="0.65"/>
<line x1="489.31" y1="66.5" x2="489.31" y2="69.3" stroke="#111" stroke-width="0.65"/>
<line x1="491.6" y1="66.5" x2="491.6" y2="69.3" stroke="#111" stroke-width="0.65"/>
<line x1="493.23" y1="66.5" x2="493.23" y2="69.3" stroke="#111" stroke-width="0.65"/>
<line x1="494.49" y1="66.5" x2="494.49" y2="69.3" stroke="#111" stroke-width="0.65"/>
<line x1="495.52" y1="66.5" x2="495.52" y2="69.3" stroke="#111" stroke-width="0.65"/>
<line x1="496.39" y1="66.5" x2="496.39" y2="69.3" stroke="#111" stroke-width="0.65"/>
<line x1="497.14" y1="66.5" x2="497.14" y2="69.3" stroke="#111" stroke-width="0.65"/>
<line x1="497.81" y1="66.5" x2="497.81" y2="69.3" stroke="#111" stroke-width="0.65"/>
<line x1="451.9" y1="66.5" x2="451.9" y2="69.7" stroke="#1a1a1a" stroke-width="0.85"/>
<line x1="459.4" y1="66.5" x2="459.4" y2="69.7" stroke="#1a1a1a" stroke-width="0.85"/>
<line x1="472.4" y1="66.5" x2="472.4" y2="69.7" stroke="#1a1a1a" stroke-width="0.85"/>
<line x1="485.4" y1="66.5" x2="485.4" y2="69.7" stroke="#1a1a1a" stroke-width="0.85"/>
<line x1="498.4" y1="66.5" x2="498.4" y2="69.7" stroke="#1a1a1a" stroke-width="0.85"/>
<text x="449.1" y="77.6" font-size="6.6" fill="#333">−10<tspan font-size="4.6" dy="-2.6">2</tspan></text>
<text x="467.5" y="77.6" font-size="6.6" fill="#333">10<tspan font-size="4.6" dy="-2.6">3</tspan></text>
<text x="480.5" y="77.6" font-size="6.6" fill="#333">10<tspan font-size="4.6" dy="-2.6">4</tspan></text>
<text x="492.5" y="77.6" font-size="6.6" fill="#333">10<tspan font-size="4.6" dy="-2.6">5</tspan></text>
<line x1="326.6" y1="103.3" x2="326.6" y2="179.6" stroke="#1a1a1a" stroke-width="1.3"/>
<line x1="323.4" y1="179" x2="326.6" y2="179" stroke="#1a1a1a" stroke-width="0.9"/>
<text x="320" y="181.3" font-size="7.3" text-anchor="end" fill="#2a2a2a">0</text>
<line x1="323.4" y1="154.6" x2="326.6" y2="154.6" stroke="#1a1a1a" stroke-width="0.9"/>
<text x="320" y="156.9" font-size="7.3" text-anchor="end" fill="#2a2a2a">20</text>
<line x1="323.4" y1="130.2" x2="326.6" y2="130.2" stroke="#1a1a1a" stroke-width="0.9"/>
<text x="320" y="132.5" font-size="7.3" text-anchor="end" fill="#2a2a2a">40</text>
<line x1="323.4" y1="105.8" x2="326.6" y2="105.8" stroke="#1a1a1a" stroke-width="0.9"/>
<text x="320" y="108.1" font-size="7.3" text-anchor="end" fill="#2a2a2a">60</text>
<line x1="325.95" y1="179" x2="392.7" y2="179" stroke="#1a1a1a" stroke-width="1.3"/>
<line x1="333.4" y1="179" x2="333.4" y2="181.8" stroke="#1a1a1a" stroke-width="0.8"/>
<line x1="344" y1="179" x2="344" y2="181.8" stroke="#1a1a1a" stroke-width="0.8"/>
<line x1="353.9" y1="179" x2="353.9" y2="181.8" stroke="#1a1a1a" stroke-width="0.8"/>
<line x1="364.5" y1="179" x2="364.5" y2="181.8" stroke="#1a1a1a" stroke-width="0.8"/>
<line x1="374.6" y1="179" x2="374.6" y2="181.8" stroke="#1a1a1a" stroke-width="0.8"/>
<line x1="385.2" y1="179" x2="385.2" y2="181.8" stroke="#1a1a1a" stroke-width="0.8"/>
<text x="363.7" y="95.3" font-size="7" text-anchor="middle" fill="#333"><tspan font-style="italic">P</tspan> = .89</text>
<path d="M344,99.6V96.8H385.2V99.6" stroke="#3a3a3a" fill="none" stroke-width="0.8"/>
<text x="363.9" y="106.1" font-size="7" text-anchor="end" fill="#333"><tspan font-style="italic">P</tspan> = .33</text>
<text x="365.2" y="106.1" font-size="7" fill="#333"><tspan font-style="italic">P</tspan> = .10</text>
<path d="M344,110.7V107.9H363.6V110.7" stroke="#3a3a3a" fill="none" stroke-width="0.8"/>
<path d="M365.4,110.7V107.9H385.2V110.7" stroke="#3a3a3a" fill="none" stroke-width="0.8"/>
<text x="333.4" y="192.7" font-size="7" text-anchor="middle" fill="#333">−</text>
<text x="344" y="192.7" font-size="7" text-anchor="middle" fill="#333">+</text>
<text x="353.9" y="192.7" font-size="7" text-anchor="middle" fill="#333">−</text>
<text x="364.5" y="192.7" font-size="7" text-anchor="middle" fill="#333">+</text>
<text x="374.6" y="192.7" font-size="7" text-anchor="middle" fill="#333">−</text>
<text x="385.2" y="192.7" font-size="7" text-anchor="middle" fill="#333">+</text>
<circle cx="333.21" cy="178.02" r="1.2" fill="#3f7f22"/>
<circle cx="335.1" cy="178.15" r="1.2" fill="#3f7f22"/>
<circle cx="333.43" cy="177.98" r="1.2" fill="#3f7f22"/>
<circle cx="332.14" cy="178.08" r="1.2" fill="#3f7f22"/>
<circle cx="333.92" cy="177.69" r="1.2" fill="#3f7f22"/>
<line x1="344" y1="158.7" x2="344" y2="117.8" stroke="#8fc776" stroke-width="0.8"/>
<rect x="341" y="134.5" width="6" height="17.5" fill="#c6f5a6" stroke="#a6e07e" stroke-width="0.5"/>
<circle cx="344" cy="117.8" r="1.2" fill="#3f7f22"/>
<circle cx="344" cy="137.5" r="1.2" fill="#3f7f22"/>
<circle cx="341.5" cy="149.5" r="1.2" fill="#3f7f22"/>
<circle cx="346.5" cy="149" r="1.2" fill="#3f7f22"/>
<circle cx="344" cy="153.5" r="1.2" fill="#3f7f22"/>
<circle cx="344" cy="158.3" r="1.2" fill="#3f7f22"/>
<circle cx="353.8" cy="177.88" r="1.2" fill="#8c1529"/>
<circle cx="354.57" cy="178.6" r="1.2" fill="#8c1529"/>
<circle cx="351.94" cy="178.28" r="1.2" fill="#8c1529"/>
<circle cx="353" cy="177.67" r="1.2" fill="#8c1529"/>
<line x1="364.5" y1="175" x2="364.5" y2="136.3" stroke="#c23a44" stroke-width="0.8"/>
<rect x="361.5" y="142" width="6" height="16" fill="#b83a4c" stroke="#a83040" stroke-width="0.5"/>
<circle cx="363.39" cy="136.3" r="1.2" fill="#8c1529"/>
<circle cx="365.35" cy="137.52" r="1.2" fill="#8c1529"/>
<circle cx="365.35" cy="138.74" r="1.2" fill="#8c1529"/>
<circle cx="366.11" cy="139.96" r="1.2" fill="#8c1529"/>
<circle cx="363.05" cy="141.18" r="1.2" fill="#8c1529"/>
<circle cx="363.26" cy="142.4" r="1.2" fill="#8c1529"/>
<circle cx="362.88" cy="143.62" r="1.2" fill="#8c1529"/>
<circle cx="363.24" cy="144.84" r="1.2" fill="#8c1529"/>
<circle cx="365.58" cy="146.06" r="1.2" fill="#8c1529"/>
<circle cx="362.8" cy="147.28" r="1.2" fill="#8c1529"/>
<circle cx="364.64" cy="148.5" r="1.2" fill="#8c1529"/>
<circle cx="363.18" cy="149.72" r="1.2" fill="#8c1529"/>
<circle cx="363.56" cy="150.94" r="1.2" fill="#8c1529"/>
<circle cx="364.19" cy="152.16" r="1.2" fill="#8c1529"/>
<circle cx="366.05" cy="153.38" r="1.2" fill="#8c1529"/>
<circle cx="365" cy="154.6" r="1.2" fill="#8c1529"/>
<circle cx="362.27" cy="155.82" r="1.2" fill="#8c1529"/>
<circle cx="363.47" cy="157.04" r="1.2" fill="#8c1529"/>
<circle cx="362.87" cy="158.26" r="1.2" fill="#8c1529"/>
<circle cx="366.21" cy="160.7" r="1.2" fill="#8c1529"/>
<circle cx="365.92" cy="163.14" r="1.2" fill="#8c1529"/>
<circle cx="365.91" cy="168.02" r="1.2" fill="#8c1529"/>
<circle cx="366" cy="174.73" r="1.2" fill="#8c1529"/>
<path d="M373.03,176.53L374.13,178.81L371.93,178.81Z" fill="#1f2d4f"/>
<path d="M375.21,176.19L376.31,178.47L374.11,178.47Z" fill="#1f2d4f"/>
<path d="M373.68,177.15L374.78,179.43L372.58,179.43Z" fill="#1f2d4f"/>
<path d="M375.54,176.59L376.64,178.87L374.44,178.87Z" fill="#1f2d4f"/>
<line x1="385.2" y1="167.7" x2="385.2" y2="121" stroke="#4a5a8a" stroke-width="0.8"/>
<line x1="383.6" y1="167.7" x2="386.8" y2="167.7" stroke="#4a5a8a" stroke-width="0.7"/>
<line x1="383.6" y1="121" x2="386.8" y2="121" stroke="#4a5a8a" stroke-width="0.7"/>
<rect x="381.7" y="127" width="7" height="33.6" fill="#a9b6da" stroke="#8594c2" stroke-width="0.5"/>
<path d="M385.2,120.01L386.3,122.29L384.1,122.29Z" fill="#1f2d4f"/>
<path d="M383.4,121.01L384.5,123.29L382.3,123.29Z" fill="#1f2d4f"/>
<path d="M387,121.01L388.1,123.29L385.9,123.29Z" fill="#1f2d4f"/>
<path d="M385,131.71L386.1,133.99L383.9,133.99Z" fill="#1f2d4f"/>
<path d="M383,137.71L384.1,139.99L381.9,139.99Z" fill="#1f2d4f"/>
<path d="M386,139.71L387.1,141.99L384.9,141.99Z" fill="#1f2d4f"/>
<path d="M388,138.21L389.1,140.49L386.9,140.49Z" fill="#1f2d4f"/>
<path d="M382.6,140.91L383.7,143.19L381.5,143.19Z" fill="#1f2d4f"/>
<path d="M385.5,149.71L386.6,151.99L384.4,151.99Z" fill="#1f2d4f"/>
<path d="M384,155.71L385.1,157.99L382.9,157.99Z" fill="#1f2d4f"/>
<path d="M383,163.71L384.1,165.99L381.9,165.99Z" fill="#1f2d4f"/>
<path d="M387,164.71L388.1,166.99L385.9,166.99Z" fill="#1f2d4f"/>
<path d="M385.2,166.21L386.3,168.49L384.1,168.49Z" fill="#1f2d4f"/>
<text transform="translate(338.6,199.2) rotate(-29.5)" x="0" y="0" font-size="6.9" text-anchor="end" fill="#1a1a1a">Healthy</text>
<text transform="translate(359.1,199.2) rotate(-29.5)" x="0" y="0" font-size="7.4" text-anchor="end" fill="#1a1a1a">HGBL-<tspan font-style="italic">MYC</tspan>/<tspan font-style="italic">BCL2</tspan></text>
<text transform="translate(379.8,199.2) rotate(-29.5)" x="0" y="0" font-size="7.4" text-anchor="end" fill="#1a1a1a">DLBCL NOS</text>
<text transform="translate(306.1,140.9) rotate(-90) scale(0.716,1)" x="0" y="0" font-size="9.0" text-anchor="middle" font-weight="bold" fill="#1a1a1a">% of CD4<tspan font-size="6.1" dy="-3">+</tspan><tspan dy="3"> PD-1</tspan><tspan font-size="6.1" dy="-3">+</tspan><tspan dy="3"> T-cells</tspan></text>
<line x1="446.4" y1="103.5" x2="446.4" y2="179.6" stroke="#1a1a1a" stroke-width="1.3"/>
<line x1="443.2" y1="179" x2="446.4" y2="179" stroke="#1a1a1a" stroke-width="0.9"/>
<text x="439.8" y="181.3" font-size="7.3" text-anchor="end" fill="#2a2a2a">0</text>
<line x1="443.2" y1="164.4" x2="446.4" y2="164.4" stroke="#1a1a1a" stroke-width="0.9"/>
<text x="439.8" y="166.7" font-size="7.3" text-anchor="end" fill="#2a2a2a">20</text>
<line x1="443.2" y1="149.8" x2="446.4" y2="149.8" stroke="#1a1a1a" stroke-width="0.9"/>
<text x="439.8" y="152.1" font-size="7.3" text-anchor="end" fill="#2a2a2a">40</text>
<line x1="443.2" y1="135.2" x2="446.4" y2="135.2" stroke="#1a1a1a" stroke-width="0.9"/>
<text x="439.8" y="137.5" font-size="7.3" text-anchor="end" fill="#2a2a2a">60</text>
<line x1="443.2" y1="120.6" x2="446.4" y2="120.6" stroke="#1a1a1a" stroke-width="0.9"/>
<text x="439.8" y="122.9" font-size="7.3" text-anchor="end" fill="#2a2a2a">80</text>
<line x1="443.2" y1="106" x2="446.4" y2="106" stroke="#1a1a1a" stroke-width="0.9"/>
<text x="439.8" y="108.3" font-size="7.3" text-anchor="end" fill="#2a2a2a">100</text>
<line x1="445.75" y1="179" x2="512.7" y2="179" stroke="#1a1a1a" stroke-width="1.3"/>
<line x1="453.4" y1="179" x2="453.4" y2="181.8" stroke="#1a1a1a" stroke-width="0.8"/>
<line x1="464" y1="179" x2="464" y2="181.8" stroke="#1a1a1a" stroke-width="0.8"/>
<line x1="473.9" y1="179" x2="473.9" y2="181.8" stroke="#1a1a1a" stroke-width="0.8"/>
<line x1="484.5" y1="179" x2="484.5" y2="181.8" stroke="#1a1a1a" stroke-width="0.8"/>
<line x1="494.6" y1="179" x2="494.6" y2="181.8" stroke="#1a1a1a" stroke-width="0.8"/>
<line x1="505.2" y1="179" x2="505.2" y2="181.8" stroke="#1a1a1a" stroke-width="0.8"/>
<text x="483.7" y="95.3" font-size="7" text-anchor="middle" fill="#333"><tspan font-style="italic">P</tspan> = .49</text>
<path d="M464,99.6V96.8H505.2V99.6" stroke="#3a3a3a" fill="none" stroke-width="0.8"/>
<text x="483.9" y="106.1" font-size="7" text-anchor="end" fill="#333"><tspan font-style="italic">P</tspan> = .03</text>
<text x="485.2" y="106.1" font-size="7" fill="#333"><tspan font-style="italic">P</tspan> = .20</text>
<path d="M464,110.7V107.9H483.6V110.7" stroke="#3a3a3a" fill="none" stroke-width="0.8"/>
<path d="M485.4,110.7V107.9H505.2V110.7" stroke="#3a3a3a" fill="none" stroke-width="0.8"/>
<text x="453.4" y="192.7" font-size="7" text-anchor="middle" fill="#333">−</text>
<text x="464" y="192.7" font-size="7" text-anchor="middle" fill="#333">+</text>
<text x="473.9" y="192.7" font-size="7" text-anchor="middle" fill="#333">−</text>
<text x="484.5" y="192.7" font-size="7" text-anchor="middle" fill="#333">+</text>
<text x="494.6" y="192.7" font-size="7" text-anchor="middle" fill="#333">−</text>
<text x="505.2" y="192.7" font-size="7" text-anchor="middle" fill="#333">+</text>
<circle cx="453.4" cy="174.8" r="1.2" fill="#3f7f22"/>
<circle cx="451.6" cy="177.6" r="1.2" fill="#3f7f22"/>
<circle cx="455.2" cy="177.9" r="1.2" fill="#3f7f22"/>
<circle cx="453.4" cy="178.4" r="1.2" fill="#3f7f22"/>
<line x1="463.5" y1="130.8" x2="463.5" y2="117.2" stroke="#8fc776" stroke-width="0.8"/>
<rect x="460" y="126" width="7" height="4" fill="#c6f5a6" stroke="#a6e07e" stroke-width="0.5"/>
<circle cx="463.5" cy="117.5" r="1.2" fill="#3f7f22"/>
<circle cx="462" cy="121" r="1.2" fill="#3f7f22"/>
<circle cx="465" cy="123" r="1.2" fill="#3f7f22"/>
<circle cx="461.5" cy="126" r="1.2" fill="#3f7f22"/>
<circle cx="466" cy="126.5" r="1.2" fill="#3f7f22"/>
<circle cx="463.5" cy="128" r="1.2" fill="#3f7f22"/>
<circle cx="461" cy="130" r="1.2" fill="#3f7f22"/>
<circle cx="466" cy="130.5" r="1.2" fill="#3f7f22"/>
<circle cx="475.93" cy="178.6" r="1.2" fill="#8c1529"/>
<circle cx="472.19" cy="177.4" r="1.2" fill="#8c1529"/>
<circle cx="472.84" cy="178.63" r="1.2" fill="#8c1529"/>
<circle cx="474.71" cy="178.32" r="1.2" fill="#8c1529"/>
<circle cx="475.66" cy="178.48" r="1.2" fill="#8c1529"/>
<line x1="484.5" y1="162.2" x2="484.5" y2="112.6" stroke="#c23a44" stroke-width="0.8"/>
<rect x="481.5" y="128" width="6" height="18" fill="#b83a4c" stroke="#a83040" stroke-width="0.5"/>
<circle cx="486.54" cy="112.57" r="1.2" fill="#8c1529"/>
<circle cx="486.65" cy="122.06" r="1.2" fill="#8c1529"/>
<circle cx="486.38" cy="124.25" r="1.2" fill="#8c1529"/>
<circle cx="482.5" cy="125.71" r="1.2" fill="#8c1529"/>
<circle cx="484.94" cy="127.17" r="1.2" fill="#8c1529"/>
<circle cx="484.13" cy="127.9" r="1.2" fill="#8c1529"/>
<circle cx="484.64" cy="128.63" r="1.2" fill="#8c1529"/>
<circle cx="482.73" cy="129.36" r="1.2" fill="#8c1529"/>
<circle cx="483.02" cy="130.82" r="1.2" fill="#8c1529"/>
<circle cx="484.23" cy="131.55" r="1.2" fill="#8c1529"/>
<circle cx="483.16" cy="133.01" r="1.2" fill="#8c1529"/>
<circle cx="484.28" cy="133.74" r="1.2" fill="#8c1529"/>
<circle cx="482.22" cy="135.2" r="1.2" fill="#8c1529"/>
<circle cx="482.51" cy="135.93" r="1.2" fill="#8c1529"/>
<circle cx="485.51" cy="136.66" r="1.2" fill="#8c1529"/>
<circle cx="484.12" cy="137.39" r="1.2" fill="#8c1529"/>
<circle cx="484.56" cy="138.85" r="1.2" fill="#8c1529"/>
<circle cx="485.62" cy="139.58" r="1.2" fill="#8c1529"/>
<circle cx="483.82" cy="141.04" r="1.2" fill="#8c1529"/>
<circle cx="482.38" cy="141.77" r="1.2" fill="#8c1529"/>
<circle cx="485.86" cy="142.5" r="1.2" fill="#8c1529"/>
<circle cx="484.93" cy="143.96" r="1.2" fill="#8c1529"/>
<circle cx="485.26" cy="145.42" r="1.2" fill="#8c1529"/>
<circle cx="485.08" cy="146.15" r="1.2" fill="#8c1529"/>
<circle cx="486.76" cy="147.61" r="1.2" fill="#8c1529"/>
<circle cx="483.84" cy="149.8" r="1.2" fill="#8c1529"/>
<circle cx="485.75" cy="157.1" r="1.2" fill="#8c1529"/>
<circle cx="483.87" cy="162.21" r="1.2" fill="#8c1529"/>
<path d="M495.45,176.33L496.55,178.61L494.35,178.61Z" fill="#1f2d4f"/>
<path d="M493.33,176.11L494.43,178.39L492.23,178.39Z" fill="#1f2d4f"/>
<path d="M493.38,176.57L494.48,178.85L492.28,178.85Z" fill="#1f2d4f"/>
<path d="M492.97,176.45L494.07,178.73L491.87,178.73Z" fill="#1f2d4f"/>
<line x1="505.2" y1="158.6" x2="505.2" y2="115.5" stroke="#4a5a8a" stroke-width="0.8"/>
<line x1="503.6" y1="158.6" x2="506.8" y2="158.6" stroke="#4a5a8a" stroke-width="0.7"/>
<line x1="503.6" y1="115.5" x2="506.8" y2="115.5" stroke="#4a5a8a" stroke-width="0.7"/>
<rect x="501.7" y="120.6" width="7" height="16.1" fill="#a9b6da" stroke="#8594c2" stroke-width="0.5"/>
<path d="M504.71,114.2L505.81,116.48L503.61,116.48Z" fill="#1f2d4f"/>
<path d="M506.91,114.93L508.01,117.21L505.81,117.21Z" fill="#1f2d4f"/>
<path d="M506.57,119.31L507.67,121.59L505.47,121.59Z" fill="#1f2d4f"/>
<path d="M504.06,122.23L505.16,124.51L502.96,124.51Z" fill="#1f2d4f"/>
<path d="M506.69,124.42L507.79,126.7L505.59,126.7Z" fill="#1f2d4f"/>
<path d="M505.75,126.61L506.85,128.89L504.65,128.89Z" fill="#1f2d4f"/>
<path d="M503.37,129.53L504.47,131.81L502.27,131.81Z" fill="#1f2d4f"/>
<path d="M507.01,130.99L508.11,133.27L505.91,133.27Z" fill="#1f2d4f"/>
<path d="M504.22,132.45L505.32,134.73L503.12,134.73Z" fill="#1f2d4f"/>
<path d="M504.42,135.37L505.52,137.65L503.32,137.65Z" fill="#1f2d4f"/>
<path d="M504.9,139.75L506,142.03L503.8,142.03Z" fill="#1f2d4f"/>
<path d="M505.55,144.86L506.65,147.14L504.45,147.14Z" fill="#1f2d4f"/>
<path d="M503.7,157.27L504.8,159.55L502.6,159.55Z" fill="#1f2d4f"/>
<text transform="translate(458.6,199.2) rotate(-29.5)" x="0" y="0" font-size="6.9" text-anchor="end" fill="#1a1a1a">Healthy</text>
<text transform="translate(479.1,199.2) rotate(-29.5)" x="0" y="0" font-size="7.4" text-anchor="end" fill="#1a1a1a">HGBL-<tspan font-style="italic">MYC</tspan>/<tspan font-style="italic">BCL2</tspan></text>
<text transform="translate(499.8,199.2) rotate(-29.5)" x="0" y="0" font-size="7.4" text-anchor="end" fill="#1a1a1a">DLBCL NOS</text>
<text transform="translate(421.3,141.2) rotate(-90) scale(0.716,1)" x="0" y="0" font-size="9.0" text-anchor="middle" font-weight="bold" fill="#1a1a1a">% of CD8<tspan font-size="6.1" dy="-3">+</tspan><tspan dy="3"> PD-1</tspan><tspan font-size="6.1" dy="-3">+</tspan><tspan dy="3"> T-cells</tspan></text>
<text x="363.2" y="250" font-size="9.3" text-anchor="middle" fill="#1a1a1a">TNF-α</text>
<text x="476.3" y="250" font-size="9.3" text-anchor="middle" fill="#1a1a1a">TNF-α</text>
<line x1="326.2" y1="253.7" x2="329.2" y2="253.7" stroke="#111" stroke-width="0.85"/>
<line x1="326.2" y1="256.15" x2="329.2" y2="256.15" stroke="#111" stroke-width="0.85"/>
<line x1="326.2" y1="258.59" x2="329.2" y2="258.59" stroke="#111" stroke-width="0.85"/>
<line x1="326.2" y1="261.04" x2="329.2" y2="261.04" stroke="#111" stroke-width="0.85"/>
<line x1="326.2" y1="263.48" x2="329.2" y2="263.48" stroke="#111" stroke-width="0.85"/>
<line x1="326.2" y1="265.93" x2="329.2" y2="265.93" stroke="#111" stroke-width="0.85"/>
<line x1="326.2" y1="268.38" x2="329.2" y2="268.38" stroke="#111" stroke-width="0.85"/>
<line x1="326.2" y1="270.82" x2="329.2" y2="270.82" stroke="#111" stroke-width="0.85"/>
<line x1="326.2" y1="273.27" x2="329.2" y2="273.27" stroke="#111" stroke-width="0.85"/>
<line x1="326.2" y1="275.72" x2="329.2" y2="275.72" stroke="#111" stroke-width="0.85"/>
<line x1="326.2" y1="278.16" x2="329.2" y2="278.16" stroke="#111" stroke-width="0.85"/>
<line x1="326.2" y1="280.61" x2="329.2" y2="280.61" stroke="#111" stroke-width="0.85"/>
<line x1="326.2" y1="283.05" x2="329.2" y2="283.05" stroke="#111" stroke-width="0.85"/>
<line x1="326.2" y1="285.5" x2="329.2" y2="285.5" stroke="#111" stroke-width="0.85"/>
<path d="M341.36,266.08L342.16,265.52L342.95,264.46L343.75,262.75L344.55,260.38L345.35,257.64L346.14,255.13L346.94,253.56L347.74,253.44L348.53,254.81L349.33,257.22L350.13,259.97L350.93,262.42L351.72,264.24L352.52,265.39L353.32,266.02" stroke="#000" fill="none" stroke-width="0.95" stroke-dasharray="1.2,0.9"/>
<path d="M330.2,273.5L330.2,273.5L331,273.5L331.79,273.5L332.59,273.5L333.39,273.5L334.19,273.5L334.98,273.5L335.78,273.5L336.58,273.5L337.37,273.5L338.17,273.5L338.97,273.49L339.77,273.48L340.56,273.45L341.36,273.39L342.16,273.27L342.95,273.07L343.75,272.75L344.55,272.32L345.35,271.8L346.14,271.27L346.94,270.83L347.74,270.57L348.53,270.55L349.33,270.74L350.13,271.09L350.93,271.48L351.72,271.82L352.52,272.05L353.32,272.18L354.11,272.22L354.91,272.2L355.71,272.15L356.51,272.09L357.3,272.03L358.1,271.96L358.9,271.87L359.69,271.77L360.49,271.64L361.29,271.5L362.09,271.33L362.88,271.15L363.68,270.95L364.48,270.75L365.27,270.55L366.07,270.4L366.87,270.31L367.67,270.32L368.46,270.45L369.26,270.69L370.06,271.03L370.85,271.44L371.65,271.86L372.45,272.26L373.25,272.6L374.04,272.89L374.84,273.1L375.64,273.26L376.43,273.36L377.23,273.42L378.03,273.46L378.83,273.48L379.62,273.49L380.42,273.5L381.22,273.5L382.01,273.5L382.81,273.5L383.61,273.5L384.41,273.5L385.2,273.5L386,273.5L386,273.5Z" stroke="none" fill="#b3f09a" stroke-width="0.9"/>
<path d="M342.95,273.07L343.75,272.75L344.55,272.32L345.35,271.8L346.14,271.27L346.94,270.83L347.74,270.57L348.53,270.55L349.33,270.74L350.13,271.09L350.93,271.48L351.72,271.82L352.52,272.05L353.32,272.18L354.11,272.22L354.91,272.2L355.71,272.15L356.51,272.09L357.3,272.03L358.1,271.96L358.9,271.87L359.69,271.77L360.49,271.64L361.29,271.5L362.09,271.33L362.88,271.15L363.68,270.95L364.48,270.75L365.27,270.55L366.07,270.4L366.87,270.31L367.67,270.32L368.46,270.45L369.26,270.69L370.06,271.03L370.85,271.44L371.65,271.86L372.45,272.26L373.25,272.6L374.04,272.89L374.84,273.1" stroke="#5fbf45" fill="none" stroke-width="0.7"/>
<path d="M330.2,280.5L330.2,280.5L331,280.5L331.79,280.5L332.59,280.5L333.39,280.5L334.19,280.5L334.98,280.5L335.78,280.5L336.58,280.5L337.37,280.5L338.17,280.49L338.97,280.48L339.77,280.44L340.56,280.35L341.36,280.17L342.16,279.85L342.95,279.38L343.75,278.77L344.55,278.12L345.35,277.58L346.14,277.29L346.94,277.31L347.74,277.58L348.53,277.98L349.33,278.34L350.13,278.59L350.93,278.72L351.72,278.75L352.52,278.75L353.32,278.72L354.11,278.67L354.91,278.58L355.71,278.42L356.51,278.21L357.3,277.94L358.1,277.67L358.9,277.44L359.69,277.28L360.49,277.22L361.29,277.26L362.09,277.39L362.88,277.56L363.68,277.75L364.48,277.94L365.27,278.12L366.07,278.29L366.87,278.46L367.67,278.66L368.46,278.87L369.26,279.11L370.06,279.36L370.85,279.6L371.65,279.83L372.45,280.02L373.25,280.17L374.04,280.29L374.84,280.37L375.64,280.42L376.43,280.46L377.23,280.48L378.03,280.49L378.83,280.49L379.62,280.5L380.42,280.5L381.22,280.5L382.01,280.5L382.81,280.5L383.61,280.5L384.41,280.5L385.2,280.5L386,280.5L386,280.5Z" stroke="none" fill="#f08c7c" stroke-width="0.9"/>
<path d="M341.36,280.17L342.16,279.85L342.95,279.38L343.75,278.77L344.55,278.12L345.35,277.58L346.14,277.29L346.94,277.31L347.74,277.58L348.53,277.98L349.33,278.34L350.13,278.59L350.93,278.72L351.72,278.75L352.52,278.75L353.32,278.72L354.11,278.67L354.91,278.58L355.71,278.42L356.51,278.21L357.3,277.94L358.1,277.67L358.9,277.44L359.69,277.28L360.49,277.22L361.29,277.26L362.09,277.39L362.88,277.56L363.68,277.75L364.48,277.94L365.27,278.12L366.07,278.29L366.87,278.46L367.67,278.66L368.46,278.87L369.26,279.11L370.06,279.36L370.85,279.6L371.65,279.83L372.45,280.02L373.25,280.17" stroke="#c8463e" fill="none" stroke-width="0.7"/>
<path d="M330.2,286.5L330.2,286.5L331,286.5L331.79,286.5L332.59,286.5L333.39,286.5L334.19,286.5L334.98,286.5L335.78,286.5L336.58,286.5L337.37,286.5L338.17,286.5L338.97,286.49L339.77,286.48L340.56,286.46L341.36,286.4L342.16,286.3L342.95,286.12L343.75,285.85L344.55,285.5L345.35,285.11L346.14,284.76L346.94,284.53L347.74,284.48L348.53,284.62L349.33,284.89L350.13,285.23L350.93,285.55L351.72,285.79L352.52,285.92L353.32,285.96L354.11,285.94L354.91,285.88L355.71,285.8L356.51,285.72L357.3,285.66L358.1,285.59L358.9,285.53L359.69,285.45L360.49,285.34L361.29,285.19L362.09,284.99L362.88,284.75L363.68,284.47L364.48,284.14L365.27,283.76L366.07,283.31L366.87,282.79L367.67,282.25L368.46,281.73L369.26,281.35L370.06,281.18L370.85,281.31L371.65,281.72L372.45,282.38L373.25,283.18L374.04,283.99L374.84,284.74L375.64,285.34L376.43,285.79L377.23,286.1L378.03,286.29L378.83,286.39L379.62,286.45L380.42,286.48L381.22,286.49L382.01,286.5L382.81,286.5L383.61,286.5L384.41,286.5L385.2,286.5L386,286.5L386,286.5Z" stroke="none" fill="#8896be" stroke-width="0.9"/>
<path d="M342.95,286.12L343.75,285.85L344.55,285.5L345.35,285.11L346.14,284.76L346.94,284.53L347.74,284.48L348.53,284.62L349.33,284.89L350.13,285.23L350.93,285.55L351.72,285.79L352.52,285.92L353.32,285.96L354.11,285.94L354.91,285.88L355.71,285.8L356.51,285.72L357.3,285.66L358.1,285.59L358.9,285.53L359.69,285.45L360.49,285.34L361.29,285.19L362.09,284.99L362.88,284.75L363.68,284.47L364.48,284.14L365.27,283.76L366.07,283.31L366.87,282.79L367.67,282.25L368.46,281.73L369.26,281.35L370.06,281.18L370.85,281.31L371.65,281.72L372.45,282.38L373.25,283.18L374.04,283.99L374.84,284.74L375.64,285.34L376.43,285.79L377.23,286.1" stroke="#3c4e82" fill="none" stroke-width="0.7"/>
<line x1="329.2" y1="266.5" x2="386" y2="266.5" stroke="#454545" stroke-width="1.0"/>
<line x1="329.2" y1="273.5" x2="386" y2="273.5" stroke="#454545" stroke-width="1.0"/>
<line x1="329.2" y1="280.5" x2="386" y2="280.5" stroke="#454545" stroke-width="1.0"/>
<line x1="329.2" y1="286.5" x2="386" y2="286.5" stroke="#1a1a1a" stroke-width="1.1"/>
<line x1="329.2" y1="250.7" x2="329.2" y2="287" stroke="#1a1a1a" stroke-width="1.2"/>
<line x1="331" y1="286.5" x2="331" y2="289.3" stroke="#111" stroke-width="0.65"/>
<line x1="332.4" y1="286.5" x2="332.4" y2="289.3" stroke="#111" stroke-width="0.65"/>
<line x1="333.8" y1="286.5" x2="333.8" y2="289.3" stroke="#111" stroke-width="0.65"/>
<line x1="335.4" y1="286.5" x2="335.4" y2="289.3" stroke="#111" stroke-width="0.65"/>
<line x1="336.8" y1="286.5" x2="336.8" y2="289.3" stroke="#111" stroke-width="0.65"/>
<line x1="338.4" y1="286.5" x2="338.4" y2="289.3" stroke="#111" stroke-width="0.65"/>
<line x1="339.8" y1="286.5" x2="339.8" y2="289.3" stroke="#111" stroke-width="0.65"/>
<line x1="345.61" y1="286.5" x2="345.61" y2="289.3" stroke="#111" stroke-width="0.65"/>
<line x1="347.9" y1="286.5" x2="347.9" y2="289.3" stroke="#111" stroke-width="0.65"/>
<line x1="349.53" y1="286.5" x2="349.53" y2="289.3" stroke="#111" stroke-width="0.65"/>
<line x1="350.79" y1="286.5" x2="350.79" y2="289.3" stroke="#111" stroke-width="0.65"/>
<line x1="351.82" y1="286.5" x2="351.82" y2="289.3" stroke="#111" stroke-width="0.65"/>
<line x1="352.69" y1="286.5" x2="352.69" y2="289.3" stroke="#111" stroke-width="0.65"/>
<line x1="353.44" y1="286.5" x2="353.44" y2="289.3" stroke="#111" stroke-width="0.65"/>
<line x1="354.11" y1="286.5" x2="354.11" y2="289.3" stroke="#111" stroke-width="0.65"/>
<line x1="358.61" y1="286.5" x2="358.61" y2="289.3" stroke="#111" stroke-width="0.65"/>
<line x1="360.9" y1="286.5" x2="360.9" y2="289.3" stroke="#111" stroke-width="0.65"/>
<line x1="362.53" y1="286.5" x2="362.53" y2="289.3" stroke="#111" stroke-width="0.65"/>
<line x1="363.79" y1="286.5" x2="363.79" y2="289.3" stroke="#111" stroke-width="0.65"/>
<line x1="364.82" y1="286.5" x2="364.82" y2="289.3" stroke="#111" stroke-width="0.65"/>
<line x1="365.69" y1="286.5" x2="365.69" y2="289.3" stroke="#111" stroke-width="0.65"/>
<line x1="366.44" y1="286.5" x2="366.44" y2="289.3" stroke="#111" stroke-width="0.65"/>
<line x1="367.11" y1="286.5" x2="367.11" y2="289.3" stroke="#111" stroke-width="0.65"/>
<line x1="371.61" y1="286.5" x2="371.61" y2="289.3" stroke="#111" stroke-width="0.65"/>
<line x1="373.9" y1="286.5" x2="373.9" y2="289.3" stroke="#111" stroke-width="0.65"/>
<line x1="375.53" y1="286.5" x2="375.53" y2="289.3" stroke="#111" stroke-width="0.65"/>
<line x1="376.79" y1="286.5" x2="376.79" y2="289.3" stroke="#111" stroke-width="0.65"/>
<line x1="377.82" y1="286.5" x2="377.82" y2="289.3" stroke="#111" stroke-width="0.65"/>
<line x1="378.69" y1="286.5" x2="378.69" y2="289.3" stroke="#111" stroke-width="0.65"/>
<line x1="379.44" y1="286.5" x2="379.44" y2="289.3" stroke="#111" stroke-width="0.65"/>
<line x1="380.11" y1="286.5" x2="380.11" y2="289.3" stroke="#111" stroke-width="0.65"/>
<line x1="334.2" y1="286.5" x2="334.2" y2="289.7" stroke="#1a1a1a" stroke-width="0.85"/>
<line x1="341.7" y1="286.5" x2="341.7" y2="289.7" stroke="#1a1a1a" stroke-width="0.85"/>
<line x1="354.7" y1="286.5" x2="354.7" y2="289.7" stroke="#1a1a1a" stroke-width="0.85"/>
<line x1="367.7" y1="286.5" x2="367.7" y2="289.7" stroke="#1a1a1a" stroke-width="0.85"/>
<line x1="380.7" y1="286.5" x2="380.7" y2="289.7" stroke="#1a1a1a" stroke-width="0.85"/>
<text x="331.4" y="298.3" font-size="6.6" fill="#333">−10<tspan font-size="4.6" dy="-2.6">2</tspan></text>
<text x="349.8" y="298.3" font-size="6.6" fill="#333">10<tspan font-size="4.6" dy="-2.6">3</tspan></text>
<text x="362.8" y="298.3" font-size="6.6" fill="#333">10<tspan font-size="4.6" dy="-2.6">4</tspan></text>
<text x="374.8" y="298.3" font-size="6.6" fill="#333">10<tspan font-size="4.6" dy="-2.6">5</tspan></text>
<line x1="443.3" y1="253.7" x2="446.3" y2="253.7" stroke="#111" stroke-width="0.85"/>
<line x1="443.3" y1="256.15" x2="446.3" y2="256.15" stroke="#111" stroke-width="0.85"/>
<line x1="443.3" y1="258.59" x2="446.3" y2="258.59" stroke="#111" stroke-width="0.85"/>
<line x1="443.3" y1="261.04" x2="446.3" y2="261.04" stroke="#111" stroke-width="0.85"/>
<line x1="443.3" y1="263.48" x2="446.3" y2="263.48" stroke="#111" stroke-width="0.85"/>
<line x1="443.3" y1="265.93" x2="446.3" y2="265.93" stroke="#111" stroke-width="0.85"/>
<line x1="443.3" y1="268.38" x2="446.3" y2="268.38" stroke="#111" stroke-width="0.85"/>
<line x1="443.3" y1="270.82" x2="446.3" y2="270.82" stroke="#111" stroke-width="0.85"/>
<line x1="443.3" y1="273.27" x2="446.3" y2="273.27" stroke="#111" stroke-width="0.85"/>
<line x1="443.3" y1="275.72" x2="446.3" y2="275.72" stroke="#111" stroke-width="0.85"/>
<line x1="443.3" y1="278.16" x2="446.3" y2="278.16" stroke="#111" stroke-width="0.85"/>
<line x1="443.3" y1="280.61" x2="446.3" y2="280.61" stroke="#111" stroke-width="0.85"/>
<line x1="443.3" y1="283.05" x2="446.3" y2="283.05" stroke="#111" stroke-width="0.85"/>
<line x1="443.3" y1="285.5" x2="446.3" y2="285.5" stroke="#111" stroke-width="0.85"/>
<path d="M455.26,267.18L456.05,266.73L456.85,265.84L457.64,264.36L458.44,262.22L459.24,259.62L460.03,257.06L460.83,255.24L461.62,254.72L462.42,255.68L463.21,257.8L464.01,260.44L464.81,262.94L465.6,264.89L466.4,266.17L467.19,266.9" stroke="#000" fill="none" stroke-width="0.95" stroke-dasharray="1.2,0.9"/>
<path d="M447.3,273.5L447.3,273.5L448.1,273.5L448.89,273.5L449.69,273.5L450.48,273.5L451.28,273.5L452.07,273.5L452.87,273.5L453.67,273.49L454.46,273.48L455.26,273.46L456.05,273.41L456.85,273.3L457.64,273.13L458.44,272.87L459.24,272.54L460.03,272.16L460.83,271.81L461.62,271.56L462.42,271.47L463.21,271.56L464.01,271.78L464.81,272.05L465.6,272.31L466.4,272.5L467.19,272.62L467.99,272.66L468.78,272.68L469.58,272.68L470.38,272.69L471.17,272.73L471.97,272.79L472.76,272.87L473.56,272.96L474.35,273.05L475.15,273.14L475.95,273.21L476.74,273.26L477.54,273.25L478.33,273.17L479.13,273L479.92,272.69L480.72,272.23L481.52,271.64L482.31,270.97L483.11,270.31L483.9,269.79L484.7,269.52L485.49,269.56L486.29,269.9L487.09,270.47L487.88,271.14L488.68,271.81L489.47,272.38L490.27,272.82L491.06,273.12L491.86,273.3L492.66,273.4L493.45,273.46L494.25,273.48L495.04,273.49L495.84,273.5L496.63,273.5L497.43,273.5L498.23,273.5L499.02,273.5L499.82,273.5L500.61,273.5L501.41,273.5L502.2,273.5L503,273.5L503,273.5Z" stroke="none" fill="#b3f09a" stroke-width="0.9"/>
<path d="M457.64,273.13L458.44,272.87L459.24,272.54L460.03,272.16L460.83,271.81L461.62,271.56L462.42,271.47L463.21,271.56L464.01,271.78L464.81,272.05L465.6,272.31L466.4,272.5L467.19,272.62L467.99,272.66L468.78,272.68L469.58,272.68L470.38,272.69L471.17,272.73L471.97,272.79L472.76,272.87L473.56,272.96L474.35,273.05L475.15,273.14L475.95,273.21M477.54,273.25L478.33,273.17L479.13,273L479.92,272.69L480.72,272.23L481.52,271.64L482.31,270.97L483.11,270.31L483.9,269.79L484.7,269.52L485.49,269.56L486.29,269.9L487.09,270.47L487.88,271.14L488.68,271.81L489.47,272.38L490.27,272.82L491.06,273.12" stroke="#5fbf45" fill="none" stroke-width="0.7"/>
<path d="M447.3,280.5L447.3,280.5L448.1,280.5L448.89,280.5L449.69,280.5L450.48,280.5L451.28,280.5L452.07,280.5L452.87,280.49L453.67,280.48L454.46,280.46L455.26,280.4L456.05,280.31L456.85,280.13L457.64,279.87L458.44,279.51L459.24,279.07L460.03,278.6L460.83,278.18L461.62,277.88L462.42,277.76L463.21,277.83L464.01,278.02L464.81,278.26L465.6,278.47L466.4,278.6L467.19,278.64L467.99,278.62L468.78,278.57L469.58,278.53L470.38,278.47L471.17,278.4L471.97,278.28L472.76,278.09L473.56,277.85L474.35,277.6L475.15,277.4L475.95,277.3L476.74,277.36L477.54,277.56L478.33,277.87L479.13,278.21L479.92,278.48L480.72,278.61L481.52,278.54L482.31,278.29L483.11,277.92L483.9,277.59L484.7,277.42L485.49,277.51L486.29,277.85L487.09,278.37L487.88,278.95L488.68,279.48L489.47,279.89L490.27,280.17L491.06,280.34L491.86,280.43L492.66,280.47L493.45,280.49L494.25,280.5L495.04,280.5L495.84,280.5L496.63,280.5L497.43,280.5L498.23,280.5L499.02,280.5L499.82,280.5L500.61,280.5L501.41,280.5L502.2,280.5L503,280.5L503,280.5Z" stroke="none" fill="#f08c7c" stroke-width="0.9"/>
<path d="M456.85,280.13L457.64,279.87L458.44,279.51L459.24,279.07L460.03,278.6L460.83,278.18L461.62,277.88L462.42,277.76L463.21,277.83L464.01,278.02L464.81,278.26L465.6,278.47L466.4,278.6L467.19,278.64L467.99,278.62L468.78,278.57L469.58,278.53L470.38,278.47L471.17,278.4L471.97,278.28L472.76,278.09L473.56,277.85L474.35,277.6L475.15,277.4L475.95,277.3L476.74,277.36L477.54,277.56L478.33,277.87L479.13,278.21L479.92,278.48L480.72,278.61L481.52,278.54L482.31,278.29L483.11,277.92L483.9,277.59L484.7,277.42L485.49,277.51L486.29,277.85L487.09,278.37L487.88,278.95L488.68,279.48L489.47,279.89L490.27,280.17" stroke="#c8463e" fill="none" stroke-width="0.7"/>
<path d="M447.3,286.5L447.3,286.5L448.1,286.5L448.89,286.5L449.69,286.5L450.48,286.5L451.28,286.5L452.07,286.5L452.87,286.49L453.67,286.47L454.46,286.43L455.26,286.35L456.05,286.2L456.85,285.97L457.64,285.64L458.44,285.24L459.24,284.84L460.03,284.52L460.83,284.35L461.62,284.37L462.42,284.58L463.21,284.89L464.01,285.22L464.81,285.5L465.6,285.68L466.4,285.76L467.19,285.77L467.99,285.75L468.78,285.71L469.58,285.67L470.38,285.65L471.17,285.64L471.97,285.63L472.76,285.61L473.56,285.56L474.35,285.46L475.15,285.31L475.95,285.11L476.74,284.88L477.54,284.64L478.33,284.43L479.13,284.26L479.92,284.16L480.72,284.08L481.52,283.99L482.31,283.8L483.11,283.45L483.9,282.9L484.7,282.21L485.49,281.5L486.29,280.98L487.09,280.82L487.88,281.11L488.68,281.8L489.47,282.76L490.27,283.78L491.06,284.7L491.86,285.41L492.66,285.9L493.45,286.2L494.25,286.36L495.04,286.44L495.84,286.48L496.63,286.49L497.43,286.5L498.23,286.5L499.02,286.5L499.82,286.5L500.61,286.5L501.41,286.5L502.2,286.5L503,286.5L503,286.5Z" stroke="none" fill="#8896be" stroke-width="0.9"/>
<path d="M456.05,286.2L456.85,285.97L457.64,285.64L458.44,285.24L459.24,284.84L460.03,284.52L460.83,284.35L461.62,284.37L462.42,284.58L463.21,284.89L464.01,285.22L464.81,285.5L465.6,285.68L466.4,285.76L467.19,285.77L467.99,285.75L468.78,285.71L469.58,285.67L470.38,285.65L471.17,285.64L471.97,285.63L472.76,285.61L473.56,285.56L474.35,285.46L475.15,285.31L475.95,285.11L476.74,284.88L477.54,284.64L478.33,284.43L479.13,284.26L479.92,284.16L480.72,284.08L481.52,283.99L482.31,283.8L483.11,283.45L483.9,282.9L484.7,282.21L485.49,281.5L486.29,280.98L487.09,280.82L487.88,281.11L488.68,281.8L489.47,282.76L490.27,283.78L491.06,284.7L491.86,285.41L492.66,285.9L493.45,286.2" stroke="#3c4e82" fill="none" stroke-width="0.7"/>
<line x1="446.3" y1="267.5" x2="503" y2="267.5" stroke="#454545" stroke-width="1.0"/>
<line x1="446.3" y1="273.5" x2="503" y2="273.5" stroke="#454545" stroke-width="1.0"/>
<line x1="446.3" y1="280.5" x2="503" y2="280.5" stroke="#454545" stroke-width="1.0"/>
<line x1="446.3" y1="286.5" x2="503" y2="286.5" stroke="#1a1a1a" stroke-width="1.1"/>
<line x1="446.3" y1="250.7" x2="446.3" y2="287" stroke="#1a1a1a" stroke-width="1.2"/>
<line x1="448.1" y1="286.5" x2="448.1" y2="289.3" stroke="#111" stroke-width="0.65"/>
<line x1="449.5" y1="286.5" x2="449.5" y2="289.3" stroke="#111" stroke-width="0.65"/>
<line x1="450.9" y1="286.5" x2="450.9" y2="289.3" stroke="#111" stroke-width="0.65"/>
<line x1="452.5" y1="286.5" x2="452.5" y2="289.3" stroke="#111" stroke-width="0.65"/>
<line x1="453.9" y1="286.5" x2="453.9" y2="289.3" stroke="#111" stroke-width="0.65"/>
<line x1="455.5" y1="286.5" x2="455.5" y2="289.3" stroke="#111" stroke-width="0.65"/>
<line x1="456.9" y1="286.5" x2="456.9" y2="289.3" stroke="#111" stroke-width="0.65"/>
<line x1="462.71" y1="286.5" x2="462.71" y2="289.3" stroke="#111" stroke-width="0.65"/>
<line x1="465" y1="286.5" x2="465" y2="289.3" stroke="#111" stroke-width="0.65"/>
<line x1="466.63" y1="286.5" x2="466.63" y2="289.3" stroke="#111" stroke-width="0.65"/>
<line x1="467.89" y1="286.5" x2="467.89" y2="289.3" stroke="#111" stroke-width="0.65"/>
<line x1="468.92" y1="286.5" x2="468.92" y2="289.3" stroke="#111" stroke-width="0.65"/>
<line x1="469.79" y1="286.5" x2="469.79" y2="289.3" stroke="#111" stroke-width="0.65"/>
<line x1="470.54" y1="286.5" x2="470.54" y2="289.3" stroke="#111" stroke-width="0.65"/>
<line x1="471.21" y1="286.5" x2="471.21" y2="289.3" stroke="#111" stroke-width="0.65"/>
<line x1="475.71" y1="286.5" x2="475.71" y2="289.3" stroke="#111" stroke-width="0.65"/>
<line x1="478" y1="286.5" x2="478" y2="289.3" stroke="#111" stroke-width="0.65"/>
<line x1="479.63" y1="286.5" x2="479.63" y2="289.3" stroke="#111" stroke-width="0.65"/>
<line x1="480.89" y1="286.5" x2="480.89" y2="289.3" stroke="#111" stroke-width="0.65"/>
<line x1="481.92" y1="286.5" x2="481.92" y2="289.3" stroke="#111" stroke-width="0.65"/>
<line x1="482.79" y1="286.5" x2="482.79" y2="289.3" stroke="#111" stroke-width="0.65"/>
<line x1="483.54" y1="286.5" x2="483.54" y2="289.3" stroke="#111" stroke-width="0.65"/>
<line x1="484.21" y1="286.5" x2="484.21" y2="289.3" stroke="#111" stroke-width="0.65"/>
<line x1="488.71" y1="286.5" x2="488.71" y2="289.3" stroke="#111" stroke-width="0.65"/>
<line x1="491" y1="286.5" x2="491" y2="289.3" stroke="#111" stroke-width="0.65"/>
<line x1="492.63" y1="286.5" x2="492.63" y2="289.3" stroke="#111" stroke-width="0.65"/>
<line x1="493.89" y1="286.5" x2="493.89" y2="289.3" stroke="#111" stroke-width="0.65"/>
<line x1="494.92" y1="286.5" x2="494.92" y2="289.3" stroke="#111" stroke-width="0.65"/>
<line x1="495.79" y1="286.5" x2="495.79" y2="289.3" stroke="#111" stroke-width="0.65"/>
<line x1="496.54" y1="286.5" x2="496.54" y2="289.3" stroke="#111" stroke-width="0.65"/>
<line x1="497.21" y1="286.5" x2="497.21" y2="289.3" stroke="#111" stroke-width="0.65"/>
<line x1="451.3" y1="286.5" x2="451.3" y2="289.7" stroke="#1a1a1a" stroke-width="0.85"/>
<line x1="458.8" y1="286.5" x2="458.8" y2="289.7" stroke="#1a1a1a" stroke-width="0.85"/>
<line x1="471.8" y1="286.5" x2="471.8" y2="289.7" stroke="#1a1a1a" stroke-width="0.85"/>
<line x1="484.8" y1="286.5" x2="484.8" y2="289.7" stroke="#1a1a1a" stroke-width="0.85"/>
<line x1="497.8" y1="286.5" x2="497.8" y2="289.7" stroke="#1a1a1a" stroke-width="0.85"/>
<text x="448.5" y="298.3" font-size="6.6" fill="#333">−10<tspan font-size="4.6" dy="-2.6">2</tspan></text>
<text x="466.9" y="298.3" font-size="6.6" fill="#333">10<tspan font-size="4.6" dy="-2.6">3</tspan></text>
<text x="479.9" y="298.3" font-size="6.6" fill="#333">10<tspan font-size="4.6" dy="-2.6">4</tspan></text>
<text x="491.9" y="298.3" font-size="6.6" fill="#333">10<tspan font-size="4.6" dy="-2.6">5</tspan></text>
<line x1="326.2" y1="326.4" x2="326.2" y2="402.5" stroke="#1a1a1a" stroke-width="1.3"/>
<line x1="323" y1="401.9" x2="326.2" y2="401.9" stroke="#1a1a1a" stroke-width="0.9"/>
<text x="319.6" y="404.2" font-size="7.3" text-anchor="end" fill="#2a2a2a">0</text>
<line x1="323" y1="387.3" x2="326.2" y2="387.3" stroke="#1a1a1a" stroke-width="0.9"/>
<text x="319.6" y="389.6" font-size="7.3" text-anchor="end" fill="#2a2a2a">20</text>
<line x1="323" y1="372.7" x2="326.2" y2="372.7" stroke="#1a1a1a" stroke-width="0.9"/>
<text x="319.6" y="375" font-size="7.3" text-anchor="end" fill="#2a2a2a">40</text>
<line x1="323" y1="358.1" x2="326.2" y2="358.1" stroke="#1a1a1a" stroke-width="0.9"/>
<text x="319.6" y="360.4" font-size="7.3" text-anchor="end" fill="#2a2a2a">60</text>
<line x1="323" y1="343.5" x2="326.2" y2="343.5" stroke="#1a1a1a" stroke-width="0.9"/>
<text x="319.6" y="345.8" font-size="7.3" text-anchor="end" fill="#2a2a2a">80</text>
<line x1="323" y1="328.9" x2="326.2" y2="328.9" stroke="#1a1a1a" stroke-width="0.9"/>
<text x="319.6" y="331.2" font-size="7.3" text-anchor="end" fill="#2a2a2a">100</text>
<line x1="325.55" y1="401.9" x2="392.7" y2="401.9" stroke="#1a1a1a" stroke-width="1.3"/>
<line x1="333.4" y1="401.9" x2="333.4" y2="404.7" stroke="#1a1a1a" stroke-width="0.8"/>
<line x1="344" y1="401.9" x2="344" y2="404.7" stroke="#1a1a1a" stroke-width="0.8"/>
<line x1="353.9" y1="401.9" x2="353.9" y2="404.7" stroke="#1a1a1a" stroke-width="0.8"/>
<line x1="364.5" y1="401.9" x2="364.5" y2="404.7" stroke="#1a1a1a" stroke-width="0.8"/>
<line x1="374.6" y1="401.9" x2="374.6" y2="404.7" stroke="#1a1a1a" stroke-width="0.8"/>
<line x1="385.2" y1="401.9" x2="385.2" y2="404.7" stroke="#1a1a1a" stroke-width="0.8"/>
<text x="363.7" y="318.2" font-size="7" text-anchor="middle" fill="#333"><tspan font-style="italic">P</tspan> = .96</text>
<path d="M344,322.5V319.7H385.2V322.5" stroke="#3a3a3a" fill="none" stroke-width="0.8"/>
<text x="363.9" y="329" font-size="7" text-anchor="end" fill="#333"><tspan font-style="italic">P</tspan> = .06</text>
<text x="365.2" y="329" font-size="7" fill="#333"><tspan font-style="italic">P</tspan> = .03</text>
<path d="M344,333.6V330.8H363.6V333.6" stroke="#3a3a3a" fill="none" stroke-width="0.8"/>
<path d="M365.4,333.6V330.8H385.2V333.6" stroke="#3a3a3a" fill="none" stroke-width="0.8"/>
<text x="333.4" y="415.6" font-size="7" text-anchor="middle" fill="#333">−</text>
<text x="344" y="415.6" font-size="7" text-anchor="middle" fill="#333">+</text>
<text x="353.9" y="415.6" font-size="7" text-anchor="middle" fill="#333">−</text>
<text x="364.5" y="415.6" font-size="7" text-anchor="middle" fill="#333">+</text>
<text x="374.6" y="415.6" font-size="7" text-anchor="middle" fill="#333">−</text>
<text x="385.2" y="415.6" font-size="7" text-anchor="middle" fill="#333">+</text>
<circle cx="331.45" cy="401.54" r="1.2" fill="#3f7f22"/>
<circle cx="332.97" cy="400.74" r="1.2" fill="#3f7f22"/>
<circle cx="331.95" cy="401.54" r="1.2" fill="#3f7f22"/>
<circle cx="332.33" cy="400.64" r="1.2" fill="#3f7f22"/>
<circle cx="331.99" cy="400.66" r="1.2" fill="#3f7f22"/>
<line x1="344" y1="366.1" x2="344" y2="345.7" stroke="#8fc776" stroke-width="0.8"/>
<rect x="341" y="350.8" width="6" height="8.8" fill="#c6f5a6" stroke="#a6e07e" stroke-width="0.5"/>
<circle cx="342.48" cy="345.69" r="1.2" fill="#3f7f22"/>
<circle cx="342.97" cy="347.88" r="1.2" fill="#3f7f22"/>
<circle cx="343.29" cy="350.8" r="1.2" fill="#3f7f22"/>
<circle cx="345.44" cy="352.26" r="1.2" fill="#3f7f22"/>
<circle cx="343.99" cy="354.45" r="1.2" fill="#3f7f22"/>
<circle cx="344.79" cy="356.64" r="1.2" fill="#3f7f22"/>
<circle cx="342.56" cy="359.56" r="1.2" fill="#3f7f22"/>
<circle cx="344.03" cy="366.13" r="1.2" fill="#3f7f22"/>
<circle cx="354.18" cy="400.81" r="1.2" fill="#8c1529"/>
<circle cx="355.17" cy="401.31" r="1.2" fill="#8c1529"/>
<circle cx="354.51" cy="400.45" r="1.2" fill="#8c1529"/>
<circle cx="355.54" cy="401.44" r="1.2" fill="#8c1529"/>
<circle cx="354.51" cy="400.84" r="1.2" fill="#8c1529"/>
<line x1="364.5" y1="387.3" x2="364.5" y2="344.2" stroke="#c23a44" stroke-width="0.8"/>
<rect x="361.5" y="355" width="6" height="12" fill="#b83a4c" stroke="#a83040" stroke-width="0.5"/>
<circle cx="364.64" cy="344.23" r="1.2" fill="#8c1529"/>
<circle cx="364.91" cy="347.15" r="1.2" fill="#8c1529"/>
<circle cx="366.15" cy="350.8" r="1.2" fill="#8c1529"/>
<circle cx="366.41" cy="353.72" r="1.2" fill="#8c1529"/>
<circle cx="366.33" cy="354.45" r="1.2" fill="#8c1529"/>
<circle cx="363.85" cy="356.64" r="1.2" fill="#8c1529"/>
<circle cx="366.65" cy="358.1" r="1.2" fill="#8c1529"/>
<circle cx="364.14" cy="359.56" r="1.2" fill="#8c1529"/>
<circle cx="363.57" cy="360.29" r="1.2" fill="#8c1529"/>
<circle cx="362.55" cy="361.02" r="1.2" fill="#8c1529"/>
<circle cx="364.56" cy="361.75" r="1.2" fill="#8c1529"/>
<circle cx="362.84" cy="361.75" r="1.2" fill="#8c1529"/>
<circle cx="363.42" cy="362.48" r="1.2" fill="#8c1529"/>
<circle cx="365.03" cy="363.21" r="1.2" fill="#8c1529"/>
<circle cx="365.83" cy="363.94" r="1.2" fill="#8c1529"/>
<circle cx="365.71" cy="364.67" r="1.2" fill="#8c1529"/>
<circle cx="362.51" cy="365.4" r="1.2" fill="#8c1529"/>
<circle cx="362.39" cy="366.86" r="1.2" fill="#8c1529"/>
<circle cx="363.33" cy="368.32" r="1.2" fill="#8c1529"/>
<circle cx="364.75" cy="369.78" r="1.2" fill="#8c1529"/>
<circle cx="366.13" cy="372.7" r="1.2" fill="#8c1529"/>
<circle cx="365.94" cy="376.35" r="1.2" fill="#8c1529"/>
<circle cx="366.58" cy="383.65" r="1.2" fill="#8c1529"/>
<circle cx="364.93" cy="387.3" r="1.2" fill="#8c1529"/>
<path d="M374.79,399.36L375.89,401.64L373.69,401.64Z" fill="#1f2d4f"/>
<path d="M375.59,399.2L376.69,401.48L374.49,401.48Z" fill="#1f2d4f"/>
<path d="M373.74,399.06L374.84,401.34L372.64,401.34Z" fill="#1f2d4f"/>
<path d="M374.87,399.36L375.97,401.64L373.77,401.64Z" fill="#1f2d4f"/>
<line x1="385.2" y1="381.5" x2="385.2" y2="340.6" stroke="#4a5a8a" stroke-width="0.8"/>
<line x1="383.6" y1="381.5" x2="386.8" y2="381.5" stroke="#4a5a8a" stroke-width="0.7"/>
<line x1="383.6" y1="340.6" x2="386.8" y2="340.6" stroke="#4a5a8a" stroke-width="0.7"/>
<rect x="381.7" y="347.2" width="7" height="12.4" fill="#a9b6da" stroke="#8594c2" stroke-width="0.5"/>
<path d="M384.51,339.29L385.61,341.57L383.41,341.57Z" fill="#1f2d4f"/>
<path d="M387.13,341.48L388.23,343.76L386.03,343.76Z" fill="#1f2d4f"/>
<path d="M387.04,345.13L388.14,347.41L385.94,347.41Z" fill="#1f2d4f"/>
<path d="M386.87,348.05L387.97,350.33L385.77,350.33Z" fill="#1f2d4f"/>
<path d="M386.36,349.51L387.46,351.79L385.26,351.79Z" fill="#1f2d4f"/>
<path d="M386.7,350.97L387.8,353.25L385.6,353.25Z" fill="#1f2d4f"/>
<path d="M383.2,353.16L384.3,355.44L382.1,355.44Z" fill="#1f2d4f"/>
<path d="M385.71,354.62L386.81,356.9L384.61,356.9Z" fill="#1f2d4f"/>
<path d="M384.19,356.81L385.29,359.09L383.09,359.09Z" fill="#1f2d4f"/>
<path d="M386.12,358.27L387.22,360.55L385.02,360.55Z" fill="#1f2d4f"/>
<path d="M384.93,379.44L386.03,381.72L383.83,381.72Z" fill="#1f2d4f"/>
<path d="M385.44,380.17L386.54,382.45L384.34,382.45Z" fill="#1f2d4f"/>
<text transform="translate(338.6,422.1) rotate(-29.5)" x="0" y="0" font-size="6.9" text-anchor="end" fill="#1a1a1a">Healthy</text>
<text transform="translate(359.1,422.1) rotate(-29.5)" x="0" y="0" font-size="7.4" text-anchor="end" fill="#1a1a1a">HGBL-<tspan font-style="italic">MYC</tspan>/<tspan font-style="italic">BCL2</tspan></text>
<text transform="translate(379.8,422.1) rotate(-29.5)" x="0" y="0" font-size="7.4" text-anchor="end" fill="#1a1a1a">DLBCL NOS</text>
<text transform="translate(302.3,364) rotate(-90) scale(0.716,1)" x="0" y="0" font-size="9.0" text-anchor="middle" font-weight="bold" fill="#1a1a1a">% of CD4<tspan font-size="6.1" dy="-3">+</tspan><tspan dy="3"> PD-1</tspan><tspan font-size="6.1" dy="-3">+</tspan><tspan dy="3"> T-cells</tspan></text>
<line x1="446.4" y1="326.4" x2="446.4" y2="402.5" stroke="#1a1a1a" stroke-width="1.3"/>
<line x1="443.2" y1="401.9" x2="446.4" y2="401.9" stroke="#1a1a1a" stroke-width="0.9"/>
<text x="439.8" y="404.2" font-size="7.3" text-anchor="end" fill="#2a2a2a">0</text>
<line x1="443.2" y1="387.3" x2="446.4" y2="387.3" stroke="#1a1a1a" stroke-width="0.9"/>
<text x="439.8" y="389.6" font-size="7.3" text-anchor="end" fill="#2a2a2a">20</text>
<line x1="443.2" y1="372.7" x2="446.4" y2="372.7" stroke="#1a1a1a" stroke-width="0.9"/>
<text x="439.8" y="375" font-size="7.3" text-anchor="end" fill="#2a2a2a">40</text>
<line x1="443.2" y1="358.1" x2="446.4" y2="358.1" stroke="#1a1a1a" stroke-width="0.9"/>
<text x="439.8" y="360.4" font-size="7.3" text-anchor="end" fill="#2a2a2a">60</text>
<line x1="443.2" y1="343.5" x2="446.4" y2="343.5" stroke="#1a1a1a" stroke-width="0.9"/>
<text x="439.8" y="345.8" font-size="7.3" text-anchor="end" fill="#2a2a2a">80</text>
<line x1="443.2" y1="328.9" x2="446.4" y2="328.9" stroke="#1a1a1a" stroke-width="0.9"/>
<text x="439.8" y="331.2" font-size="7.3" text-anchor="end" fill="#2a2a2a">100</text>
<line x1="445.75" y1="401.9" x2="512.7" y2="401.9" stroke="#1a1a1a" stroke-width="1.3"/>
<line x1="453.4" y1="401.9" x2="453.4" y2="404.7" stroke="#1a1a1a" stroke-width="0.8"/>
<line x1="464" y1="401.9" x2="464" y2="404.7" stroke="#1a1a1a" stroke-width="0.8"/>
<line x1="473.9" y1="401.9" x2="473.9" y2="404.7" stroke="#1a1a1a" stroke-width="0.8"/>
<line x1="484.5" y1="401.9" x2="484.5" y2="404.7" stroke="#1a1a1a" stroke-width="0.8"/>
<line x1="494.6" y1="401.9" x2="494.6" y2="404.7" stroke="#1a1a1a" stroke-width="0.8"/>
<line x1="505.2" y1="401.9" x2="505.2" y2="404.7" stroke="#1a1a1a" stroke-width="0.8"/>
<text x="483.7" y="318.2" font-size="7" text-anchor="middle" fill="#333"><tspan font-style="italic">P</tspan> = .89</text>
<path d="M464,322.5V319.7H505.2V322.5" stroke="#3a3a3a" fill="none" stroke-width="0.8"/>
<text x="483.9" y="329" font-size="7" text-anchor="end" fill="#333"><tspan font-style="italic">P</tspan> = .11</text>
<text x="485.2" y="329" font-size="7" fill="#333"><tspan font-style="italic">P</tspan> = .09</text>
<path d="M464,333.6V330.8H483.6V333.6" stroke="#3a3a3a" fill="none" stroke-width="0.8"/>
<path d="M485.4,333.6V330.8H505.2V333.6" stroke="#3a3a3a" fill="none" stroke-width="0.8"/>
<text x="453.4" y="415.6" font-size="7" text-anchor="middle" fill="#333">−</text>
<text x="464" y="415.6" font-size="7" text-anchor="middle" fill="#333">+</text>
<text x="473.9" y="415.6" font-size="7" text-anchor="middle" fill="#333">−</text>
<text x="484.5" y="415.6" font-size="7" text-anchor="middle" fill="#333">+</text>
<text x="494.6" y="415.6" font-size="7" text-anchor="middle" fill="#333">−</text>
<text x="505.2" y="415.6" font-size="7" text-anchor="middle" fill="#333">+</text>
<circle cx="452.92" cy="401.38" r="1.2" fill="#3f7f22"/>
<circle cx="452.06" cy="400.42" r="1.2" fill="#3f7f22"/>
<circle cx="453.71" cy="400.73" r="1.2" fill="#3f7f22"/>
<circle cx="453.61" cy="401.16" r="1.2" fill="#3f7f22"/>
<circle cx="454.33" cy="400.89" r="1.2" fill="#3f7f22"/>
<line x1="463.5" y1="355.2" x2="463.5" y2="342" stroke="#8fc776" stroke-width="0.8"/>
<rect x="460" y="345" width="7" height="8" fill="#c6f5a6" stroke="#a6e07e" stroke-width="0.5"/>
<circle cx="464.11" cy="342.04" r="1.2" fill="#3f7f22"/>
<circle cx="461.41" cy="344.96" r="1.2" fill="#3f7f22"/>
<circle cx="462.51" cy="346.42" r="1.2" fill="#3f7f22"/>
<circle cx="462.28" cy="347.88" r="1.2" fill="#3f7f22"/>
<circle cx="464.54" cy="349.34" r="1.2" fill="#3f7f22"/>
<circle cx="464.28" cy="350.8" r="1.2" fill="#3f7f22"/>
<circle cx="465.23" cy="352.99" r="1.2" fill="#3f7f22"/>
<circle cx="461.68" cy="355.18" r="1.2" fill="#3f7f22"/>
<circle cx="472.25" cy="400.73" r="1.2" fill="#8c1529"/>
<circle cx="472.68" cy="401.05" r="1.2" fill="#8c1529"/>
<circle cx="474.79" cy="400.59" r="1.2" fill="#8c1529"/>
<circle cx="473.91" cy="401" r="1.2" fill="#8c1529"/>
<circle cx="472.18" cy="401.09" r="1.2" fill="#8c1529"/>
<line x1="484.5" y1="380.7" x2="484.5" y2="345" stroke="#c23a44" stroke-width="0.8"/>
<rect x="481.5" y="347" width="6" height="18" fill="#b83a4c" stroke="#a83040" stroke-width="0.5"/>
<circle cx="484.06" cy="344.96" r="1.2" fill="#8c1529"/>
<circle cx="484.7" cy="345.69" r="1.2" fill="#8c1529"/>
<circle cx="486.24" cy="347.15" r="1.2" fill="#8c1529"/>
<circle cx="482.95" cy="347.88" r="1.2" fill="#8c1529"/>
<circle cx="483.18" cy="348.61" r="1.2" fill="#8c1529"/>
<circle cx="482.24" cy="349.34" r="1.2" fill="#8c1529"/>
<circle cx="482.66" cy="350.8" r="1.2" fill="#8c1529"/>
<circle cx="482.14" cy="352.26" r="1.2" fill="#8c1529"/>
<circle cx="482.85" cy="353.72" r="1.2" fill="#8c1529"/>
<circle cx="484.57" cy="354.45" r="1.2" fill="#8c1529"/>
<circle cx="486.85" cy="355.91" r="1.2" fill="#8c1529"/>
<circle cx="485.43" cy="357.37" r="1.2" fill="#8c1529"/>
<circle cx="483.92" cy="358.1" r="1.2" fill="#8c1529"/>
<circle cx="484.04" cy="359.56" r="1.2" fill="#8c1529"/>
<circle cx="485.42" cy="361.02" r="1.2" fill="#8c1529"/>
<circle cx="483.67" cy="361.75" r="1.2" fill="#8c1529"/>
<circle cx="482.45" cy="363.21" r="1.2" fill="#8c1529"/>
<circle cx="486.14" cy="364.67" r="1.2" fill="#8c1529"/>
<circle cx="485.06" cy="365.4" r="1.2" fill="#8c1529"/>
<circle cx="482.64" cy="366.86" r="1.2" fill="#8c1529"/>
<circle cx="482.44" cy="369.05" r="1.2" fill="#8c1529"/>
<circle cx="482.55" cy="371.24" r="1.2" fill="#8c1529"/>
<circle cx="486.7" cy="374.16" r="1.2" fill="#8c1529"/>
<circle cx="482.62" cy="376.35" r="1.2" fill="#8c1529"/>
<circle cx="485.1" cy="378.54" r="1.2" fill="#8c1529"/>
<circle cx="486.75" cy="380.73" r="1.2" fill="#8c1529"/>
<path d="M493.69,399.73L494.79,402.01L492.59,402.01Z" fill="#1f2d4f"/>
<path d="M492.93,399.94L494.03,402.22L491.83,402.22Z" fill="#1f2d4f"/>
<path d="M492.89,400.39L493.99,402.67L491.79,402.67Z" fill="#1f2d4f"/>
<path d="M493.74,400.25L494.84,402.53L492.64,402.53Z" fill="#1f2d4f"/>
<line x1="505.2" y1="385.1" x2="505.2" y2="336.2" stroke="#4a5a8a" stroke-width="0.8"/>
<line x1="503.6" y1="385.1" x2="506.8" y2="385.1" stroke="#4a5a8a" stroke-width="0.7"/>
<line x1="503.6" y1="336.2" x2="506.8" y2="336.2" stroke="#4a5a8a" stroke-width="0.7"/>
<rect x="501.7" y="343.5" width="7" height="16.1" fill="#a9b6da" stroke="#8594c2" stroke-width="0.5"/>
<path d="M506.75,334.91L507.85,337.19L505.65,337.19Z" fill="#1f2d4f"/>
<path d="M504.8,340.75L505.9,343.03L503.7,343.03Z" fill="#1f2d4f"/>
<path d="M505.55,342.21L506.65,344.49L504.45,344.49Z" fill="#1f2d4f"/>
<path d="M506.64,343.67L507.74,345.95L505.54,345.95Z" fill="#1f2d4f"/>
<path d="M504.11,345.13L505.21,347.41L503.01,347.41Z" fill="#1f2d4f"/>
<path d="M505.26,346.59L506.36,348.87L504.16,348.87Z" fill="#1f2d4f"/>
<path d="M505.53,347.32L506.63,349.6L504.43,349.6Z" fill="#1f2d4f"/>
<path d="M506.99,348.05L508.09,350.33L505.89,350.33Z" fill="#1f2d4f"/>
<path d="M503.33,348.78L504.43,351.06L502.23,351.06Z" fill="#1f2d4f"/>
<path d="M503.48,349.51L504.58,351.79L502.38,351.79Z" fill="#1f2d4f"/>
<path d="M504.48,350.97L505.58,353.25L503.38,353.25Z" fill="#1f2d4f"/>
<path d="M506.5,353.16L507.6,355.44L505.4,355.44Z" fill="#1f2d4f"/>
<path d="M506.57,355.35L507.67,357.63L505.47,357.63Z" fill="#1f2d4f"/>
<path d="M503.74,367.76L504.84,370.04L502.64,370.04Z" fill="#1f2d4f"/>
<path d="M506.88,377.25L507.98,379.53L505.78,379.53Z" fill="#1f2d4f"/>
<path d="M505.31,383.82L506.41,386.1L504.21,386.1Z" fill="#1f2d4f"/>
<text transform="translate(458.6,422.1) rotate(-29.5)" x="0" y="0" font-size="6.9" text-anchor="end" fill="#1a1a1a">Healthy</text>
<text transform="translate(479.1,422.1) rotate(-29.5)" x="0" y="0" font-size="7.4" text-anchor="end" fill="#1a1a1a">HGBL-<tspan font-style="italic">MYC</tspan>/<tspan font-style="italic">BCL2</tspan></text>
<text transform="translate(499.8,422.1) rotate(-29.5)" x="0" y="0" font-size="7.4" text-anchor="end" fill="#1a1a1a">DLBCL NOS</text>
<text x="363.3" y="468.8" font-size="9.3" text-anchor="middle" fill="#1a1a1a">IL-2</text>
<text x="476.3" y="468.8" font-size="9.3" text-anchor="middle" fill="#1a1a1a">IL-2</text>
<line x1="326.7" y1="470.4" x2="329.7" y2="470.4" stroke="#111" stroke-width="0.85"/>
<line x1="326.7" y1="472.87" x2="329.7" y2="472.87" stroke="#111" stroke-width="0.85"/>
<line x1="326.7" y1="475.34" x2="329.7" y2="475.34" stroke="#111" stroke-width="0.85"/>
<line x1="326.7" y1="477.81" x2="329.7" y2="477.81" stroke="#111" stroke-width="0.85"/>
<line x1="326.7" y1="480.28" x2="329.7" y2="480.28" stroke="#111" stroke-width="0.85"/>
<line x1="326.7" y1="482.75" x2="329.7" y2="482.75" stroke="#111" stroke-width="0.85"/>
<line x1="326.7" y1="485.22" x2="329.7" y2="485.22" stroke="#111" stroke-width="0.85"/>
<line x1="326.7" y1="487.68" x2="329.7" y2="487.68" stroke="#111" stroke-width="0.85"/>
<line x1="326.7" y1="490.15" x2="329.7" y2="490.15" stroke="#111" stroke-width="0.85"/>
<line x1="326.7" y1="492.62" x2="329.7" y2="492.62" stroke="#111" stroke-width="0.85"/>
<line x1="326.7" y1="495.09" x2="329.7" y2="495.09" stroke="#111" stroke-width="0.85"/>
<line x1="326.7" y1="497.56" x2="329.7" y2="497.56" stroke="#111" stroke-width="0.85"/>
<line x1="326.7" y1="500.03" x2="329.7" y2="500.03" stroke="#111" stroke-width="0.85"/>
<line x1="326.7" y1="502.5" x2="329.7" y2="502.5" stroke="#111" stroke-width="0.85"/>
<path d="M333.86,483.24L334.65,482.99L335.44,482.54L336.23,481.82L337.02,480.75L337.81,479.32L338.6,477.56L339.39,475.63L340.18,473.77L340.97,472.28L341.76,471.43L342.55,471.38L343.34,472.15L344.13,473.58L344.92,475.41L345.71,477.35L346.5,479.13L347.29,480.61L348.08,481.71L348.87,482.47L349.66,482.95L350.45,483.22" stroke="#000" fill="none" stroke-width="0.95" stroke-dasharray="1.2,0.9"/>
<path d="M330.7,490.5L330.7,490.5L331.49,490.5L332.28,490.49L333.07,490.48L333.86,490.45L334.65,490.38L335.44,490.24L336.23,489.96L337.02,489.49L337.81,488.78L338.6,487.81L339.39,486.68L340.18,485.54L340.97,484.61L341.76,484.1L342.55,484.09L343.34,484.55L344.13,485.31L344.92,486.15L345.71,486.89L346.5,487.48L347.29,487.9L348.08,488.23L348.87,488.51L349.66,488.76L350.45,488.96L351.24,489.11L352.03,489.18L352.82,489.2L353.61,489.17L354.4,489.13L355.19,489.08L355.98,489.05L356.77,489.02L357.56,488.99L358.35,488.93L359.14,488.83L359.93,488.68L360.72,488.47L361.51,488.23L362.3,487.99L363.09,487.81L363.88,487.73L364.67,487.8L365.46,488.01L366.25,488.34L367.04,488.75L367.83,489.17L368.62,489.55L369.41,489.87L370.2,490.1L370.99,490.27L371.78,490.37L372.57,490.44L373.36,490.47L374.15,490.49L374.94,490.49L375.73,490.5L376.52,490.5L377.31,490.5L378.1,490.5L378.89,490.5L379.68,490.5L380.47,490.5L381.26,490.5L382.05,490.5L382.84,490.5L383.63,490.5L384.42,490.5L385.21,490.5L386,490.5L386,490.5Z" stroke="none" fill="#b3f09a" stroke-width="0.9"/>
<path d="M335.44,490.24L336.23,489.96L337.02,489.49L337.81,488.78L338.6,487.81L339.39,486.68L340.18,485.54L340.97,484.61L341.76,484.1L342.55,484.09L343.34,484.55L344.13,485.31L344.92,486.15L345.71,486.89L346.5,487.48L347.29,487.9L348.08,488.23L348.87,488.51L349.66,488.76L350.45,488.96L351.24,489.11L352.03,489.18L352.82,489.2L353.61,489.17L354.4,489.13L355.19,489.08L355.98,489.05L356.77,489.02L357.56,488.99L358.35,488.93L359.14,488.83L359.93,488.68L360.72,488.47L361.51,488.23L362.3,487.99L363.09,487.81L363.88,487.73L364.67,487.8L365.46,488.01L366.25,488.34L367.04,488.75L367.83,489.17L368.62,489.55L369.41,489.87L370.2,490.1" stroke="#5fbf45" fill="none" stroke-width="0.7"/>
<path d="M330.7,496.5L330.7,496.5L331.49,496.5L332.28,496.5L333.07,496.49L333.86,496.46L334.65,496.39L335.44,496.23L336.23,495.9L337.02,495.28L337.81,494.27L338.6,492.81L339.39,490.97L340.18,488.99L340.97,487.28L341.76,486.25L342.55,486.18L343.34,487.1L344.13,488.74L344.92,490.68L345.71,492.53L346.5,494.01L347.29,495.04L348.08,495.66L348.87,495.98L349.66,496.13L350.45,496.18L351.24,496.19L352.03,496.2L352.82,496.2L353.61,496.22L354.4,496.25L355.19,496.28L355.98,496.32L356.77,496.35L357.56,496.39L358.35,496.41L359.14,496.44L359.93,496.46L360.72,496.47L361.51,496.48L362.3,496.49L363.09,496.49L363.88,496.5L364.67,496.5L365.46,496.5L366.25,496.5L367.04,496.5L367.83,496.5L368.62,496.5L369.41,496.5L370.2,496.5L370.99,496.5L371.78,496.5L372.57,496.5L373.36,496.5L374.15,496.5L374.94,496.5L375.73,496.5L376.52,496.5L377.31,496.5L378.1,496.5L378.89,496.5L379.68,496.5L380.47,496.5L381.26,496.5L382.05,496.5L382.84,496.5L383.63,496.5L384.42,496.5L385.21,496.5L386,496.5L386,496.5Z" stroke="none" fill="#f08c7c" stroke-width="0.9"/>
<path d="M335.44,496.23L336.23,495.9L337.02,495.28L337.81,494.27L338.6,492.81L339.39,490.97L340.18,488.99L340.97,487.28L341.76,486.25L342.55,486.18L343.34,487.1L344.13,488.74L344.92,490.68L345.71,492.53L346.5,494.01L347.29,495.04L348.08,495.66L348.87,495.98L349.66,496.13L350.45,496.18L351.24,496.19L352.03,496.2L352.82,496.2L353.61,496.22L354.4,496.25" stroke="#c8463e" fill="none" stroke-width="0.7"/>
<path d="M330.7,503.5L330.7,503.5L331.49,503.5L332.28,503.49L333.07,503.48L333.86,503.45L334.65,503.39L335.44,503.28L336.23,503.09L337.02,502.78L337.81,502.34L338.6,501.74L339.39,501.02L340.18,500.24L340.97,499.5L341.76,498.92L342.55,498.6L343.34,498.59L344.13,498.91L344.92,499.47L345.71,500.17L346.5,500.88L347.29,501.52L348.08,502.03L348.87,502.38L349.66,502.61L350.45,502.74L351.24,502.81L352.03,502.85L352.82,502.89L353.61,502.93L354.4,502.99L355.19,503.04L355.98,503.09L356.77,503.12L357.56,503.12L358.35,503.06L359.14,502.94L359.93,502.73L360.72,502.42L361.51,502.02L362.3,501.53L363.09,501L363.88,500.47L364.67,500.01L365.46,499.67L366.25,499.51L367.04,499.55L367.83,499.78L368.62,500.17L369.41,500.67L370.2,501.21L370.99,501.74L371.78,502.22L372.57,502.61L373.36,502.91L374.15,503.13L374.94,503.28L375.73,503.38L376.52,503.43L377.31,503.47L378.1,503.48L378.89,503.49L379.68,503.5L380.47,503.5L381.26,503.5L382.05,503.5L382.84,503.5L383.63,503.5L384.42,503.5L385.21,503.5L386,503.5L386,503.5Z" stroke="none" fill="#8896be" stroke-width="0.9"/>
<path d="M336.23,503.09L337.02,502.78L337.81,502.34L338.6,501.74L339.39,501.02L340.18,500.24L340.97,499.5L341.76,498.92L342.55,498.6L343.34,498.59L344.13,498.91L344.92,499.47L345.71,500.17L346.5,500.88L347.29,501.52L348.08,502.03L348.87,502.38L349.66,502.61L350.45,502.74L351.24,502.81L352.03,502.85L352.82,502.89L353.61,502.93L354.4,502.99L355.19,503.04L355.98,503.09L356.77,503.12L357.56,503.12L358.35,503.06L359.14,502.94L359.93,502.73L360.72,502.42L361.51,502.02L362.3,501.53L363.09,501L363.88,500.47L364.67,500.01L365.46,499.67L366.25,499.51L367.04,499.55L367.83,499.78L368.62,500.17L369.41,500.67L370.2,501.21L370.99,501.74L371.78,502.22L372.57,502.61L373.36,502.91L374.15,503.13" stroke="#3c4e82" fill="none" stroke-width="0.7"/>
<line x1="329.7" y1="483.5" x2="386" y2="483.5" stroke="#454545" stroke-width="1.0"/>
<line x1="329.7" y1="490.5" x2="386" y2="490.5" stroke="#454545" stroke-width="1.0"/>
<line x1="329.7" y1="496.5" x2="386" y2="496.5" stroke="#454545" stroke-width="1.0"/>
<line x1="329.7" y1="503.5" x2="386" y2="503.5" stroke="#1a1a1a" stroke-width="1.1"/>
<line x1="329.7" y1="467.4" x2="329.7" y2="504" stroke="#1a1a1a" stroke-width="1.2"/>
<line x1="331.5" y1="503.5" x2="331.5" y2="506.3" stroke="#111" stroke-width="0.65"/>
<line x1="332.9" y1="503.5" x2="332.9" y2="506.3" stroke="#111" stroke-width="0.65"/>
<line x1="334.3" y1="503.5" x2="334.3" y2="506.3" stroke="#111" stroke-width="0.65"/>
<line x1="335.9" y1="503.5" x2="335.9" y2="506.3" stroke="#111" stroke-width="0.65"/>
<line x1="337.3" y1="503.5" x2="337.3" y2="506.3" stroke="#111" stroke-width="0.65"/>
<line x1="338.9" y1="503.5" x2="338.9" y2="506.3" stroke="#111" stroke-width="0.65"/>
<line x1="340.3" y1="503.5" x2="340.3" y2="506.3" stroke="#111" stroke-width="0.65"/>
<line x1="346.11" y1="503.5" x2="346.11" y2="506.3" stroke="#111" stroke-width="0.65"/>
<line x1="348.4" y1="503.5" x2="348.4" y2="506.3" stroke="#111" stroke-width="0.65"/>
<line x1="350.03" y1="503.5" x2="350.03" y2="506.3" stroke="#111" stroke-width="0.65"/>
<line x1="351.29" y1="503.5" x2="351.29" y2="506.3" stroke="#111" stroke-width="0.65"/>
<line x1="352.32" y1="503.5" x2="352.32" y2="506.3" stroke="#111" stroke-width="0.65"/>
<line x1="353.19" y1="503.5" x2="353.19" y2="506.3" stroke="#111" stroke-width="0.65"/>
<line x1="353.94" y1="503.5" x2="353.94" y2="506.3" stroke="#111" stroke-width="0.65"/>
<line x1="354.61" y1="503.5" x2="354.61" y2="506.3" stroke="#111" stroke-width="0.65"/>
<line x1="359.11" y1="503.5" x2="359.11" y2="506.3" stroke="#111" stroke-width="0.65"/>
<line x1="361.4" y1="503.5" x2="361.4" y2="506.3" stroke="#111" stroke-width="0.65"/>
<line x1="363.03" y1="503.5" x2="363.03" y2="506.3" stroke="#111" stroke-width="0.65"/>
<line x1="364.29" y1="503.5" x2="364.29" y2="506.3" stroke="#111" stroke-width="0.65"/>
<line x1="365.32" y1="503.5" x2="365.32" y2="506.3" stroke="#111" stroke-width="0.65"/>
<line x1="366.19" y1="503.5" x2="366.19" y2="506.3" stroke="#111" stroke-width="0.65"/>
<line x1="366.94" y1="503.5" x2="366.94" y2="506.3" stroke="#111" stroke-width="0.65"/>
<line x1="367.61" y1="503.5" x2="367.61" y2="506.3" stroke="#111" stroke-width="0.65"/>
<line x1="372.11" y1="503.5" x2="372.11" y2="506.3" stroke="#111" stroke-width="0.65"/>
<line x1="374.4" y1="503.5" x2="374.4" y2="506.3" stroke="#111" stroke-width="0.65"/>
<line x1="376.03" y1="503.5" x2="376.03" y2="506.3" stroke="#111" stroke-width="0.65"/>
<line x1="377.29" y1="503.5" x2="377.29" y2="506.3" stroke="#111" stroke-width="0.65"/>
<line x1="378.32" y1="503.5" x2="378.32" y2="506.3" stroke="#111" stroke-width="0.65"/>
<line x1="379.19" y1="503.5" x2="379.19" y2="506.3" stroke="#111" stroke-width="0.65"/>
<line x1="379.94" y1="503.5" x2="379.94" y2="506.3" stroke="#111" stroke-width="0.65"/>
<line x1="380.61" y1="503.5" x2="380.61" y2="506.3" stroke="#111" stroke-width="0.65"/>
<line x1="334.7" y1="503.5" x2="334.7" y2="506.7" stroke="#1a1a1a" stroke-width="0.85"/>
<line x1="342.2" y1="503.5" x2="342.2" y2="506.7" stroke="#1a1a1a" stroke-width="0.85"/>
<line x1="355.2" y1="503.5" x2="355.2" y2="506.7" stroke="#1a1a1a" stroke-width="0.85"/>
<line x1="368.2" y1="503.5" x2="368.2" y2="506.7" stroke="#1a1a1a" stroke-width="0.85"/>
<line x1="381.2" y1="503.5" x2="381.2" y2="506.7" stroke="#1a1a1a" stroke-width="0.85"/>
<text x="331.9" y="513.8" font-size="6.6" fill="#333">−10<tspan font-size="4.6" dy="-2.6">2</tspan></text>
<text x="350.3" y="513.8" font-size="6.6" fill="#333">10<tspan font-size="4.6" dy="-2.6">3</tspan></text>
<text x="363.3" y="513.8" font-size="6.6" fill="#333">10<tspan font-size="4.6" dy="-2.6">4</tspan></text>
<text x="375.3" y="513.8" font-size="6.6" fill="#333">10<tspan font-size="4.6" dy="-2.6">5</tspan></text>
<line x1="443.5" y1="470.4" x2="446.5" y2="470.4" stroke="#111" stroke-width="0.85"/>
<line x1="443.5" y1="472.87" x2="446.5" y2="472.87" stroke="#111" stroke-width="0.85"/>
<line x1="443.5" y1="475.34" x2="446.5" y2="475.34" stroke="#111" stroke-width="0.85"/>
<line x1="443.5" y1="477.81" x2="446.5" y2="477.81" stroke="#111" stroke-width="0.85"/>
<line x1="443.5" y1="480.28" x2="446.5" y2="480.28" stroke="#111" stroke-width="0.85"/>
<line x1="443.5" y1="482.75" x2="446.5" y2="482.75" stroke="#111" stroke-width="0.85"/>
<line x1="443.5" y1="485.22" x2="446.5" y2="485.22" stroke="#111" stroke-width="0.85"/>
<line x1="443.5" y1="487.68" x2="446.5" y2="487.68" stroke="#111" stroke-width="0.85"/>
<line x1="443.5" y1="490.15" x2="446.5" y2="490.15" stroke="#111" stroke-width="0.85"/>
<line x1="443.5" y1="492.62" x2="446.5" y2="492.62" stroke="#111" stroke-width="0.85"/>
<line x1="443.5" y1="495.09" x2="446.5" y2="495.09" stroke="#111" stroke-width="0.85"/>
<line x1="443.5" y1="497.56" x2="446.5" y2="497.56" stroke="#111" stroke-width="0.85"/>
<line x1="443.5" y1="500.03" x2="446.5" y2="500.03" stroke="#111" stroke-width="0.85"/>
<line x1="443.5" y1="502.5" x2="446.5" y2="502.5" stroke="#111" stroke-width="0.85"/>
<path d="M451.45,483.2L452.24,482.9L453.03,482.39L453.82,481.59L454.61,480.44L455.4,478.92L456.19,477.11L456.98,475.17L457.77,473.37L458.56,472.01L459.35,471.34L460.14,471.5L460.93,472.44L461.72,474L462.51,475.88L463.3,477.8L464.09,479.52L464.88,480.91L465.67,481.92L466.46,482.61L467.25,483.03" stroke="#000" fill="none" stroke-width="0.95" stroke-dasharray="1.2,0.9"/>
<path d="M447.5,490.5L447.5,490.5L448.29,490.5L449.08,490.5L449.87,490.5L450.66,490.49L451.45,490.47L452.24,490.41L453.03,490.3L453.82,490.06L454.61,489.64L455.4,488.99L456.19,488.08L456.98,486.99L457.77,485.89L458.56,484.98L459.35,484.46L460.14,484.41L460.93,484.73L461.72,485.24L462.51,485.73L463.3,486.09L464.09,486.31L464.88,486.48L465.67,486.7L466.46,487.01L467.25,487.36L468.04,487.7L468.83,487.96L469.62,488.11L470.41,488.18L471.2,488.2L471.99,488.24L472.78,488.31L473.57,488.44L474.36,488.61L475.15,488.8L475.94,488.96L476.73,489.05L477.52,489.01L478.31,488.83L479.1,488.53L479.89,488.18L480.68,487.9L481.47,487.78L482.26,487.88L483.05,488.2L483.84,488.67L484.63,489.18L485.42,489.63L486.21,489.99L487,490.22L487.79,490.37L488.58,490.44L489.37,490.48L490.16,490.49L490.95,490.5L491.74,490.5L492.53,490.5L493.32,490.5L494.11,490.5L494.9,490.5L495.69,490.5L496.48,490.5L497.27,490.5L498.06,490.5L498.85,490.5L499.64,490.5L500.43,490.5L501.22,490.5L502.01,490.5L502.8,490.5L502.8,490.5Z" stroke="none" fill="#b3f09a" stroke-width="0.9"/>
<path d="M453.82,490.06L454.61,489.64L455.4,488.99L456.19,488.08L456.98,486.99L457.77,485.89L458.56,484.98L459.35,484.46L460.14,484.41L460.93,484.73L461.72,485.24L462.51,485.73L463.3,486.09L464.09,486.31L464.88,486.48L465.67,486.7L466.46,487.01L467.25,487.36L468.04,487.7L468.83,487.96L469.62,488.11L470.41,488.18L471.2,488.2L471.99,488.24L472.78,488.31L473.57,488.44L474.36,488.61L475.15,488.8L475.94,488.96L476.73,489.05L477.52,489.01L478.31,488.83L479.1,488.53L479.89,488.18L480.68,487.9L481.47,487.78L482.26,487.88L483.05,488.2L483.84,488.67L484.63,489.18L485.42,489.63L486.21,489.99L487,490.22" stroke="#5fbf45" fill="none" stroke-width="0.7"/>
<path d="M447.5,496.5L447.5,496.5L448.29,496.5L449.08,496.49L449.87,496.49L450.66,496.46L451.45,496.4L452.24,496.25L453.03,495.93L453.82,495.33L454.61,494.33L455.4,492.86L456.19,491.01L456.98,489.07L457.77,487.45L458.56,486.58L459.35,486.72L460.14,487.8L460.93,489.48L461.72,491.32L462.51,492.93L463.3,494.13L464.09,494.9L464.88,495.32L465.67,495.53L466.46,495.62L467.25,495.67L468.04,495.7L468.83,495.74L469.62,495.77L470.41,495.81L471.2,495.84L471.99,495.87L472.78,495.89L473.57,495.91L474.36,495.93L475.15,495.96L475.94,495.99L476.73,496.03L477.52,496.07L478.31,496.12L479.1,496.18L479.89,496.23L480.68,496.29L481.47,496.34L482.26,496.38L483.05,496.41L483.84,496.44L484.63,496.46L485.42,496.47L486.21,496.48L487,496.49L487.79,496.49L488.58,496.5L489.37,496.5L490.16,496.5L490.95,496.5L491.74,496.5L492.53,496.5L493.32,496.5L494.11,496.5L494.9,496.5L495.69,496.5L496.48,496.5L497.27,496.5L498.06,496.5L498.85,496.5L499.64,496.5L500.43,496.5L501.22,496.5L502.01,496.5L502.8,496.5L502.8,496.5Z" stroke="none" fill="#f08c7c" stroke-width="0.9"/>
<path d="M453.03,495.93L453.82,495.33L454.61,494.33L455.4,492.86L456.19,491.01L456.98,489.07L457.77,487.45L458.56,486.58L459.35,486.72L460.14,487.8L460.93,489.48L461.72,491.32L462.51,492.93L463.3,494.13L464.09,494.9L464.88,495.32L465.67,495.53L466.46,495.62L467.25,495.67L468.04,495.7L468.83,495.74L469.62,495.77L470.41,495.81L471.2,495.84L471.99,495.87L472.78,495.89L473.57,495.91L474.36,495.93L475.15,495.96L475.94,495.99L476.73,496.03L477.52,496.07L478.31,496.12L479.1,496.18L479.89,496.23" stroke="#c8463e" fill="none" stroke-width="0.7"/>
<path d="M447.5,503.5L447.5,503.47L448.29,503.43L449.08,503.37L449.87,503.25L450.66,503.06L451.45,502.78L452.24,502.39L453.03,501.88L453.82,501.28L454.61,500.64L455.4,500.03L456.19,499.54L456.98,499.25L457.77,499.19L458.56,499.38L459.35,499.78L460.14,500.29L460.93,500.84L461.72,501.33L462.51,501.72L463.3,501.99L464.09,502.15L464.88,502.23L465.67,502.28L466.46,502.33L467.25,502.4L468.04,502.47L468.83,502.53L469.62,502.56L470.41,502.55L471.2,502.49L471.99,502.37L472.78,502.22L473.57,502.05L474.36,501.86L475.15,501.68L475.94,501.49L476.73,501.3L477.52,501.1L478.31,500.88L479.1,500.65L479.89,500.41L480.68,500.2L481.47,500.05L482.26,500L483.05,500.06L483.84,500.25L484.63,500.56L485.42,500.96L486.21,501.4L487,501.85L487.79,502.26L488.58,502.62L489.37,502.9L490.16,503.11L490.95,503.26L491.74,503.36L492.53,503.42L493.32,503.46L494.11,503.48L494.9,503.49L495.69,503.5L496.48,503.5L497.27,503.5L498.06,503.5L498.85,503.5L499.64,503.5L500.43,503.5L501.22,503.5L502.01,503.5L502.8,503.5L502.8,503.5Z" stroke="none" fill="#8896be" stroke-width="0.9"/>
<path d="M449.87,503.25L450.66,503.06L451.45,502.78L452.24,502.39L453.03,501.88L453.82,501.28L454.61,500.64L455.4,500.03L456.19,499.54L456.98,499.25L457.77,499.19L458.56,499.38L459.35,499.78L460.14,500.29L460.93,500.84L461.72,501.33L462.51,501.72L463.3,501.99L464.09,502.15L464.88,502.23L465.67,502.28L466.46,502.33L467.25,502.4L468.04,502.47L468.83,502.53L469.62,502.56L470.41,502.55L471.2,502.49L471.99,502.37L472.78,502.22L473.57,502.05L474.36,501.86L475.15,501.68L475.94,501.49L476.73,501.3L477.52,501.1L478.31,500.88L479.1,500.65L479.89,500.41L480.68,500.2L481.47,500.05L482.26,500L483.05,500.06L483.84,500.25L484.63,500.56L485.42,500.96L486.21,501.4L487,501.85L487.79,502.26L488.58,502.62L489.37,502.9L490.16,503.11" stroke="#3c4e82" fill="none" stroke-width="0.7"/>
<line x1="446.5" y1="483.5" x2="502.8" y2="483.5" stroke="#454545" stroke-width="1.0"/>
<line x1="446.5" y1="490.5" x2="502.8" y2="490.5" stroke="#454545" stroke-width="1.0"/>
<line x1="446.5" y1="496.5" x2="502.8" y2="496.5" stroke="#454545" stroke-width="1.0"/>
<line x1="446.5" y1="503.5" x2="502.8" y2="503.5" stroke="#1a1a1a" stroke-width="1.1"/>
<line x1="446.5" y1="467.4" x2="446.5" y2="504" stroke="#1a1a1a" stroke-width="1.2"/>
<line x1="448.3" y1="503.5" x2="448.3" y2="506.3" stroke="#111" stroke-width="0.65"/>
<line x1="449.7" y1="503.5" x2="449.7" y2="506.3" stroke="#111" stroke-width="0.65"/>
<line x1="451.1" y1="503.5" x2="451.1" y2="506.3" stroke="#111" stroke-width="0.65"/>
<line x1="452.7" y1="503.5" x2="452.7" y2="506.3" stroke="#111" stroke-width="0.65"/>
<line x1="454.1" y1="503.5" x2="454.1" y2="506.3" stroke="#111" stroke-width="0.65"/>
<line x1="455.7" y1="503.5" x2="455.7" y2="506.3" stroke="#111" stroke-width="0.65"/>
<line x1="457.1" y1="503.5" x2="457.1" y2="506.3" stroke="#111" stroke-width="0.65"/>
<line x1="462.91" y1="503.5" x2="462.91" y2="506.3" stroke="#111" stroke-width="0.65"/>
<line x1="465.2" y1="503.5" x2="465.2" y2="506.3" stroke="#111" stroke-width="0.65"/>
<line x1="466.83" y1="503.5" x2="466.83" y2="506.3" stroke="#111" stroke-width="0.65"/>
<line x1="468.09" y1="503.5" x2="468.09" y2="506.3" stroke="#111" stroke-width="0.65"/>
<line x1="469.12" y1="503.5" x2="469.12" y2="506.3" stroke="#111" stroke-width="0.65"/>
<line x1="469.99" y1="503.5" x2="469.99" y2="506.3" stroke="#111" stroke-width="0.65"/>
<line x1="470.74" y1="503.5" x2="470.74" y2="506.3" stroke="#111" stroke-width="0.65"/>
<line x1="471.41" y1="503.5" x2="471.41" y2="506.3" stroke="#111" stroke-width="0.65"/>
<line x1="475.91" y1="503.5" x2="475.91" y2="506.3" stroke="#111" stroke-width="0.65"/>
<line x1="478.2" y1="503.5" x2="478.2" y2="506.3" stroke="#111" stroke-width="0.65"/>
<line x1="479.83" y1="503.5" x2="479.83" y2="506.3" stroke="#111" stroke-width="0.65"/>
<line x1="481.09" y1="503.5" x2="481.09" y2="506.3" stroke="#111" stroke-width="0.65"/>
<line x1="482.12" y1="503.5" x2="482.12" y2="506.3" stroke="#111" stroke-width="0.65"/>
<line x1="482.99" y1="503.5" x2="482.99" y2="506.3" stroke="#111" stroke-width="0.65"/>
<line x1="483.74" y1="503.5" x2="483.74" y2="506.3" stroke="#111" stroke-width="0.65"/>
<line x1="484.41" y1="503.5" x2="484.41" y2="506.3" stroke="#111" stroke-width="0.65"/>
<line x1="488.91" y1="503.5" x2="488.91" y2="506.3" stroke="#111" stroke-width="0.65"/>
<line x1="491.2" y1="503.5" x2="491.2" y2="506.3" stroke="#111" stroke-width="0.65"/>
<line x1="492.83" y1="503.5" x2="492.83" y2="506.3" stroke="#111" stroke-width="0.65"/>
<line x1="494.09" y1="503.5" x2="494.09" y2="506.3" stroke="#111" stroke-width="0.65"/>
<line x1="495.12" y1="503.5" x2="495.12" y2="506.3" stroke="#111" stroke-width="0.65"/>
<line x1="495.99" y1="503.5" x2="495.99" y2="506.3" stroke="#111" stroke-width="0.65"/>
<line x1="496.74" y1="503.5" x2="496.74" y2="506.3" stroke="#111" stroke-width="0.65"/>
<line x1="497.41" y1="503.5" x2="497.41" y2="506.3" stroke="#111" stroke-width="0.65"/>
<line x1="451.5" y1="503.5" x2="451.5" y2="506.7" stroke="#1a1a1a" stroke-width="0.85"/>
<line x1="459" y1="503.5" x2="459" y2="506.7" stroke="#1a1a1a" stroke-width="0.85"/>
<line x1="472" y1="503.5" x2="472" y2="506.7" stroke="#1a1a1a" stroke-width="0.85"/>
<line x1="485" y1="503.5" x2="485" y2="506.7" stroke="#1a1a1a" stroke-width="0.85"/>
<line x1="498" y1="503.5" x2="498" y2="506.7" stroke="#1a1a1a" stroke-width="0.85"/>
<text x="448.7" y="513.8" font-size="6.6" fill="#333">−10<tspan font-size="4.6" dy="-2.6">2</tspan></text>
<text x="467.1" y="513.8" font-size="6.6" fill="#333">10<tspan font-size="4.6" dy="-2.6">3</tspan></text>
<text x="480.1" y="513.8" font-size="6.6" fill="#333">10<tspan font-size="4.6" dy="-2.6">4</tspan></text>
<text x="492.1" y="513.8" font-size="6.6" fill="#333">10<tspan font-size="4.6" dy="-2.6">5</tspan></text>
<line x1="326.4" y1="540.28" x2="326.4" y2="616.9" stroke="#1a1a1a" stroke-width="1.3"/>
<line x1="323.2" y1="616.3" x2="326.4" y2="616.3" stroke="#1a1a1a" stroke-width="0.9"/>
<text x="319.8" y="618.6" font-size="7.3" text-anchor="end" fill="#2a2a2a">0</text>
<line x1="323.2" y1="597.92" x2="326.4" y2="597.92" stroke="#1a1a1a" stroke-width="0.9"/>
<text x="319.8" y="600.22" font-size="7.3" text-anchor="end" fill="#2a2a2a">20</text>
<line x1="323.2" y1="579.54" x2="326.4" y2="579.54" stroke="#1a1a1a" stroke-width="0.9"/>
<text x="319.8" y="581.84" font-size="7.3" text-anchor="end" fill="#2a2a2a">40</text>
<line x1="323.2" y1="561.16" x2="326.4" y2="561.16" stroke="#1a1a1a" stroke-width="0.9"/>
<text x="319.8" y="563.46" font-size="7.3" text-anchor="end" fill="#2a2a2a">60</text>
<line x1="323.2" y1="542.78" x2="326.4" y2="542.78" stroke="#1a1a1a" stroke-width="0.9"/>
<text x="319.8" y="545.08" font-size="7.3" text-anchor="end" fill="#2a2a2a">80</text>
<line x1="325.75" y1="616.3" x2="392.7" y2="616.3" stroke="#1a1a1a" stroke-width="1.3"/>
<line x1="333.4" y1="616.3" x2="333.4" y2="619.1" stroke="#1a1a1a" stroke-width="0.8"/>
<line x1="344" y1="616.3" x2="344" y2="619.1" stroke="#1a1a1a" stroke-width="0.8"/>
<line x1="353.9" y1="616.3" x2="353.9" y2="619.1" stroke="#1a1a1a" stroke-width="0.8"/>
<line x1="364.5" y1="616.3" x2="364.5" y2="619.1" stroke="#1a1a1a" stroke-width="0.8"/>
<line x1="374.6" y1="616.3" x2="374.6" y2="619.1" stroke="#1a1a1a" stroke-width="0.8"/>
<line x1="385.2" y1="616.3" x2="385.2" y2="619.1" stroke="#1a1a1a" stroke-width="0.8"/>
<text x="363.7" y="532.3" font-size="7" text-anchor="middle" fill="#333"><tspan font-style="italic">P</tspan> = .68</text>
<path d="M344,536.6V533.8H385.2V536.6" stroke="#3a3a3a" fill="none" stroke-width="0.8"/>
<text x="363.9" y="543.1" font-size="7" text-anchor="end" fill="#333"><tspan font-style="italic">P</tspan> = .02</text>
<text x="365.2" y="543.1" font-size="7" fill="#333"><tspan font-style="italic">P</tspan> = .05</text>
<path d="M344,547.7V544.9H363.6V547.7" stroke="#3a3a3a" fill="none" stroke-width="0.8"/>
<path d="M365.4,547.7V544.9H385.2V547.7" stroke="#3a3a3a" fill="none" stroke-width="0.8"/>
<text x="333.4" y="630" font-size="7" text-anchor="middle" fill="#333">−</text>
<text x="344" y="630" font-size="7" text-anchor="middle" fill="#333">+</text>
<text x="353.9" y="630" font-size="7" text-anchor="middle" fill="#333">−</text>
<text x="364.5" y="630" font-size="7" text-anchor="middle" fill="#333">+</text>
<text x="374.6" y="630" font-size="7" text-anchor="middle" fill="#333">−</text>
<text x="385.2" y="630" font-size="7" text-anchor="middle" fill="#333">+</text>
<circle cx="332.37" cy="615.4" r="1.2" fill="#3f7f22"/>
<circle cx="332.05" cy="614.95" r="1.2" fill="#3f7f22"/>
<circle cx="332.33" cy="615.33" r="1.2" fill="#3f7f22"/>
<circle cx="335.11" cy="615.54" r="1.2" fill="#3f7f22"/>
<circle cx="335.27" cy="615.08" r="1.2" fill="#3f7f22"/>
<line x1="343.5" y1="604.4" x2="343.5" y2="574.9" stroke="#8fc776" stroke-width="0.8"/>
<rect x="340.5" y="579.5" width="6" height="9.2" fill="#c6f5a6" stroke="#a6e07e" stroke-width="0.5"/>
<circle cx="345.41" cy="574.94" r="1.2" fill="#3f7f22"/>
<circle cx="341.72" cy="579.54" r="1.2" fill="#3f7f22"/>
<circle cx="344.4" cy="581.38" r="1.2" fill="#3f7f22"/>
<circle cx="343.44" cy="583.22" r="1.2" fill="#3f7f22"/>
<circle cx="345.27" cy="585.97" r="1.2" fill="#3f7f22"/>
<circle cx="343.13" cy="588.73" r="1.2" fill="#3f7f22"/>
<circle cx="345.18" cy="604.35" r="1.2" fill="#3f7f22"/>
<circle cx="354.37" cy="614.85" r="1.2" fill="#8c1529"/>
<circle cx="353.73" cy="615.1" r="1.2" fill="#8c1529"/>
<circle cx="355.65" cy="615.37" r="1.2" fill="#8c1529"/>
<circle cx="354.84" cy="615.08" r="1.2" fill="#8c1529"/>
<circle cx="355.33" cy="616.05" r="1.2" fill="#8c1529"/>
<line x1="364.5" y1="613.5" x2="364.5" y2="579.5" stroke="#c23a44" stroke-width="0.8"/>
<rect x="361.5" y="589" width="6" height="11" fill="#b83a4c" stroke="#a83040" stroke-width="0.5"/>
<circle cx="366.49" cy="579.54" r="1.2" fill="#8c1529"/>
<circle cx="362.76" cy="580.46" r="1.2" fill="#8c1529"/>
<circle cx="364.77" cy="582.3" r="1.2" fill="#8c1529"/>
<circle cx="364.42" cy="584.13" r="1.2" fill="#8c1529"/>
<circle cx="366.7" cy="585.97" r="1.2" fill="#8c1529"/>
<circle cx="363.93" cy="587.81" r="1.2" fill="#8c1529"/>
<circle cx="364.24" cy="588.73" r="1.2" fill="#8c1529"/>
<circle cx="364.87" cy="589.65" r="1.2" fill="#8c1529"/>
<circle cx="363.93" cy="590.57" r="1.2" fill="#8c1529"/>
<circle cx="366.48" cy="591.49" r="1.2" fill="#8c1529"/>
<circle cx="366.32" cy="592.41" r="1.2" fill="#8c1529"/>
<circle cx="365.57" cy="593.32" r="1.2" fill="#8c1529"/>
<circle cx="362.37" cy="594.24" r="1.2" fill="#8c1529"/>
<circle cx="366.85" cy="595.16" r="1.2" fill="#8c1529"/>
<circle cx="364.73" cy="596.08" r="1.2" fill="#8c1529"/>
<circle cx="364.97" cy="597" r="1.2" fill="#8c1529"/>
<circle cx="364.7" cy="597.92" r="1.2" fill="#8c1529"/>
<circle cx="364.58" cy="598.84" r="1.2" fill="#8c1529"/>
<circle cx="366.57" cy="599.76" r="1.2" fill="#8c1529"/>
<circle cx="363.41" cy="601.6" r="1.2" fill="#8c1529"/>
<circle cx="362.78" cy="603.43" r="1.2" fill="#8c1529"/>
<circle cx="366.9" cy="605.27" r="1.2" fill="#8c1529"/>
<circle cx="363.35" cy="607.11" r="1.2" fill="#8c1529"/>
<circle cx="363.43" cy="609.87" r="1.2" fill="#8c1529"/>
<circle cx="364.2" cy="611.7" r="1.2" fill="#8c1529"/>
<circle cx="366.41" cy="613.54" r="1.2" fill="#8c1529"/>
<path d="M372.96,613.48L374.06,615.76L371.86,615.76Z" fill="#1f2d4f"/>
<path d="M373.2,613.77L374.3,616.05L372.1,616.05Z" fill="#1f2d4f"/>
<path d="M375.96,613.76L377.06,616.04L374.86,616.04Z" fill="#1f2d4f"/>
<path d="M373.81,614.32L374.91,616.6L372.71,616.6Z" fill="#1f2d4f"/>
<line x1="385.2" y1="610.8" x2="385.2" y2="556.6" stroke="#4a5a8a" stroke-width="0.8"/>
<line x1="383.6" y1="610.8" x2="386.8" y2="610.8" stroke="#4a5a8a" stroke-width="0.7"/>
<line x1="383.6" y1="556.6" x2="386.8" y2="556.6" stroke="#4a5a8a" stroke-width="0.7"/>
<rect x="381.7" y="574" width="7" height="23.9" fill="#a9b6da" stroke="#8594c2" stroke-width="0.5"/>
<path d="M387.06,555.27L388.16,557.55L385.96,557.55Z" fill="#1f2d4f"/>
<path d="M385.44,569.06L386.54,571.34L384.34,571.34Z" fill="#1f2d4f"/>
<path d="M385.09,571.82L386.19,574.1L383.99,574.1Z" fill="#1f2d4f"/>
<path d="M385.29,580.09L386.39,582.37L384.19,582.37Z" fill="#1f2d4f"/>
<path d="M386.27,582.85L387.37,585.12L385.17,585.12Z" fill="#1f2d4f"/>
<path d="M387.15,584.68L388.25,586.96L386.05,586.96Z" fill="#1f2d4f"/>
<path d="M384.88,587.44L385.98,589.72L383.78,589.72Z" fill="#1f2d4f"/>
<path d="M384.12,592.03L385.22,594.31L383.02,594.31Z" fill="#1f2d4f"/>
<path d="M384.7,596.63L385.8,598.91L383.6,598.91Z" fill="#1f2d4f"/>
<path d="M383.47,601.23L384.57,603.5L382.37,603.5Z" fill="#1f2d4f"/>
<path d="M385.77,605.82L386.87,608.1L384.67,608.1Z" fill="#1f2d4f"/>
<path d="M387.17,609.5L388.27,611.78L386.07,611.78Z" fill="#1f2d4f"/>
<text transform="translate(338.6,636.5) rotate(-29.5)" x="0" y="0" font-size="6.9" text-anchor="end" fill="#1a1a1a">Healthy</text>
<text transform="translate(359.1,636.5) rotate(-29.5)" x="0" y="0" font-size="7.4" text-anchor="end" fill="#1a1a1a">HGBL-<tspan font-style="italic">MYC</tspan>/<tspan font-style="italic">BCL2</tspan></text>
<text transform="translate(379.8,636.5) rotate(-29.5)" x="0" y="0" font-size="7.4" text-anchor="end" fill="#1a1a1a">DLBCL NOS</text>
<text transform="translate(306.1,577.2) rotate(-90) scale(0.716,1)" x="0" y="0" font-size="9.0" text-anchor="middle" font-weight="bold" fill="#1a1a1a">% of CD4<tspan font-size="6.1" dy="-3">+</tspan><tspan dy="3"> PD-1</tspan><tspan font-size="6.1" dy="-3">+</tspan><tspan dy="3"> T-cells</tspan></text>
<line x1="446.4" y1="540.28" x2="446.4" y2="616.9" stroke="#1a1a1a" stroke-width="1.3"/>
<line x1="443.2" y1="616.3" x2="446.4" y2="616.3" stroke="#1a1a1a" stroke-width="0.9"/>
<text x="439.8" y="618.6" font-size="7.3" text-anchor="end" fill="#2a2a2a">0</text>
<line x1="443.2" y1="597.92" x2="446.4" y2="597.92" stroke="#1a1a1a" stroke-width="0.9"/>
<text x="439.8" y="600.22" font-size="7.3" text-anchor="end" fill="#2a2a2a">20</text>
<line x1="443.2" y1="579.54" x2="446.4" y2="579.54" stroke="#1a1a1a" stroke-width="0.9"/>
<text x="439.8" y="581.84" font-size="7.3" text-anchor="end" fill="#2a2a2a">40</text>
<line x1="443.2" y1="561.16" x2="446.4" y2="561.16" stroke="#1a1a1a" stroke-width="0.9"/>
<text x="439.8" y="563.46" font-size="7.3" text-anchor="end" fill="#2a2a2a">60</text>
<line x1="443.2" y1="542.78" x2="446.4" y2="542.78" stroke="#1a1a1a" stroke-width="0.9"/>
<text x="439.8" y="545.08" font-size="7.3" text-anchor="end" fill="#2a2a2a">80</text>
<line x1="445.75" y1="616.3" x2="512.7" y2="616.3" stroke="#1a1a1a" stroke-width="1.3"/>
<line x1="453.4" y1="616.3" x2="453.4" y2="619.1" stroke="#1a1a1a" stroke-width="0.8"/>
<line x1="464" y1="616.3" x2="464" y2="619.1" stroke="#1a1a1a" stroke-width="0.8"/>
<line x1="473.9" y1="616.3" x2="473.9" y2="619.1" stroke="#1a1a1a" stroke-width="0.8"/>
<line x1="484.5" y1="616.3" x2="484.5" y2="619.1" stroke="#1a1a1a" stroke-width="0.8"/>
<line x1="494.6" y1="616.3" x2="494.6" y2="619.1" stroke="#1a1a1a" stroke-width="0.8"/>
<line x1="505.2" y1="616.3" x2="505.2" y2="619.1" stroke="#1a1a1a" stroke-width="0.8"/>
<text x="483.7" y="532.3" font-size="7" text-anchor="middle" fill="#333"><tspan font-style="italic">P</tspan> = .44</text>
<path d="M464,536.6V533.8H505.2V536.6" stroke="#3a3a3a" fill="none" stroke-width="0.8"/>
<text x="483.9" y="543.1" font-size="7" text-anchor="end" fill="#333"><tspan font-style="italic">P</tspan> = .08</text>
<text x="485.2" y="543.1" font-size="7" fill="#333"><tspan font-style="italic">P</tspan> = .67</text>
<path d="M464,547.7V544.9H483.6V547.7" stroke="#3a3a3a" fill="none" stroke-width="0.8"/>
<path d="M485.4,547.7V544.9H505.2V547.7" stroke="#3a3a3a" fill="none" stroke-width="0.8"/>
<text x="453.4" y="630" font-size="7" text-anchor="middle" fill="#333">−</text>
<text x="464" y="630" font-size="7" text-anchor="middle" fill="#333">+</text>
<text x="473.9" y="630" font-size="7" text-anchor="middle" fill="#333">−</text>
<text x="484.5" y="630" font-size="7" text-anchor="middle" fill="#333">+</text>
<text x="494.6" y="630" font-size="7" text-anchor="middle" fill="#333">−</text>
<text x="505.2" y="630" font-size="7" text-anchor="middle" fill="#333">+</text>
<line x1="453.4" y1="616.3" x2="453.4" y2="614" stroke="#8fc776" stroke-width="0.8"/>
<rect x="450.4" y="614" width="6" height="2.3" fill="#c6f5a6" stroke="#a6e07e" stroke-width="0.5"/>
<circle cx="453.38" cy="615.32" r="1.2" fill="#3f7f22"/>
<circle cx="454.64" cy="615.65" r="1.2" fill="#3f7f22"/>
<circle cx="452.68" cy="615.13" r="1.2" fill="#3f7f22"/>
<circle cx="453.34" cy="615.6" r="1.2" fill="#3f7f22"/>
<circle cx="453.02" cy="615.64" r="1.2" fill="#3f7f22"/>
<line x1="463.5" y1="608" x2="463.5" y2="568.5" stroke="#8fc776" stroke-width="0.8"/>
<rect x="460" y="581.4" width="7" height="14.7" fill="#c6f5a6" stroke="#a6e07e" stroke-width="0.5"/>
<circle cx="465.38" cy="568.51" r="1.2" fill="#3f7f22"/>
<circle cx="462.06" cy="579.54" r="1.2" fill="#3f7f22"/>
<circle cx="465.57" cy="589.65" r="1.2" fill="#3f7f22"/>
<circle cx="462.35" cy="590.57" r="1.2" fill="#3f7f22"/>
<circle cx="463.34" cy="591.49" r="1.2" fill="#3f7f22"/>
<circle cx="465.25" cy="596.08" r="1.2" fill="#3f7f22"/>
<circle cx="462.87" cy="608.03" r="1.2" fill="#3f7f22"/>
<line x1="474.1" y1="616.3" x2="474.1" y2="614" stroke="#c23a44" stroke-width="0.8"/>
<rect x="471.1" y="614" width="6" height="2.3" fill="#b83a4c" stroke="#a83040" stroke-width="0.5"/>
<circle cx="473.88" cy="615.69" r="1.2" fill="#8c1529"/>
<circle cx="475.74" cy="615.42" r="1.2" fill="#8c1529"/>
<circle cx="472.45" cy="615.05" r="1.2" fill="#8c1529"/>
<circle cx="472.4" cy="615.82" r="1.2" fill="#8c1529"/>
<circle cx="472.4" cy="615.22" r="1.2" fill="#8c1529"/>
<circle cx="475.47" cy="615.24" r="1.2" fill="#8c1529"/>
<line x1="484.5" y1="613.5" x2="484.5" y2="572.2" stroke="#c23a44" stroke-width="0.8"/>
<rect x="481.5" y="595.2" width="6" height="9.2" fill="#b83a4c" stroke="#a83040" stroke-width="0.5"/>
<circle cx="484.39" cy="572.19" r="1.2" fill="#8c1529"/>
<circle cx="485.13" cy="579.54" r="1.2" fill="#8c1529"/>
<circle cx="484.04" cy="584.13" r="1.2" fill="#8c1529"/>
<circle cx="486.52" cy="588.73" r="1.2" fill="#8c1529"/>
<circle cx="482.18" cy="589.65" r="1.2" fill="#8c1529"/>
<circle cx="486.84" cy="593.32" r="1.2" fill="#8c1529"/>
<circle cx="485.48" cy="595.16" r="1.2" fill="#8c1529"/>
<circle cx="485.96" cy="596.08" r="1.2" fill="#8c1529"/>
<circle cx="485.95" cy="597" r="1.2" fill="#8c1529"/>
<circle cx="483.07" cy="597.92" r="1.2" fill="#8c1529"/>
<circle cx="486.03" cy="598.84" r="1.2" fill="#8c1529"/>
<circle cx="485.23" cy="599.76" r="1.2" fill="#8c1529"/>
<circle cx="482.81" cy="600.68" r="1.2" fill="#8c1529"/>
<circle cx="486.23" cy="601.6" r="1.2" fill="#8c1529"/>
<circle cx="484.21" cy="602.51" r="1.2" fill="#8c1529"/>
<circle cx="485.56" cy="603.43" r="1.2" fill="#8c1529"/>
<circle cx="482.5" cy="604.35" r="1.2" fill="#8c1529"/>
<circle cx="485.36" cy="605.27" r="1.2" fill="#8c1529"/>
<circle cx="482.13" cy="606.19" r="1.2" fill="#8c1529"/>
<circle cx="482.41" cy="607.11" r="1.2" fill="#8c1529"/>
<circle cx="482.61" cy="608.95" r="1.2" fill="#8c1529"/>
<circle cx="482.32" cy="610.79" r="1.2" fill="#8c1529"/>
<circle cx="484.93" cy="613.54" r="1.2" fill="#8c1529"/>
<path d="M494.6,609.51L495.7,611.79L493.5,611.79Z" fill="#1f2d4f"/>
<path d="M493,613.71L494.1,615.99L491.9,615.99Z" fill="#1f2d4f"/>
<path d="M496,613.91L497.1,616.19L494.9,616.19Z" fill="#1f2d4f"/>
<path d="M494.6,614.31L495.7,616.59L493.5,616.59Z" fill="#1f2d4f"/>
<line x1="505.2" y1="613.5" x2="505.2" y2="569.4" stroke="#4a5a8a" stroke-width="0.8"/>
<line x1="503.6" y1="613.5" x2="506.8" y2="613.5" stroke="#4a5a8a" stroke-width="0.7"/>
<line x1="503.6" y1="569.4" x2="506.8" y2="569.4" stroke="#4a5a8a" stroke-width="0.7"/>
<rect x="501.7" y="578.6" width="7" height="26.7" fill="#a9b6da" stroke="#8594c2" stroke-width="0.5"/>
<path d="M503.48,568.14L504.58,570.42L502.38,570.42Z" fill="#1f2d4f"/>
<path d="M504.94,573.65L506.04,575.93L503.84,575.93Z" fill="#1f2d4f"/>
<path d="M504.18,586.52L505.28,588.8L503.08,588.8Z" fill="#1f2d4f"/>
<path d="M504.98,592.03L506.08,594.31L503.88,594.31Z" fill="#1f2d4f"/>
<path d="M504.22,596.63L505.32,598.91L503.12,598.91Z" fill="#1f2d4f"/>
<path d="M506.65,597.55L507.75,599.83L505.55,599.83Z" fill="#1f2d4f"/>
<path d="M505.44,601.23L506.54,603.5L504.34,603.5Z" fill="#1f2d4f"/>
<path d="M506.18,603.98L507.28,606.26L505.08,606.26Z" fill="#1f2d4f"/>
<path d="M506.91,603.98L508.01,606.26L505.81,606.26Z" fill="#1f2d4f"/>
<path d="M505.18,611.33L506.28,613.61L504.08,613.61Z" fill="#1f2d4f"/>
<text transform="translate(458.6,636.5) rotate(-29.5)" x="0" y="0" font-size="6.9" text-anchor="end" fill="#1a1a1a">Healthy</text>
<text transform="translate(479.1,636.5) rotate(-29.5)" x="0" y="0" font-size="7.4" text-anchor="end" fill="#1a1a1a">HGBL-<tspan font-style="italic">MYC</tspan>/<tspan font-style="italic">BCL2</tspan></text>
<text transform="translate(499.8,636.5) rotate(-29.5)" x="0" y="0" font-size="7.4" text-anchor="end" fill="#1a1a1a">DLBCL NOS</text>
</svg></body></html>
